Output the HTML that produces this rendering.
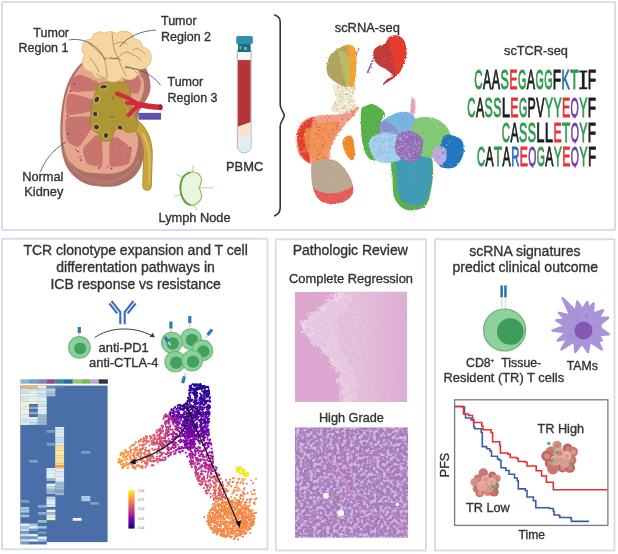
<!DOCTYPE html>
<html><head><meta charset="utf-8"><style>
html,body{margin:0;padding:0;background:#ffffff;}
svg{display:block;}
</style></head><body>
<svg width="618" height="554" viewBox="0 0 618 554">
<rect x="2" y="2" width="613" height="228" fill="#ffffff" stroke="#dcdbea" stroke-width="2" rx="0.5"/>
<rect x="2" y="238.7" width="265.5" height="310.59999999999997" fill="#ffffff" stroke="#dcdbea" stroke-width="2" rx="0.5"/>
<rect x="275.8" y="239.2" width="150.2" height="311.2" fill="#ffffff" stroke="#dcdbea" stroke-width="2" rx="0.5"/>
<rect x="435" y="239.2" width="179.5" height="311.2" fill="#ffffff" stroke="#dcdbea" stroke-width="2" rx="0.5"/>
<path d="M87.4,59.9 C80.6,61.8 77.9,66.6 74.4,71.2 C70.9,75.8 68.4,81.5 66.3,87.4 C64.2,93.3 63.0,99.5 62.0,106.8 C61.0,114.1 60.2,123.2 60.3,131.2 C60.4,139.2 60.9,148.2 62.5,155.0 C64.1,161.8 66.4,167.3 70.0,172.0 C73.6,176.7 79.0,180.6 84.0,183.0 C89.0,185.4 94.2,186.1 100.0,186.5 C105.8,186.9 112.7,187.2 118.5,185.4 C124.3,183.7 130.7,180.2 134.8,176.0 C138.9,171.8 141.5,166.0 143.0,160.0 C144.5,154.0 144.8,145.7 144.0,140.0 C143.2,134.3 138.8,130.7 138.0,126.0 C137.2,121.3 137.7,116.3 139.0,112.0 C140.3,107.7 144.1,104.0 146.0,100.0 C147.9,96.0 150.2,92.5 150.5,88.0 C150.8,83.5 149.4,76.7 148.0,73.0 C146.6,69.3 147.5,68.2 142.0,66.0 C136.5,63.8 124.1,61.0 115.0,60.0 C105.9,59.0 94.2,58.0 87.4,59.9Z" fill="#ad6f66"/>
<path d="M64,150 C68,168 82,180 100,182.5 C118,183 132,174 139,160" fill="none" stroke="#bb7d74" stroke-width="2.5" opacity="0.7"/>
<path d="M88.0,62.0 C81.5,63.8 79.3,68.5 76.0,73.0 C72.7,77.5 70.0,83.3 68.0,89.0 C66.0,94.7 64.9,100.0 64.0,107.0 C63.1,114.0 62.4,123.8 62.5,131.0 C62.6,138.2 63.1,144.7 64.5,150.0 C65.9,155.3 67.8,159.4 71.0,163.0 C74.2,166.6 79.2,169.8 84.0,171.5 C88.8,173.2 94.3,173.3 100.0,173.5 C105.7,173.7 112.8,173.9 118.0,172.5 C123.2,171.1 127.8,168.6 131.0,165.0 C134.2,161.4 135.8,155.5 137.0,151.0 C138.2,146.5 138.5,142.2 138.0,138.0 C137.5,133.8 134.5,130.3 134.0,126.0 C133.5,121.7 133.8,116.2 135.0,112.0 C136.2,107.8 139.3,104.8 141.0,101.0 C142.7,97.2 144.7,93.2 145.0,89.0 C145.3,84.8 144.2,79.3 143.0,76.0 C141.8,72.7 142.7,71.3 138.0,69.0 C133.3,66.7 123.3,63.2 115.0,62.0 C106.7,60.8 94.5,60.2 88.0,62.0Z" fill="#e6a68e"/>
<path d="M139,68 C147,74 151,84 149,94 C147,100 143,104 140,110 L137,108 C140,100 145,92 144,84 C143,76 140,72 137,70Z" fill="#b27565"/>
<path d="M71.0,79.0 C71.9,77.3 78.3,74.6 81.0,75.0 C83.7,75.4 96.8,81.1 98.3,82.6 C99.8,84.1 98.7,89.3 96.1,90.2 C93.5,91.1 74.5,92.6 72.0,91.5 C69.5,90.4 70.1,80.7 71.0,79.0Z" fill="#c9756f"/>
<path d="M68.5,94.0 C71.0,92.5 90.4,98.4 92.9,99.5 C95.4,100.6 93.6,103.9 93.5,105.0 C93.4,106.1 94.4,109.8 91.8,110.7 C89.2,111.7 69.8,116.2 67.5,114.5 C65.2,112.8 66.0,95.5 68.5,94.0Z" fill="#c9756f"/>
<path d="M66.5,118.3 C68.8,115.9 88.0,116.6 90.7,117.2 C93.4,117.8 93.1,122.6 93.0,124.0 C92.9,125.4 91.4,128.8 90.0,131.0 C88.6,133.2 81.2,145.5 79.0,146.5 C76.8,147.5 68.8,143.8 67.5,141.0 C66.2,138.2 64.2,120.7 66.5,118.3Z" fill="#c9756f"/>
<path d="M83.1,149.0 C84.0,146.2 94.2,136.6 96.1,135.6 C97.9,134.6 101.0,137.4 101.6,139.0 C102.2,140.6 102.5,149.3 102.5,152.0 C102.5,154.7 103.1,164.8 101.6,166.0 C100.1,167.2 89.3,165.5 87.5,163.8 C85.7,162.1 82.2,151.8 83.1,149.0Z" fill="#c9756f"/>
<path d="M110.2,140.0 C111.0,137.2 115.7,136.9 117.8,137.8 C119.9,138.7 129.7,146.0 130.8,148.6 C131.9,151.2 130.7,162.1 128.6,163.8 C126.5,165.5 112.0,168.4 110.2,166.0 C108.4,163.6 109.4,142.8 110.2,140.0Z" fill="#c9756f"/>
<path d="M124.0,76.0 C124.7,73.9 132.3,70.4 134.0,71.0 C135.7,71.6 140.6,79.8 141.0,82.0 C141.4,84.2 139.4,92.0 138.0,93.0 C136.6,94.0 128.4,93.7 127.0,92.0 C125.6,90.3 123.3,78.1 124.0,76.0Z" fill="#c9756f"/>
<g stroke="#b9625f" stroke-width="0.45" opacity="0.55">
<line x1="72" y1="100" x2="92" y2="104"/>
<line x1="71" y1="108" x2="92" y2="106"/>
<line x1="70" y1="124" x2="89" y2="121"/>
<line x1="70" y1="132" x2="87" y2="125"/>
<line x1="88" y1="160" x2="98" y2="142"/>
<line x1="94" y1="163" x2="100" y2="142"/>
<line x1="114" y1="160" x2="114" y2="141"/>
<line x1="121" y1="158" x2="118" y2="143"/>
<line x1="75" y1="84" x2="95" y2="86"/>
<line x1="78" y1="80" x2="96" y2="84"/>
</g>
<path d="M131,121 C142,128 148,138 148,155 L147,186" fill="none" stroke="#9d862e" stroke-width="9.5" stroke-linecap="round"/>
<path d="M131,121 C142,128 148,138 148,155 L147,186" fill="none" stroke="#c9a541" stroke-width="8" stroke-linecap="round"/>
<path d="M126,116 C134,118 140,122 146,132 C150,140 142,136 133,130Z" fill="#c9a541"/>
<path d="M143,134 C147,142 149.5,150 149.5,160 L149.5,182" fill="none" stroke="#dcbf68" stroke-width="2" stroke-linecap="round" opacity="0.9"/>
<path d="M98.3,84.2 C100.1,82.8 106.2,81.8 109.1,81.5 C112.0,81.2 117.5,81.7 120.0,82.0 C122.5,82.3 126.7,82.2 128.0,83.5 C129.3,84.8 129.5,89.3 130.0,92.0 C130.5,94.7 131.5,101.1 132.0,104.0 C132.5,106.9 133.2,111.5 134.0,114.0 C134.8,116.5 137.9,120.7 138.0,123.0 C138.1,125.3 136.6,130.1 135.1,131.3 C133.6,132.5 128.5,132.4 126.5,132.0 C124.5,131.6 121.7,128.0 120.0,128.0 C118.3,128.0 115.2,130.3 114.0,132.0 C112.8,133.7 113.0,139.4 111.3,140.5 C109.6,141.6 103.3,141.4 101.6,140.5 C99.9,139.6 99.5,135.5 98.3,134.0 C97.1,132.5 93.6,131.2 92.5,129.5 C91.4,127.8 90.4,124.3 90.2,121.6 C90.0,118.9 90.9,112.3 91.2,109.6 C91.5,106.9 91.9,103.3 92.5,101.0 C93.1,98.7 94.8,94.5 95.6,92.3 C96.4,90.1 96.5,85.6 98.3,84.2Z" fill="#ae9634" stroke="#98822c" stroke-width="0.8"/>
<ellipse cx="103.7" cy="86.8" rx="3.8" ry="2.3" transform="rotate(-10 103.7 86.8)" fill="#4a3528" stroke="#d8c478" stroke-width="0.9"/>
<ellipse cx="96.8" cy="99.5" rx="2.6" ry="3.5" transform="rotate(25 96.8 99.5)" fill="#4a3528" stroke="#d8c478" stroke-width="0.9"/>
<ellipse cx="95.2" cy="114" rx="2.6" ry="2.9" transform="rotate(0 95.2 114)" fill="#4a3528" stroke="#d8c478" stroke-width="0.9"/>
<ellipse cx="96.5" cy="127" rx="2.8" ry="3" transform="rotate(-30 96.5 127)" fill="#4a3528" stroke="#d8c478" stroke-width="0.9"/>
<ellipse cx="106" cy="135.5" rx="2.5" ry="3.2" transform="rotate(0 106 135.5)" fill="#4a3528" stroke="#d8c478" stroke-width="0.9"/>
<ellipse cx="120" cy="127.5" rx="3" ry="2.5" transform="rotate(20 120 127.5)" fill="#4a3528" stroke="#d8c478" stroke-width="0.9"/>
<ellipse cx="112" cy="117" rx="2.5" ry="1.2" fill="#977f2c"/>
<ellipse cx="113" cy="98" rx="1.2" ry="2" fill="#977f2c"/>
<path d="M123,96 C125,106 128,114 134,122" fill="none" stroke="#cdb55a" stroke-width="1" opacity="0.7"/>
<rect x="138.4" y="112.9" width="22.6" height="6.8" fill="#5d52aa"/>
<g fill="none" stroke="#cf2b3a" stroke-linecap="round">
<path d="M160,107.3 C152,107 144,105.5 137.3,104.2" stroke-width="5.5"/>
<path d="M138,104 C132,100 124,96 117,93.6" stroke-width="4.2"/>
<path d="M139,104.5 C134,103.5 130,103 126.5,103" stroke-width="3.5"/>
<path d="M140,105 C135,108 131,112 128.6,115" stroke-width="4"/>
</g>
<ellipse cx="160.5" cy="107.3" rx="1.7" ry="3" fill="#a81e2a"/>
<circle cx="74" cy="84" r="0.95" fill="#c03040"/>
<circle cx="72.5" cy="80" r="0.95" fill="#8a78c0"/>
<circle cx="70.5" cy="91" r="0.95" fill="#c03040"/>
<circle cx="67.5" cy="116" r="0.95" fill="#c03040"/>
<circle cx="68" cy="118.5" r="0.95" fill="#8a78c0"/>
<circle cx="68" cy="131.5" r="0.95" fill="#8a78c0"/>
<circle cx="68" cy="134" r="0.95" fill="#c03040"/>
<circle cx="76" cy="150" r="0.95" fill="#8a78c0"/>
<circle cx="78" cy="151.5" r="0.95" fill="#c03040"/>
<circle cx="80" cy="157" r="0.95" fill="#8a78c0"/>
<circle cx="81" cy="160" r="0.95" fill="#c03040"/>
<circle cx="99" cy="168" r="0.95" fill="#c03040"/>
<circle cx="101" cy="166.5" r="0.95" fill="#8a78c0"/>
<circle cx="108" cy="167" r="0.95" fill="#8a78c0"/>
<circle cx="111.5" cy="168.5" r="0.95" fill="#c03040"/>
<circle cx="130.5" cy="148" r="0.95" fill="#c03040"/>
<circle cx="131" cy="150.5" r="0.95" fill="#8a78c0"/>
<circle cx="141" cy="76" r="0.95" fill="#8a78c0"/>
<circle cx="90.5" cy="48" r="9.2" fill="#e0b87a"/>
<circle cx="92" cy="62" r="10.2" fill="#e0b87a"/>
<circle cx="100" cy="40" r="8.7" fill="#e0b87a"/>
<circle cx="110" cy="43" r="11.7" fill="#e0b87a"/>
<circle cx="124" cy="42" r="11.2" fill="#e0b87a"/>
<circle cx="134" cy="47" r="8.7" fill="#e0b87a"/>
<circle cx="140" cy="58" r="11.7" fill="#e0b87a"/>
<circle cx="129" cy="70" r="10.2" fill="#e0b87a"/>
<circle cx="113" cy="70" r="12.2" fill="#e0b87a"/>
<circle cx="100" cy="70" r="8.7" fill="#e0b87a"/>
<circle cx="118" cy="56" r="12.7" fill="#e0b87a"/>
<circle cx="90.5" cy="48" r="8.5" fill="#f6d6a0"/>
<circle cx="92" cy="62" r="9.5" fill="#f6d6a0"/>
<circle cx="100" cy="40" r="8" fill="#f6d6a0"/>
<circle cx="110" cy="43" r="11" fill="#f6d6a0"/>
<circle cx="124" cy="42" r="10.5" fill="#f6d6a0"/>
<circle cx="134" cy="47" r="8" fill="#f6d6a0"/>
<circle cx="140" cy="58" r="11" fill="#f6d6a0"/>
<circle cx="129" cy="70" r="9.5" fill="#f6d6a0"/>
<circle cx="113" cy="70" r="11.5" fill="#f6d6a0"/>
<circle cx="100" cy="70" r="8" fill="#f6d6a0"/>
<circle cx="118" cy="56" r="12" fill="#f6d6a0"/>
<ellipse cx="112" cy="57" rx="22" ry="15" fill="#f6d6a0"/>
<g fill="none" stroke="#b88a5c" stroke-width="0.9" stroke-linecap="round">
<path d="M89,44 C95,48 100,52 103.5,57.5"/>
<path d="M103.5,57.5 C106,63 107,70 107,78"/>
<path d="M103.5,57.5 C110,59 114,59 118,58"/>
<path d="M118,58 C121,54 124,52 128,52"/>
<path d="M112,33 C113,42 113,50 118,58"/>
<path d="M118,58 C120,64 123,70 126,76"/>
<path d="M128,52 C133,55 137,56 141,60"/>
<path d="M125,66 C129,66 134,69 137,73"/>
<path d="M90,58 C93,62 97,66 99,72"/>
<path d="M114,44 C118,42 123,41 127,44"/>
<path d="M133,50 C137,47 142,50 145,54"/>
<path d="M96,74 C100,76 103,78 106,79"/>
</g>
<g fill="none" stroke="#c8403a" stroke-width="0.8"><path d="M110,57.5 L114,59 L118,58 L121,61"/><path d="M104,58 L106,60"/></g>
<g fill="none" stroke="#5c5c5c" stroke-width="0.9">
<path d="M68.5,40 C80,38 94,41 103.6,56.8"/>
<path d="M156,30 C141,31 128,36 119.6,47"/>
<path d="M125,67.5 C140,68 152,74 160.6,85.3"/>
<path d="M40.5,172 C44,162 52,150 66,142"/>
</g>
<path d="M237.3,50 L237.3,146 A6.9,6.9 0 0 0 251.1,146 L251.1,50 Z" fill="#f4fafc" stroke="#a5a5a5" stroke-width="0.9"/>
<path d="M238,60 L250.5,60 L250.5,122.2 L238,126.7 Z" fill="#b2353a"/>
<path d="M238,126.7 L250.5,122.2 L250.5,135.3 L238,138.9 Z" fill="#fae1c8"/>
<path d="M238,138.9 L250.5,135.3 L250.5,146 A6.25,6.25 0 0 1 238,146 Z" fill="#dcf0f4"/>
<rect x="238" y="60" width="12.5" height="2" fill="#c24448" opacity="0.6"/>
<rect x="238" y="43" width="12.6" height="9" fill="#1f6b7b"/>
<rect x="236.2" y="36" width="16.6" height="8" rx="1.5" fill="#2b93a8"/>
<rect x="239.5" y="46" width="2" height="3" fill="#5fb4c4"/><rect x="244" y="47" width="3" height="3" fill="#5fb4c4"/>
<g stroke="#cfe3b6" stroke-width="1.6" stroke-linecap="round">
<line x1="193" y1="165.8" x2="193" y2="172"/>
<line x1="177" y1="174.6" x2="183" y2="177.5"/>
<line x1="174.8" y1="196.4" x2="181.3" y2="194.2"/>
<line x1="193.7" y1="204.4" x2="196.6" y2="209.5"/>
<line x1="200.2" y1="187.7" x2="212.6" y2="187.7"/>
</g>
<path d="M180.3,187.7 C180.1,183.2 181.1,179.8 183.0,177.0 C184.9,174.2 188.1,172.8 190.8,172.2 C193.6,171.6 196.0,172.3 198.0,173.5 C200.0,174.7 201.0,177.0 201.5,179.0 C202.0,181.0 201.0,182.9 200.5,184.5 C200.0,186.1 199.0,186.5 199.0,187.7 C199.0,188.9 200.0,189.2 200.5,191.0 C201.0,192.8 202.1,195.2 201.5,197.5 C200.9,199.8 199.0,202.1 197.0,203.5 C195.0,204.9 193.2,205.7 190.8,205.3 C188.4,204.9 185.9,204.7 184.0,201.5 C182.1,198.3 180.5,192.2 180.3,187.7Z" fill="#e9f5dc" stroke="#86bb66" stroke-width="1.1"/>
<path d="M190,172.5 C184,174 180.5,180 180.3,188 C180.5,196 184,202 190,205" fill="none" stroke="#5f9e44" stroke-width="1.8" stroke-linecap="round"/>
<path d="M274.7,15 C278,16 280.2,18.5 280.2,22 L280.2,105 C280.2,109 284.3,113 284.3,115.5 C284.3,118 280.2,122 280.2,126 L280.2,207.5 C280.2,211.5 278,214.5 274.7,215.8" fill="none" stroke="#333" stroke-width="1.6" stroke-linecap="round"/>
<defs><filter id="rough" x="-10%" y="-10%" width="120%" height="120%"><feTurbulence type="fractalNoise" baseFrequency="0.9" numOctaves="2" seed="3"/><feDisplacementMap in="SourceGraphic" scale="2.5"/><feGaussianBlur stdDeviation="0.45"/></filter></defs>
<g filter="url(#rough)">
<path d="M333.0,85.0 C334.5,82.7 341.2,84.5 345.0,84.5 C348.8,84.5 354.5,82.7 356.0,85.0 C357.5,87.3 353.6,94.2 354.0,98.5 C354.4,102.8 360.0,108.1 358.5,110.5 C357.0,112.9 349.6,113.0 345.0,113.0 C340.4,113.0 332.5,112.9 331.0,110.5 C329.5,108.1 335.7,102.8 336.0,98.5 C336.3,94.2 331.5,87.3 333.0,85.0Z" fill="#ece4cc" />
<path d="M327.0,64.3 C327.6,60.9 328.7,56.9 331.1,54.0 C333.5,51.1 338.2,48.6 341.4,47.1 C344.5,45.6 347.8,44.4 350.0,45.0 C352.2,45.6 353.5,46.8 354.4,50.6 C355.2,54.4 355.3,62.0 355.1,67.7 C354.9,73.4 355.1,81.7 353.4,84.8 C351.7,87.9 347.9,87.1 344.8,86.5 C341.7,85.9 337.4,83.4 334.5,81.4 C331.6,79.4 328.9,77.4 327.7,74.6 C326.4,71.8 326.4,67.7 327.0,64.3Z" fill="#aca45e" />
<path d="M338,50 C347,50 352,58 352,70 C352,78 350,84 347,86 C343,75 340,60 338,50Z" fill="#d0c868" opacity="0.55"/>
<path d="M346,45 C352,43 356,47 356.5,55 C357,66 356,77 354,85 C352,88 350,88 349,85 C351,73 351,58 346,45Z" fill="#f0a232"/>
<path d="M373.5,51.1 C374.0,49.1 375.8,47.6 377.6,46.4 C379.4,45.2 384.2,44.1 385.8,42.9 C387.4,41.7 387.0,39.3 388.2,38.2 C389.4,37.1 392.2,35.6 394.0,35.3 C395.8,35.0 398.4,35.5 400.0,36.5 C401.6,37.5 403.6,39.2 404.6,41.7 C405.6,44.2 406.5,50.3 406.4,53.5 C406.3,56.7 405.0,60.1 404.0,62.9 C403.0,65.7 401.2,70.2 399.9,72.3 C398.6,74.4 397.0,75.6 395.2,77.0 C393.4,78.4 390.1,80.5 388.2,81.7 C386.3,82.9 382.5,85.6 382.3,85.2 C382.1,84.8 385.4,80.7 387.0,79.3 C388.6,77.9 392.9,77.2 392.9,75.8 C392.9,74.4 389.1,71.5 387.0,69.9 C384.9,68.3 380.7,66.8 378.8,65.2 C376.9,63.6 374.9,61.5 374.1,59.4 C373.3,57.3 373.0,53.1 373.5,51.1Z" fill="#c23a3a" />
<path d="M388,38 C392,35 400,35 404.6,41.7 C407,48 407,58 404,63 C402,69 399,73 396,76 C394,68 393,60 391,52 C390,46 389,42 388,38Z" fill="#e63a2c"/>
<path d="M367.6,72.3 L372.9,60.5" stroke="#9a6ac8" stroke-width="1.8" stroke-linecap="round"/>
<path d="M356,55 L359,48" stroke="#e06060" stroke-width="1.2"/>
<path d="M296.9,132.8 C297.8,127.4 300.3,123.7 303.7,120.8 C307.1,117.9 311.1,116.8 317.4,115.7 C323.7,114.6 334.5,115.4 341.4,114.0 C348.2,112.6 356.2,107.1 358.5,107.1 C360.8,107.1 358.0,110.3 355.1,114.0 C352.2,117.7 345.4,124.0 341.4,129.4 C337.4,134.8 333.4,141.1 331.1,146.5 C328.8,151.9 331.1,159.1 327.7,162.0 C324.3,164.9 315.5,165.1 310.6,163.7 C305.8,162.3 300.9,158.6 298.6,153.4 C296.3,148.2 296.0,138.2 296.9,132.8Z" fill="#f0a08c" />
<path d="M297,133 C300,124 306,119 316,116.5 C310,126 308,140 310,163 C302,160 297,150 297,133Z" fill="#e4402e"/>
<path d="M304,134 C310,124 326,120 340,122 C336,136 328,150 324,162 C312,162 304,152 304,134Z" fill="#f09050" opacity="0.85"/>
<path d="M314.0,162.0 C317.9,159.7 328.8,158.2 334.5,160.2 C340.2,162.2 345.2,168.9 348.3,174.0 C351.4,179.1 354.0,186.4 353.4,191.0 C352.8,195.6 349.6,199.4 344.8,201.4 C340.0,203.4 329.4,204.7 324.3,203.0 C319.2,201.3 316.2,195.8 314.0,191.0 C311.8,186.2 311.2,178.8 311.2,174.0 C311.2,169.2 310.1,164.3 314.0,162.0Z" fill="#baa892" />
<path d="M313,188 C322,195 340,196 353,186 C354,196 348,202 334,204 C322,204 316,199 313,188Z" fill="#e85a58"/>
<path d="M343.0,139.7 C344.1,137.1 349.7,133.9 351.7,136.2 C353.7,138.5 355.1,149.4 355.1,153.4 C355.1,157.4 353.4,160.5 351.7,160.2 C350.0,159.9 346.2,155.1 344.8,151.7 C343.4,148.3 341.9,142.3 343.0,139.7Z" fill="#f08a2a" />
<path d="M361.0,111.0 C361.7,105.3 364.2,107.2 366.0,106.0 C367.8,104.8 369.7,103.7 372.0,104.0 C374.3,104.3 377.8,106.3 380.0,108.0 C382.2,109.7 384.8,111.7 385.0,114.0 C385.2,116.3 381.8,118.0 381.0,122.0 C380.2,126.0 380.3,133.0 380.0,138.0 C379.7,143.0 380.0,148.3 379.0,152.0 C378.0,155.7 376.0,159.3 374.0,160.0 C372.0,160.7 369.0,159.3 367.0,156.0 C365.0,152.7 363.0,147.5 362.0,140.0 C361.0,132.5 360.3,116.7 361.0,111.0Z" fill="#58b04a" />
<path d="M394.0,156.0 C399.9,152.4 421.5,153.8 428.0,156.0 C434.5,158.2 432.5,163.3 433.0,169.0 C433.5,174.7 432.3,183.8 431.0,190.0 C429.7,196.2 429.0,203.2 425.0,206.5 C421.0,209.8 412.0,211.2 407.0,210.0 C402.0,208.8 397.4,204.4 395.0,199.0 C392.6,193.6 392.7,184.5 392.5,177.3 C392.3,170.1 388.1,159.6 394.0,156.0Z" fill="#5cb048" />
<path d="M398.0,157.0 C403.2,153.7 422.3,155.0 428.0,157.0 C433.7,159.0 431.7,163.5 432.0,169.0 C432.3,174.5 431.3,184.3 430.0,190.0 C428.7,195.7 427.5,200.5 424.0,203.0 C420.5,205.5 413.2,206.3 409.0,205.0 C404.8,203.7 401.0,199.7 399.0,195.0 C397.0,190.3 397.2,183.3 397.0,177.0 C396.8,170.7 392.8,160.3 398.0,157.0Z" fill="#3f9cb4" />
<path d="M381.0,124.0 C381.3,119.5 388.8,117.0 392.0,115.0 C395.2,113.0 397.3,112.5 400.0,112.0 C402.7,111.5 405.7,111.6 408.0,112.3 C410.3,113.0 412.5,112.7 414.0,116.0 C415.5,119.3 418.3,127.7 417.0,132.0 C415.7,136.3 410.5,140.3 406.0,142.0 C401.5,143.7 394.2,145.0 390.0,142.0 C385.8,139.0 380.7,128.5 381.0,124.0Z" fill="#78b4e0" />
<path d="M380,122 C388,119 398,126 400,140 C392,143 383,140 379,132Z" fill="#8a8ccc" opacity="0.85"/>
<path d="M369.0,142.0 C369.7,138.0 374.2,135.5 378.0,134.0 C381.8,132.5 387.7,132.0 392.0,133.0 C396.3,134.0 401.7,136.8 404.0,140.0 C406.3,143.2 407.0,148.5 406.0,152.0 C405.0,155.5 401.7,159.2 398.0,161.0 C394.3,162.8 388.0,163.5 384.0,163.0 C380.0,162.5 376.5,161.5 374.0,158.0 C371.5,154.5 368.3,146.0 369.0,142.0Z" fill="#a4cfec" />
<path d="M414.0,121.0 C417.2,116.2 425.7,116.7 431.0,117.5 C436.3,118.3 442.7,122.2 446.0,126.0 C449.3,129.8 451.5,135.7 451.0,140.5 C450.5,145.3 447.5,152.2 443.0,155.0 C438.5,157.8 429.2,158.5 424.0,157.0 C418.8,155.5 413.7,152.0 412.0,146.0 C410.3,140.0 410.8,125.8 414.0,121.0Z" fill="#84c874" />
<path d="M446.0,135.0 C449.5,133.9 458.1,136.4 461.0,139.5 C463.9,142.6 464.5,148.9 463.5,153.5 C462.5,158.1 458.8,164.8 455.0,167.0 C451.2,169.2 444.1,168.5 441.0,167.0 C437.9,165.5 436.7,161.3 436.5,157.8 C436.3,154.3 438.4,149.8 440.0,146.0 C441.6,142.2 442.5,136.1 446.0,135.0Z" fill="#2078c0" />
<path d="M435.0,147.0 C437.0,145.3 443.2,145.8 445.0,148.0 C446.8,150.2 446.8,157.2 446.0,160.0 C445.2,162.8 442.2,165.3 440.0,165.0 C437.8,164.7 433.8,161.0 433.0,158.0 C432.2,155.0 433.0,148.7 435.0,147.0Z" fill="#c2a8e0" />
<path d="M399.0,134.0 C401.2,131.2 405.2,131.2 408.0,131.0 C410.8,130.8 413.5,131.5 416.0,133.0 C418.5,134.5 422.0,137.2 423.0,140.0 C424.0,142.8 422.8,146.7 422.0,150.0 C421.2,153.3 420.3,158.0 418.0,160.0 C415.7,162.0 411.0,162.3 408.0,162.0 C405.0,161.7 402.2,160.3 400.0,158.0 C397.8,155.7 395.2,152.0 395.0,148.0 C394.8,144.0 396.8,136.8 399.0,134.0Z" fill="#9a6cb8" />
<path d="M410,114 C411,106 410,100 413,97 C416,100 416,106 415,114Z" fill="#e0a8b0"/>
</g>
<circle cx="407.7" cy="148.4" r="0.65" fill="#88b8e0"/>
<circle cx="407.7" cy="157.5" r="0.65" fill="#b090d0"/>
<circle cx="400.2" cy="146.9" r="0.65" fill="#b090d0"/>
<circle cx="397.6" cy="140.4" r="0.65" fill="#7a50a0"/>
<circle cx="410.1" cy="158.6" r="0.65" fill="#7a50a0"/>
<circle cx="411.7" cy="143.3" r="0.65" fill="#88b8e0"/>
<circle cx="413.3" cy="150.1" r="0.65" fill="#b090d0"/>
<circle cx="412.4" cy="156.8" r="0.65" fill="#7a50a0"/>
<circle cx="408.0" cy="144.7" r="0.65" fill="#b090d0"/>
<circle cx="409.5" cy="150.8" r="0.65" fill="#88b8e0"/>
<circle cx="413.3" cy="143.6" r="0.65" fill="#7a50a0"/>
<circle cx="414.8" cy="140.8" r="0.65" fill="#b090d0"/>
<circle cx="409.4" cy="131.9" r="0.65" fill="#7a50a0"/>
<circle cx="406.2" cy="157.2" r="0.65" fill="#88b8e0"/>
<circle cx="414.2" cy="137.6" r="0.65" fill="#7a50a0"/>
<circle cx="408.2" cy="161.4" r="0.65" fill="#88b8e0"/>
<circle cx="406.8" cy="148.6" r="0.65" fill="#b090d0"/>
<circle cx="416.8" cy="139.4" r="0.65" fill="#7a50a0"/>
<circle cx="406.5" cy="159.6" r="0.65" fill="#b090d0"/>
<circle cx="401.9" cy="134.1" r="0.65" fill="#7a50a0"/>
<circle cx="408.0" cy="146.1" r="0.65" fill="#b090d0"/>
<circle cx="407.5" cy="136.9" r="0.65" fill="#b090d0"/>
<circle cx="406.7" cy="142.9" r="0.65" fill="#88b8e0"/>
<circle cx="406.8" cy="137.6" r="0.65" fill="#a0c8e8"/>
<circle cx="411.2" cy="132.3" r="0.65" fill="#b090d0"/>
<circle cx="401.0" cy="139.0" r="0.65" fill="#a0c8e8"/>
<circle cx="418.2" cy="143.0" r="0.65" fill="#7a50a0"/>
<circle cx="397.5" cy="149.1" r="0.65" fill="#b090d0"/>
<circle cx="412.4" cy="134.9" r="0.65" fill="#88b8e0"/>
<circle cx="405.8" cy="150.4" r="0.65" fill="#a0c8e8"/>
<circle cx="402.0" cy="136.9" r="0.65" fill="#b090d0"/>
<circle cx="414.2" cy="143.0" r="0.65" fill="#88b8e0"/>
<circle cx="411.9" cy="144.1" r="0.65" fill="#7a50a0"/>
<circle cx="398.1" cy="146.9" r="0.65" fill="#a0c8e8"/>
<circle cx="401.7" cy="152.8" r="0.65" fill="#a0c8e8"/>
<circle cx="406.8" cy="159.0" r="0.65" fill="#88b8e0"/>
<circle cx="403.2" cy="136.4" r="0.65" fill="#7a50a0"/>
<circle cx="398.5" cy="145.9" r="0.65" fill="#7a50a0"/>
<circle cx="402.5" cy="144.8" r="0.65" fill="#7a50a0"/>
<circle cx="409.9" cy="161.2" r="0.65" fill="#7a50a0"/>
<circle cx="405.1" cy="158.6" r="0.65" fill="#a0c8e8"/>
<circle cx="413.4" cy="152.4" r="0.65" fill="#b090d0"/>
<circle cx="411.5" cy="159.6" r="0.65" fill="#88b8e0"/>
<circle cx="420.5" cy="152.7" r="0.65" fill="#7a50a0"/>
<circle cx="408.5" cy="153.6" r="0.65" fill="#a0c8e8"/>
<circle cx="407.7" cy="142.4" r="0.65" fill="#7a50a0"/>
<circle cx="420.2" cy="153.8" r="0.65" fill="#b090d0"/>
<circle cx="417.2" cy="159.4" r="0.65" fill="#a0c8e8"/>
<circle cx="397.4" cy="145.7" r="0.65" fill="#7a50a0"/>
<circle cx="419.4" cy="143.9" r="0.65" fill="#7a50a0"/>
<circle cx="419.2" cy="148.8" r="0.65" fill="#88b8e0"/>
<circle cx="398.2" cy="139.0" r="0.65" fill="#88b8e0"/>
<circle cx="415.4" cy="143.0" r="0.65" fill="#88b8e0"/>
<circle cx="407.3" cy="157.0" r="0.65" fill="#7a50a0"/>
<circle cx="409.5" cy="147.0" r="0.65" fill="#a0c8e8"/>
<circle cx="411.8" cy="145.9" r="0.65" fill="#b090d0"/>
<circle cx="416.8" cy="151.5" r="0.65" fill="#88b8e0"/>
<circle cx="403.4" cy="152.0" r="0.65" fill="#b090d0"/>
<circle cx="409.5" cy="154.4" r="0.65" fill="#a0c8e8"/>
<circle cx="413.5" cy="144.7" r="0.65" fill="#b090d0"/>
<circle cx="404.2" cy="151.6" r="0.65" fill="#b090d0"/>
<circle cx="412.8" cy="155.9" r="0.65" fill="#b090d0"/>
<circle cx="419.6" cy="142.9" r="0.65" fill="#a0c8e8"/>
<circle cx="400.9" cy="135.2" r="0.65" fill="#a0c8e8"/>
<circle cx="418.4" cy="157.3" r="0.65" fill="#7a50a0"/>
<circle cx="421.6" cy="139.6" r="0.65" fill="#b090d0"/>
<circle cx="398.2" cy="145.6" r="0.65" fill="#b090d0"/>
<circle cx="418.3" cy="142.9" r="0.65" fill="#88b8e0"/>
<circle cx="413.8" cy="153.2" r="0.65" fill="#88b8e0"/>
<circle cx="404.0" cy="156.7" r="0.65" fill="#a0c8e8"/>
<circle cx="414.8" cy="148.7" r="0.65" fill="#a0c8e8"/>
<circle cx="413.2" cy="148.5" r="0.65" fill="#b090d0"/>
<circle cx="406.3" cy="136.9" r="0.65" fill="#a0c8e8"/>
<circle cx="401.6" cy="135.4" r="0.65" fill="#7a50a0"/>
<circle cx="398.1" cy="147.6" r="0.65" fill="#a0c8e8"/>
<circle cx="400.6" cy="145.7" r="0.65" fill="#b090d0"/>
<circle cx="415.0" cy="154.4" r="0.65" fill="#7a50a0"/>
<circle cx="400.0" cy="139.4" r="0.65" fill="#a0c8e8"/>
<circle cx="410.1" cy="160.4" r="0.65" fill="#b090d0"/>
<circle cx="406.0" cy="155.5" r="0.65" fill="#b090d0"/>
<circle cx="415.2" cy="135.0" r="0.65" fill="#88b8e0"/>
<circle cx="395.2" cy="148.1" r="0.65" fill="#a0c8e8"/>
<circle cx="408.0" cy="151.2" r="0.65" fill="#b090d0"/>
<circle cx="417.4" cy="159.7" r="0.65" fill="#7a50a0"/>
<circle cx="410.0" cy="155.5" r="0.65" fill="#a0c8e8"/>
<circle cx="402.3" cy="153.3" r="0.65" fill="#7a50a0"/>
<circle cx="404.8" cy="133.6" r="0.65" fill="#88b8e0"/>
<circle cx="404.6" cy="144.1" r="0.65" fill="#a0c8e8"/>
<circle cx="408.6" cy="131.9" r="0.65" fill="#7a50a0"/>
<circle cx="407.0" cy="132.1" r="0.65" fill="#a0c8e8"/>
<circle cx="414.2" cy="159.4" r="0.65" fill="#88b8e0"/>
<circle cx="399.2" cy="147.0" r="0.65" fill="#88b8e0"/>
<circle cx="421.5" cy="146.3" r="0.65" fill="#7a50a0"/>
<circle cx="416.2" cy="144.6" r="0.65" fill="#a0c8e8"/>
<circle cx="418.3" cy="148.4" r="0.65" fill="#b090d0"/>
<circle cx="409.6" cy="157.2" r="0.65" fill="#a0c8e8"/>
<circle cx="403.7" cy="142.8" r="0.65" fill="#b090d0"/>
<circle cx="403.5" cy="135.4" r="0.65" fill="#a0c8e8"/>
<circle cx="411.0" cy="137.2" r="0.65" fill="#7a50a0"/>
<circle cx="409.1" cy="149.8" r="0.65" fill="#7a50a0"/>
<circle cx="410.1" cy="132.4" r="0.65" fill="#88b8e0"/>
<circle cx="407.9" cy="159.5" r="0.65" fill="#88b8e0"/>
<circle cx="402.5" cy="145.7" r="0.65" fill="#b090d0"/>
<circle cx="404.5" cy="158.9" r="0.65" fill="#88b8e0"/>
<circle cx="409.7" cy="134.4" r="0.65" fill="#88b8e0"/>
<circle cx="412.3" cy="159.7" r="0.65" fill="#b090d0"/>
<circle cx="415.3" cy="138.6" r="0.65" fill="#88b8e0"/>
<circle cx="397.9" cy="153.7" r="0.65" fill="#7a50a0"/>
<circle cx="418.9" cy="150.3" r="0.65" fill="#b090d0"/>
<circle cx="414.6" cy="158.2" r="0.65" fill="#7a50a0"/>
<circle cx="394.5" cy="124.4" r="0.6" fill="#a0c8f0"/>
<circle cx="400.4" cy="137.9" r="0.6" fill="#a0c8f0"/>
<circle cx="400.1" cy="137.5" r="0.6" fill="#a0c8f0"/>
<circle cx="389.4" cy="134.2" r="0.6" fill="#8a88cc"/>
<circle cx="413.5" cy="121.5" r="0.6" fill="#8a88cc"/>
<circle cx="413.1" cy="117.8" r="0.6" fill="#a0c8f0"/>
<circle cx="413.0" cy="116.0" r="0.6" fill="#a0c8f0"/>
<circle cx="395.0" cy="125.0" r="0.6" fill="#8a88cc"/>
<circle cx="400.6" cy="133.1" r="0.6" fill="#a0c8f0"/>
<circle cx="395.5" cy="132.6" r="0.6" fill="#a0c8f0"/>
<circle cx="384.5" cy="129.1" r="0.6" fill="#8a88cc"/>
<circle cx="385.2" cy="127.2" r="0.6" fill="#8a88cc"/>
<circle cx="399.1" cy="132.6" r="0.6" fill="#a0c8f0"/>
<circle cx="409.9" cy="126.5" r="0.6" fill="#a0c8f0"/>
<circle cx="399.5" cy="129.1" r="0.6" fill="#a0c8f0"/>
<circle cx="391.2" cy="132.2" r="0.6" fill="#a0c8f0"/>
<circle cx="385.8" cy="132.4" r="0.6" fill="#a0c8f0"/>
<circle cx="408.5" cy="121.8" r="0.6" fill="#8a88cc"/>
<circle cx="396.4" cy="122.6" r="0.6" fill="#a0c8f0"/>
<circle cx="402.6" cy="112.4" r="0.6" fill="#a0c8f0"/>
<circle cx="411.4" cy="117.4" r="0.6" fill="#8a88cc"/>
<circle cx="393.9" cy="123.1" r="0.6" fill="#a0c8f0"/>
<circle cx="402.8" cy="114.8" r="0.6" fill="#a0c8f0"/>
<circle cx="401.5" cy="117.7" r="0.6" fill="#8a88cc"/>
<circle cx="410.0" cy="119.7" r="0.6" fill="#a0c8f0"/>
<circle cx="407.8" cy="135.3" r="0.6" fill="#8a88cc"/>
<circle cx="385.8" cy="121.9" r="0.6" fill="#8a88cc"/>
<circle cx="408.6" cy="135.0" r="0.6" fill="#8a88cc"/>
<circle cx="409.7" cy="121.1" r="0.6" fill="#a0c8f0"/>
<circle cx="404.0" cy="130.7" r="0.6" fill="#a0c8f0"/>
<circle cx="390.8" cy="140.8" r="0.6" fill="#8a88cc"/>
<circle cx="393.2" cy="131.8" r="0.6" fill="#a0c8f0"/>
<circle cx="400.2" cy="123.7" r="0.6" fill="#8a88cc"/>
<circle cx="404.1" cy="133.0" r="0.6" fill="#8a88cc"/>
<circle cx="403.2" cy="134.2" r="0.6" fill="#8a88cc"/>
<circle cx="397.0" cy="127.1" r="0.6" fill="#a0c8f0"/>
<circle cx="404.3" cy="112.3" r="0.6" fill="#8a88cc"/>
<circle cx="390.0" cy="139.2" r="0.6" fill="#8a88cc"/>
<circle cx="415.8" cy="129.0" r="0.6" fill="#a0c8f0"/>
<circle cx="404.0" cy="136.3" r="0.6" fill="#a0c8f0"/>
<circle cx="389.3" cy="153.1" r="0.6" fill="#80b8e0"/>
<circle cx="383.3" cy="161.2" r="0.6" fill="#c8e4f4"/>
<circle cx="386.5" cy="138.1" r="0.6" fill="#c8e4f4"/>
<circle cx="389.1" cy="150.9" r="0.6" fill="#c8e4f4"/>
<circle cx="404.0" cy="145.6" r="0.6" fill="#9a8ad0"/>
<circle cx="383.7" cy="142.4" r="0.6" fill="#9a8ad0"/>
<circle cx="379.6" cy="152.7" r="0.6" fill="#9a8ad0"/>
<circle cx="403.4" cy="152.9" r="0.6" fill="#9a8ad0"/>
<circle cx="378.1" cy="134.3" r="0.6" fill="#80b8e0"/>
<circle cx="384.1" cy="153.5" r="0.6" fill="#80b8e0"/>
<circle cx="402.2" cy="155.5" r="0.6" fill="#80b8e0"/>
<circle cx="390.5" cy="154.7" r="0.6" fill="#c8e4f4"/>
<circle cx="384.9" cy="147.3" r="0.6" fill="#80b8e0"/>
<circle cx="378.1" cy="154.2" r="0.6" fill="#80b8e0"/>
<circle cx="392.1" cy="146.7" r="0.6" fill="#80b8e0"/>
<circle cx="400.9" cy="143.7" r="0.6" fill="#80b8e0"/>
<circle cx="373.6" cy="146.3" r="0.6" fill="#9a8ad0"/>
<circle cx="384.4" cy="151.0" r="0.6" fill="#9a8ad0"/>
<circle cx="390.5" cy="145.6" r="0.6" fill="#9a8ad0"/>
<circle cx="377.8" cy="136.4" r="0.6" fill="#c8e4f4"/>
<circle cx="398.0" cy="151.7" r="0.6" fill="#c8e4f4"/>
<circle cx="379.2" cy="151.3" r="0.6" fill="#9a8ad0"/>
<circle cx="389.9" cy="150.8" r="0.6" fill="#9a8ad0"/>
<circle cx="379.3" cy="140.2" r="0.6" fill="#80b8e0"/>
<circle cx="387.6" cy="152.6" r="0.6" fill="#80b8e0"/>
<circle cx="371.2" cy="141.1" r="0.6" fill="#c8e4f4"/>
<circle cx="377.2" cy="141.3" r="0.6" fill="#80b8e0"/>
<circle cx="386.9" cy="143.6" r="0.6" fill="#c8e4f4"/>
<circle cx="381.7" cy="155.3" r="0.6" fill="#80b8e0"/>
<circle cx="398.7" cy="146.4" r="0.6" fill="#9a8ad0"/>
<circle cx="400.0" cy="156.1" r="0.6" fill="#c8e4f4"/>
<circle cx="384.7" cy="140.7" r="0.6" fill="#80b8e0"/>
<circle cx="382.7" cy="152.6" r="0.6" fill="#9a8ad0"/>
<circle cx="381.0" cy="149.5" r="0.6" fill="#9a8ad0"/>
<circle cx="399.6" cy="138.5" r="0.6" fill="#9a8ad0"/>
<circle cx="382.7" cy="135.9" r="0.6" fill="#c8e4f4"/>
<circle cx="389.9" cy="147.5" r="0.6" fill="#9a8ad0"/>
<circle cx="386.1" cy="157.7" r="0.6" fill="#80b8e0"/>
<circle cx="393.5" cy="135.5" r="0.6" fill="#c8e4f4"/>
<circle cx="387.3" cy="155.9" r="0.6" fill="#c8e4f4"/>
<circle cx="379.5" cy="137.3" r="0.6" fill="#c8e4f4"/>
<circle cx="393.3" cy="142.8" r="0.6" fill="#80b8e0"/>
<circle cx="380.9" cy="146.2" r="0.6" fill="#9a8ad0"/>
<circle cx="402.8" cy="146.1" r="0.6" fill="#c8e4f4"/>
<circle cx="386.0" cy="139.6" r="0.6" fill="#9a8ad0"/>
<circle cx="402.1" cy="140.4" r="0.6" fill="#c8e4f4"/>
<circle cx="394.0" cy="150.5" r="0.6" fill="#80b8e0"/>
<circle cx="396.3" cy="144.0" r="0.6" fill="#c8e4f4"/>
<circle cx="389.0" cy="158.1" r="0.6" fill="#9a8ad0"/>
<circle cx="385.8" cy="158.6" r="0.6" fill="#80b8e0"/>
<circle cx="377.2" cy="134.7" r="0.6" fill="#80b8e0"/>
<circle cx="390.0" cy="162.0" r="0.6" fill="#9a8ad0"/>
<circle cx="400.1" cy="145.7" r="0.6" fill="#9a8ad0"/>
<circle cx="389.2" cy="156.6" r="0.6" fill="#80b8e0"/>
<circle cx="381.4" cy="141.2" r="0.6" fill="#80b8e0"/>
<circle cx="392.5" cy="137.3" r="0.6" fill="#9a8ad0"/>
<circle cx="399.2" cy="145.7" r="0.6" fill="#9a8ad0"/>
<circle cx="377.2" cy="156.0" r="0.6" fill="#9a8ad0"/>
<circle cx="381.5" cy="146.8" r="0.6" fill="#c8e4f4"/>
<circle cx="393.9" cy="147.8" r="0.6" fill="#9a8ad0"/>
<circle cx="426.7" cy="121.0" r="0.6" fill="#70b860"/>
<circle cx="449.4" cy="142.8" r="0.6" fill="#70b860"/>
<circle cx="439.7" cy="149.2" r="0.6" fill="#70b860"/>
<circle cx="421.6" cy="123.9" r="0.6" fill="#70b860"/>
<circle cx="438.7" cy="130.2" r="0.6" fill="#70b860"/>
<circle cx="428.6" cy="129.0" r="0.6" fill="#a0d890"/>
<circle cx="430.4" cy="146.4" r="0.6" fill="#70b860"/>
<circle cx="437.3" cy="148.1" r="0.6" fill="#a0d890"/>
<circle cx="443.2" cy="129.8" r="0.6" fill="#a0d890"/>
<circle cx="419.2" cy="126.1" r="0.6" fill="#a0d890"/>
<circle cx="435.4" cy="136.1" r="0.6" fill="#a0d890"/>
<circle cx="429.2" cy="152.8" r="0.6" fill="#70b860"/>
<circle cx="418.7" cy="147.4" r="0.6" fill="#70b860"/>
<circle cx="436.4" cy="154.7" r="0.6" fill="#70b860"/>
<circle cx="445.3" cy="136.6" r="0.6" fill="#70b860"/>
<circle cx="447.7" cy="131.0" r="0.6" fill="#a0d890"/>
<circle cx="430.8" cy="126.2" r="0.6" fill="#a0d890"/>
<circle cx="420.5" cy="122.8" r="0.6" fill="#70b860"/>
<circle cx="442.2" cy="148.6" r="0.6" fill="#a0d890"/>
<circle cx="437.6" cy="126.9" r="0.6" fill="#a0d890"/>
<circle cx="429.6" cy="127.2" r="0.6" fill="#70b860"/>
<circle cx="435.6" cy="123.7" r="0.6" fill="#a0d890"/>
<circle cx="417.1" cy="146.8" r="0.6" fill="#70b860"/>
<circle cx="432.1" cy="119.6" r="0.6" fill="#a0d890"/>
<circle cx="445.0" cy="150.0" r="0.6" fill="#a0d890"/>
<circle cx="425.7" cy="141.8" r="0.6" fill="#a0d890"/>
<circle cx="446.7" cy="144.9" r="0.6" fill="#a0d890"/>
<circle cx="449.3" cy="140.7" r="0.6" fill="#70b860"/>
<circle cx="419.5" cy="144.4" r="0.6" fill="#70b860"/>
<circle cx="420.1" cy="139.0" r="0.6" fill="#70b860"/>
<circle cx="418.1" cy="150.4" r="0.6" fill="#70b860"/>
<circle cx="424.3" cy="133.5" r="0.6" fill="#70b860"/>
<circle cx="417.5" cy="143.9" r="0.6" fill="#70b860"/>
<circle cx="441.1" cy="148.5" r="0.6" fill="#a0d890"/>
<circle cx="426.7" cy="145.5" r="0.6" fill="#a0d890"/>
<circle cx="423.4" cy="122.0" r="0.6" fill="#a0d890"/>
<circle cx="440.0" cy="153.1" r="0.6" fill="#a0d890"/>
<circle cx="423.3" cy="132.4" r="0.6" fill="#70b860"/>
<circle cx="433.7" cy="120.9" r="0.6" fill="#a0d890"/>
<circle cx="419.8" cy="146.4" r="0.6" fill="#70b860"/>
<circle cx="444.9" cy="143.8" r="0.6" fill="#1a68b0"/>
<circle cx="456.0" cy="145.6" r="0.6" fill="#1a68b0"/>
<circle cx="439.0" cy="156.7" r="0.6" fill="#4090d0"/>
<circle cx="441.4" cy="147.9" r="0.6" fill="#1a68b0"/>
<circle cx="452.5" cy="137.9" r="0.6" fill="#4090d0"/>
<circle cx="448.2" cy="159.7" r="0.6" fill="#1a68b0"/>
<circle cx="461.4" cy="148.7" r="0.6" fill="#4090d0"/>
<circle cx="454.0" cy="159.5" r="0.6" fill="#1a68b0"/>
<circle cx="449.5" cy="164.5" r="0.6" fill="#4090d0"/>
<circle cx="456.1" cy="154.6" r="0.6" fill="#1a68b0"/>
<circle cx="454.3" cy="154.5" r="0.6" fill="#4090d0"/>
<circle cx="443.5" cy="141.0" r="0.6" fill="#1a68b0"/>
<circle cx="454.1" cy="138.4" r="0.6" fill="#1a68b0"/>
<circle cx="442.0" cy="145.6" r="0.6" fill="#1a68b0"/>
<circle cx="458.8" cy="154.6" r="0.6" fill="#4090d0"/>
<circle cx="443.4" cy="152.2" r="0.6" fill="#1a68b0"/>
<circle cx="451.3" cy="146.3" r="0.6" fill="#4090d0"/>
<circle cx="452.0" cy="141.3" r="0.6" fill="#4090d0"/>
<circle cx="454.3" cy="159.9" r="0.6" fill="#4090d0"/>
<circle cx="443.1" cy="153.4" r="0.6" fill="#1a68b0"/>
<circle cx="445.4" cy="164.7" r="0.6" fill="#1a68b0"/>
<circle cx="443.7" cy="163.3" r="0.6" fill="#1a68b0"/>
<circle cx="460.9" cy="152.4" r="0.6" fill="#4090d0"/>
<circle cx="451.6" cy="143.5" r="0.6" fill="#1a68b0"/>
<circle cx="452.7" cy="138.9" r="0.6" fill="#4090d0"/>
<circle cx="367.9" cy="154.2" r="0.6" fill="#78c068"/>
<circle cx="379.2" cy="124.3" r="0.6" fill="#78c068"/>
<circle cx="365.5" cy="134.7" r="0.6" fill="#78c068"/>
<circle cx="371.9" cy="126.6" r="0.6" fill="#78c068"/>
<circle cx="368.4" cy="141.6" r="0.6" fill="#48a040"/>
<circle cx="375.8" cy="139.9" r="0.6" fill="#78c068"/>
<circle cx="364.8" cy="127.1" r="0.6" fill="#78c068"/>
<circle cx="364.4" cy="125.6" r="0.6" fill="#48a040"/>
<circle cx="365.2" cy="133.1" r="0.6" fill="#48a040"/>
<circle cx="378.3" cy="148.1" r="0.6" fill="#48a040"/>
<circle cx="372.3" cy="127.0" r="0.6" fill="#48a040"/>
<circle cx="379.0" cy="131.2" r="0.6" fill="#48a040"/>
<circle cx="370.8" cy="128.3" r="0.6" fill="#78c068"/>
<circle cx="373.6" cy="128.2" r="0.6" fill="#78c068"/>
<circle cx="368.7" cy="107.1" r="0.6" fill="#48a040"/>
<circle cx="378.6" cy="137.5" r="0.6" fill="#48a040"/>
<circle cx="366.9" cy="151.3" r="0.6" fill="#78c068"/>
<circle cx="373.1" cy="126.2" r="0.6" fill="#78c068"/>
<circle cx="372.4" cy="109.9" r="0.6" fill="#78c068"/>
<circle cx="374.1" cy="140.8" r="0.6" fill="#78c068"/>
<circle cx="369.9" cy="134.6" r="0.6" fill="#78c068"/>
<circle cx="366.3" cy="145.8" r="0.6" fill="#78c068"/>
<circle cx="380.0" cy="110.9" r="0.6" fill="#48a040"/>
<circle cx="368.2" cy="122.2" r="0.6" fill="#78c068"/>
<circle cx="371.6" cy="129.2" r="0.6" fill="#48a040"/>
<circle cx="381.1" cy="50.6" r="0.5" fill="#e84a3a"/>
<circle cx="403.1" cy="50.7" r="0.5" fill="#e84a3a"/>
<circle cx="396.3" cy="38.2" r="0.5" fill="#e84a3a"/>
<circle cx="401.1" cy="53.0" r="0.5" fill="#e84a3a"/>
<circle cx="396.5" cy="63.2" r="0.5" fill="#f07070"/>
<circle cx="397.4" cy="50.9" r="0.5" fill="#e84a3a"/>
<circle cx="404.4" cy="57.5" r="0.5" fill="#f07070"/>
<circle cx="390.0" cy="50.0" r="0.5" fill="#e84a3a"/>
<circle cx="385.8" cy="68.3" r="0.5" fill="#f07070"/>
<circle cx="392.9" cy="46.7" r="0.5" fill="#e84a3a"/>
<circle cx="403.0" cy="44.3" r="0.5" fill="#f07070"/>
<circle cx="382.6" cy="67.2" r="0.5" fill="#f07070"/>
<circle cx="388.7" cy="39.1" r="0.5" fill="#f07070"/>
<circle cx="391.0" cy="37.6" r="0.5" fill="#e84a3a"/>
<circle cx="391.2" cy="56.4" r="0.5" fill="#f07070"/>
<circle cx="397.7" cy="36.7" r="0.5" fill="#f07070"/>
<circle cx="386.2" cy="81.7" r="0.5" fill="#e84a3a"/>
<circle cx="384.1" cy="59.4" r="0.5" fill="#f07070"/>
<circle cx="390.5" cy="60.5" r="0.5" fill="#f07070"/>
<circle cx="393.0" cy="73.8" r="0.5" fill="#f07070"/>
<circle cx="393.5" cy="47.0" r="0.5" fill="#e84a3a"/>
<circle cx="391.5" cy="48.1" r="0.5" fill="#f07070"/>
<circle cx="382.0" cy="62.5" r="0.5" fill="#e84a3a"/>
<circle cx="382.1" cy="45.4" r="0.5" fill="#f07070"/>
<circle cx="392.3" cy="78.9" r="0.5" fill="#f07070"/>
<circle cx="384.2" cy="65.7" r="0.5" fill="#e84a3a"/>
<circle cx="400.0" cy="60.4" r="0.5" fill="#e84a3a"/>
<circle cx="394.6" cy="64.2" r="0.5" fill="#f07070"/>
<circle cx="394.0" cy="38.0" r="0.5" fill="#e84a3a"/>
<circle cx="374.9" cy="51.0" r="0.5" fill="#e84a3a"/>
<circle cx="348.5" cy="65.7" r="0.5" fill="#d8d070"/>
<circle cx="337.6" cy="55.3" r="0.5" fill="#c0b868"/>
<circle cx="346.4" cy="79.5" r="0.5" fill="#c0b868"/>
<circle cx="328.7" cy="62.0" r="0.5" fill="#c0b868"/>
<circle cx="346.6" cy="74.2" r="0.5" fill="#d8d070"/>
<circle cx="330.6" cy="76.3" r="0.5" fill="#d8d070"/>
<circle cx="331.1" cy="63.9" r="0.5" fill="#d8d070"/>
<circle cx="341.8" cy="48.8" r="0.5" fill="#c0b868"/>
<circle cx="340.3" cy="83.8" r="0.5" fill="#d8d070"/>
<circle cx="346.1" cy="74.8" r="0.5" fill="#d8d070"/>
<circle cx="351.0" cy="62.4" r="0.5" fill="#d8d070"/>
<circle cx="353.2" cy="60.1" r="0.5" fill="#c0b868"/>
<circle cx="347.7" cy="68.5" r="0.5" fill="#d8d070"/>
<circle cx="340.0" cy="61.3" r="0.5" fill="#d8d070"/>
<circle cx="337.7" cy="77.4" r="0.5" fill="#d8d070"/>
<circle cx="338.8" cy="55.2" r="0.5" fill="#d8d070"/>
<circle cx="340.5" cy="61.6" r="0.5" fill="#c0b868"/>
<circle cx="348.3" cy="64.6" r="0.5" fill="#c0b868"/>
<circle cx="351.2" cy="53.5" r="0.5" fill="#c0b868"/>
<circle cx="344.4" cy="66.5" r="0.5" fill="#c0b868"/>
<circle cx="341.4" cy="68.5" r="0.5" fill="#d8d070"/>
<circle cx="334.5" cy="60.0" r="0.5" fill="#d8d070"/>
<circle cx="347.5" cy="77.2" r="0.5" fill="#d8d070"/>
<circle cx="348.5" cy="75.0" r="0.5" fill="#d8d070"/>
<circle cx="351.8" cy="58.5" r="0.5" fill="#d8d070"/>
<circle cx="339.3" cy="101.8" r="0.75" fill="#d0c090"/>
<circle cx="347.4" cy="85.4" r="0.75" fill="#ffffff"/>
<circle cx="342.3" cy="98.1" r="0.75" fill="#ffffff"/>
<circle cx="345.2" cy="100.1" r="0.75" fill="#ffffff"/>
<circle cx="351.0" cy="103.5" r="0.75" fill="#ffffff"/>
<circle cx="355.2" cy="108.3" r="0.75" fill="#ffffff"/>
<circle cx="350.6" cy="96.1" r="0.75" fill="#d0c090"/>
<circle cx="345.2" cy="94.6" r="0.75" fill="#c8b888"/>
<circle cx="339.0" cy="94.3" r="0.75" fill="#ffffff"/>
<circle cx="334.9" cy="108.7" r="0.75" fill="#d0c090"/>
<circle cx="346.6" cy="107.5" r="0.75" fill="#ffffff"/>
<circle cx="349.2" cy="86.4" r="0.75" fill="#ffffff"/>
<circle cx="346.3" cy="94.6" r="0.75" fill="#c8b888"/>
<circle cx="357.3" cy="109.2" r="0.75" fill="#ffffff"/>
<circle cx="352.5" cy="91.9" r="0.75" fill="#d0c090"/>
<circle cx="344.5" cy="111.0" r="0.75" fill="#ffffff"/>
<circle cx="344.7" cy="92.5" r="0.75" fill="#ffffff"/>
<circle cx="352.1" cy="94.5" r="0.75" fill="#ffffff"/>
<circle cx="345.3" cy="105.7" r="0.75" fill="#d0c090"/>
<circle cx="353.1" cy="98.1" r="0.75" fill="#ffffff"/>
<circle cx="350.3" cy="100.3" r="0.75" fill="#c8b888"/>
<circle cx="356.0" cy="110.5" r="0.75" fill="#ffffff"/>
<circle cx="347.1" cy="97.9" r="0.75" fill="#ffffff"/>
<circle cx="355.4" cy="86.6" r="0.75" fill="#c8b888"/>
<circle cx="340.5" cy="109.9" r="0.75" fill="#ffffff"/>
<circle cx="339.2" cy="107.7" r="0.75" fill="#ffffff"/>
<circle cx="348.7" cy="95.5" r="0.75" fill="#ffffff"/>
<circle cx="346.8" cy="111.4" r="0.75" fill="#c8b888"/>
<circle cx="348.3" cy="102.2" r="0.75" fill="#d0c090"/>
<circle cx="347.9" cy="86.3" r="0.75" fill="#c8b888"/>
<circle cx="353.8" cy="109.6" r="0.75" fill="#d0c090"/>
<circle cx="353.1" cy="104.0" r="0.75" fill="#ffffff"/>
<circle cx="339.5" cy="94.8" r="0.75" fill="#c8b888"/>
<circle cx="335.1" cy="90.0" r="0.75" fill="#ffffff"/>
<circle cx="338.1" cy="90.8" r="0.75" fill="#ffffff"/>
<circle cx="341.8" cy="91.3" r="0.75" fill="#d0c090"/>
<circle cx="354.3" cy="106.3" r="0.75" fill="#c8b888"/>
<circle cx="348.2" cy="100.5" r="0.75" fill="#ffffff"/>
<circle cx="338.3" cy="87.5" r="0.75" fill="#c8b888"/>
<circle cx="339.6" cy="104.9" r="0.75" fill="#d0c090"/>
<circle cx="349.9" cy="112.0" r="0.75" fill="#ffffff"/>
<circle cx="335.4" cy="102.2" r="0.75" fill="#d0c090"/>
<circle cx="353.1" cy="92.9" r="0.75" fill="#d0c090"/>
<circle cx="338.9" cy="105.8" r="0.75" fill="#ffffff"/>
<circle cx="344.7" cy="102.9" r="0.75" fill="#ffffff"/>
<circle cx="339.9" cy="89.6" r="0.75" fill="#ffffff"/>
<circle cx="351.3" cy="109.5" r="0.75" fill="#c8b888"/>
<circle cx="353.5" cy="109.7" r="0.75" fill="#ffffff"/>
<circle cx="352.2" cy="98.2" r="0.75" fill="#ffffff"/>
<circle cx="348.1" cy="96.3" r="0.75" fill="#d0c090"/>
<circle cx="345.0" cy="107.2" r="0.75" fill="#d0c090"/>
<circle cx="338.0" cy="102.6" r="0.75" fill="#ffffff"/>
<circle cx="350.7" cy="93.8" r="0.75" fill="#ffffff"/>
<circle cx="354.5" cy="90.3" r="0.75" fill="#ffffff"/>
<circle cx="353.8" cy="100.7" r="0.75" fill="#d0c090"/>
<circle cx="348.6" cy="88.1" r="0.75" fill="#ffffff"/>
<circle cx="353.0" cy="88.1" r="0.75" fill="#d0c090"/>
<circle cx="348.1" cy="92.8" r="0.75" fill="#ffffff"/>
<circle cx="350.1" cy="107.0" r="0.75" fill="#ffffff"/>
<circle cx="338.4" cy="92.2" r="0.75" fill="#ffffff"/>
<circle cx="348.4" cy="95.8" r="0.75" fill="#ffffff"/>
<circle cx="334.3" cy="85.7" r="0.75" fill="#ffffff"/>
<circle cx="340.8" cy="99.8" r="0.75" fill="#c8b888"/>
<circle cx="342.1" cy="110.3" r="0.75" fill="#ffffff"/>
<circle cx="354.5" cy="89.4" r="0.75" fill="#c8b888"/>
<circle cx="339.5" cy="107.3" r="0.75" fill="#ffffff"/>
<circle cx="337.2" cy="105.1" r="0.75" fill="#d0c090"/>
<circle cx="341.7" cy="104.3" r="0.75" fill="#ffffff"/>
<circle cx="338.8" cy="109.2" r="0.75" fill="#d0c090"/>
<circle cx="335.8" cy="87.6" r="0.75" fill="#ffffff"/>
<circle cx="335.2" cy="109.7" r="0.75" fill="#ffffff"/>
<circle cx="346.6" cy="88.6" r="0.75" fill="#d0c090"/>
<circle cx="338.5" cy="91.0" r="0.75" fill="#d0c090"/>
<circle cx="336.5" cy="100.2" r="0.75" fill="#ffffff"/>
<circle cx="336.6" cy="109.2" r="0.75" fill="#d0c090"/>
<circle cx="346.4" cy="100.4" r="0.75" fill="#ffffff"/>
<circle cx="346.1" cy="103.2" r="0.75" fill="#ffffff"/>
<circle cx="337.9" cy="89.9" r="0.75" fill="#ffffff"/>
<circle cx="343.2" cy="108.3" r="0.75" fill="#c8b888"/>
<circle cx="335.8" cy="85.3" r="0.75" fill="#ffffff"/>
<circle cx="345.8" cy="103.7" r="0.75" fill="#ffffff"/>
<circle cx="340.9" cy="106.0" r="0.75" fill="#ffffff"/>
<circle cx="355.4" cy="86.3" r="0.75" fill="#ffffff"/>
<circle cx="353.3" cy="107.1" r="0.75" fill="#d0c090"/>
<circle cx="342.0" cy="107.4" r="0.75" fill="#c8b888"/>
<circle cx="354.1" cy="96.1" r="0.75" fill="#ffffff"/>
<circle cx="337.2" cy="95.6" r="0.75" fill="#ffffff"/>
<circle cx="344.9" cy="92.4" r="0.75" fill="#ffffff"/>
<circle cx="348.2" cy="97.3" r="0.75" fill="#ffffff"/>
<circle cx="338.7" cy="110.3" r="0.75" fill="#ffffff"/>
<circle cx="347.3" cy="92.0" r="0.75" fill="#ffffff"/>
<circle cx="351.4" cy="90.5" r="0.75" fill="#ffffff"/>
<circle cx="346.0" cy="103.9" r="0.75" fill="#ffffff"/>
<circle cx="340.6" cy="88.9" r="0.75" fill="#ffffff"/>
<circle cx="340.6" cy="96.8" r="0.75" fill="#c8b888"/>
<circle cx="342.0" cy="86.0" r="0.75" fill="#c8b888"/>
<circle cx="339.8" cy="99.8" r="0.75" fill="#ffffff"/>
<circle cx="346.9" cy="93.7" r="0.75" fill="#d0c090"/>
<circle cx="342.2" cy="104.6" r="0.75" fill="#ffffff"/>
<circle cx="353.3" cy="86.5" r="0.75" fill="#d0c090"/>
<circle cx="336.0" cy="94.7" r="0.75" fill="#c8b888"/>
<circle cx="335.1" cy="102.6" r="0.75" fill="#d0c090"/>
<circle cx="348.0" cy="94.3" r="0.75" fill="#d0c090"/>
<circle cx="354.5" cy="102.4" r="0.75" fill="#ffffff"/>
<circle cx="334.3" cy="105.6" r="0.75" fill="#d0c090"/>
<circle cx="343.0" cy="97.8" r="0.75" fill="#d0c090"/>
<circle cx="344.8" cy="95.2" r="0.75" fill="#ffffff"/>
<circle cx="346.8" cy="99.2" r="0.75" fill="#c8b888"/>
<circle cx="345.5" cy="97.4" r="0.75" fill="#ffffff"/>
<circle cx="347.3" cy="101.4" r="0.75" fill="#ffffff"/>
<circle cx="402.3" cy="179.5" r="0.6" fill="#3090a8"/>
<circle cx="422.8" cy="172.0" r="0.6" fill="#3090a8"/>
<circle cx="427.4" cy="163.1" r="0.6" fill="#3090a8"/>
<circle cx="400.9" cy="166.0" r="0.6" fill="#60b0c8"/>
<circle cx="426.0" cy="195.3" r="0.6" fill="#3090a8"/>
<circle cx="427.5" cy="191.2" r="0.6" fill="#3090a8"/>
<circle cx="415.1" cy="173.7" r="0.6" fill="#60b0c8"/>
<circle cx="415.8" cy="198.5" r="0.6" fill="#60b0c8"/>
<circle cx="414.1" cy="203.2" r="0.6" fill="#60b0c8"/>
<circle cx="399.6" cy="183.6" r="0.6" fill="#3090a8"/>
<circle cx="427.7" cy="160.5" r="0.6" fill="#3090a8"/>
<circle cx="426.9" cy="194.0" r="0.6" fill="#60b0c8"/>
<circle cx="424.9" cy="164.3" r="0.6" fill="#3090a8"/>
<circle cx="403.2" cy="173.0" r="0.6" fill="#3090a8"/>
<circle cx="430.4" cy="167.5" r="0.6" fill="#3090a8"/>
<circle cx="401.1" cy="165.7" r="0.6" fill="#3090a8"/>
<circle cx="413.3" cy="180.5" r="0.6" fill="#60b0c8"/>
<circle cx="419.0" cy="199.1" r="0.6" fill="#60b0c8"/>
<circle cx="410.2" cy="196.2" r="0.6" fill="#3090a8"/>
<circle cx="420.0" cy="167.0" r="0.6" fill="#60b0c8"/>
<circle cx="403.3" cy="163.1" r="0.6" fill="#3090a8"/>
<circle cx="398.4" cy="170.4" r="0.6" fill="#3090a8"/>
<circle cx="429.9" cy="186.3" r="0.6" fill="#3090a8"/>
<circle cx="407.8" cy="157.4" r="0.6" fill="#60b0c8"/>
<circle cx="421.2" cy="192.3" r="0.6" fill="#3090a8"/>
<circle cx="427.5" cy="194.0" r="0.6" fill="#60b0c8"/>
<circle cx="402.1" cy="187.3" r="0.6" fill="#3090a8"/>
<circle cx="410.1" cy="186.4" r="0.6" fill="#3090a8"/>
<circle cx="413.0" cy="181.3" r="0.6" fill="#60b0c8"/>
<circle cx="409.1" cy="190.8" r="0.6" fill="#60b0c8"/>
<circle cx="414.2" cy="162.6" r="0.6" fill="#60b0c8"/>
<circle cx="427.5" cy="170.8" r="0.6" fill="#60b0c8"/>
<circle cx="420.7" cy="178.8" r="0.6" fill="#3090a8"/>
<circle cx="410.6" cy="192.7" r="0.6" fill="#60b0c8"/>
<circle cx="412.7" cy="160.1" r="0.6" fill="#3090a8"/>
<circle cx="408.7" cy="185.0" r="0.6" fill="#3090a8"/>
<circle cx="407.3" cy="190.4" r="0.6" fill="#60b0c8"/>
<circle cx="397.5" cy="175.0" r="0.6" fill="#3090a8"/>
<circle cx="410.6" cy="170.4" r="0.6" fill="#60b0c8"/>
<circle cx="425.7" cy="197.8" r="0.6" fill="#60b0c8"/>
<circle cx="334.2" cy="164.5" r="0.6" fill="#c8b8a8"/>
<circle cx="314.9" cy="175.8" r="0.6" fill="#a89880"/>
<circle cx="345.6" cy="197.6" r="0.6" fill="#c8b8a8"/>
<circle cx="331.0" cy="175.7" r="0.6" fill="#a89880"/>
<circle cx="332.5" cy="180.7" r="0.6" fill="#c8b8a8"/>
<circle cx="346.2" cy="188.0" r="0.6" fill="#c8b8a8"/>
<circle cx="330.7" cy="177.4" r="0.6" fill="#c8b8a8"/>
<circle cx="333.1" cy="185.2" r="0.6" fill="#a89880"/>
<circle cx="326.8" cy="166.3" r="0.6" fill="#a89880"/>
<circle cx="340.6" cy="193.9" r="0.6" fill="#a89880"/>
<circle cx="339.2" cy="201.7" r="0.6" fill="#a89880"/>
<circle cx="331.0" cy="160.9" r="0.6" fill="#a89880"/>
<circle cx="312.2" cy="175.2" r="0.6" fill="#c8b8a8"/>
<circle cx="314.1" cy="170.4" r="0.6" fill="#c8b8a8"/>
<circle cx="332.7" cy="173.4" r="0.6" fill="#a89880"/>
<circle cx="344.0" cy="170.8" r="0.6" fill="#a89880"/>
<circle cx="336.1" cy="167.5" r="0.6" fill="#c8b8a8"/>
<circle cx="330.6" cy="196.6" r="0.6" fill="#c8b8a8"/>
<circle cx="345.4" cy="181.8" r="0.6" fill="#c8b8a8"/>
<circle cx="328.4" cy="186.4" r="0.6" fill="#c8b8a8"/>
<circle cx="317.7" cy="195.2" r="0.6" fill="#a89880"/>
<circle cx="317.8" cy="182.9" r="0.6" fill="#c8b8a8"/>
<circle cx="328.3" cy="181.3" r="0.6" fill="#c8b8a8"/>
<circle cx="327.6" cy="173.0" r="0.6" fill="#c8b8a8"/>
<circle cx="322.2" cy="165.0" r="0.6" fill="#a89880"/>
<circle cx="317.2" cy="134.8" r="0.75" fill="#e86a50"/>
<circle cx="327.8" cy="158.3" r="0.75" fill="#f08050"/>
<circle cx="335.4" cy="122.2" r="0.75" fill="#e86a50"/>
<circle cx="312.8" cy="127.9" r="0.75" fill="#f08050"/>
<circle cx="336.9" cy="126.0" r="0.75" fill="#e84a38"/>
<circle cx="300.0" cy="154.4" r="0.75" fill="#e84a38"/>
<circle cx="307.0" cy="128.7" r="0.75" fill="#f4b090"/>
<circle cx="321.5" cy="119.7" r="0.75" fill="#e84a38"/>
<circle cx="319.1" cy="160.9" r="0.75" fill="#e86a50"/>
<circle cx="319.4" cy="141.0" r="0.75" fill="#f4b090"/>
<circle cx="348.6" cy="119.0" r="0.75" fill="#e86a50"/>
<circle cx="304.2" cy="150.0" r="0.75" fill="#f4b090"/>
<circle cx="312.4" cy="122.4" r="0.75" fill="#f08050"/>
<circle cx="336.8" cy="128.2" r="0.75" fill="#e84a38"/>
<circle cx="314.5" cy="145.6" r="0.75" fill="#e84a38"/>
<circle cx="321.3" cy="119.9" r="0.75" fill="#f4b090"/>
<circle cx="317.1" cy="125.1" r="0.75" fill="#f09a80"/>
<circle cx="300.4" cy="150.3" r="0.75" fill="#e84a38"/>
<circle cx="305.4" cy="126.3" r="0.75" fill="#e84a38"/>
<circle cx="309.9" cy="138.1" r="0.75" fill="#f08050"/>
<circle cx="322.7" cy="145.6" r="0.75" fill="#e84a38"/>
<circle cx="339.1" cy="115.0" r="0.75" fill="#f08050"/>
<circle cx="324.3" cy="157.9" r="0.75" fill="#e84a38"/>
<circle cx="318.8" cy="154.2" r="0.75" fill="#e84a38"/>
<circle cx="340.2" cy="129.6" r="0.75" fill="#e86a50"/>
<circle cx="303.9" cy="156.2" r="0.75" fill="#e84a38"/>
<circle cx="322.5" cy="137.5" r="0.75" fill="#e84a38"/>
<circle cx="306.5" cy="122.6" r="0.75" fill="#f08050"/>
<circle cx="298.8" cy="131.5" r="0.75" fill="#f08050"/>
<circle cx="309.2" cy="146.9" r="0.75" fill="#f08050"/>
<circle cx="327.3" cy="146.1" r="0.75" fill="#f08050"/>
<circle cx="328.4" cy="134.4" r="0.75" fill="#e86a50"/>
<circle cx="342.6" cy="116.5" r="0.75" fill="#e86a50"/>
<circle cx="320.1" cy="152.5" r="0.75" fill="#f08050"/>
<circle cx="324.8" cy="140.4" r="0.75" fill="#f08050"/>
<circle cx="319.0" cy="140.1" r="0.75" fill="#f08050"/>
<circle cx="340.3" cy="129.5" r="0.75" fill="#e84a38"/>
<circle cx="339.9" cy="120.3" r="0.75" fill="#f4b090"/>
<circle cx="318.5" cy="130.4" r="0.75" fill="#e84a38"/>
<circle cx="334.9" cy="138.8" r="0.75" fill="#f08050"/>
<circle cx="326.9" cy="120.2" r="0.75" fill="#e86a50"/>
<circle cx="303.2" cy="124.5" r="0.75" fill="#f09a80"/>
<circle cx="299.1" cy="146.6" r="0.75" fill="#e86a50"/>
<circle cx="306.7" cy="134.8" r="0.75" fill="#f08050"/>
<circle cx="302.9" cy="151.5" r="0.75" fill="#f09a80"/>
<circle cx="342.3" cy="126.6" r="0.75" fill="#f09a80"/>
<circle cx="339.4" cy="127.7" r="0.75" fill="#f4b090"/>
<circle cx="319.0" cy="116.9" r="0.75" fill="#f4b090"/>
<circle cx="338.0" cy="123.3" r="0.75" fill="#e86a50"/>
<circle cx="305.0" cy="134.5" r="0.75" fill="#f4b090"/>
<circle cx="298.7" cy="152.0" r="0.75" fill="#e86a50"/>
<circle cx="306.3" cy="129.2" r="0.75" fill="#e86a50"/>
<circle cx="330.4" cy="148.6" r="0.75" fill="#e86a50"/>
<circle cx="315.8" cy="131.3" r="0.75" fill="#f4b090"/>
<circle cx="326.5" cy="145.9" r="0.75" fill="#f4b090"/>
<circle cx="328.0" cy="139.1" r="0.75" fill="#f4b090"/>
<circle cx="351.4" cy="111.4" r="0.75" fill="#e86a50"/>
<circle cx="352.4" cy="112.9" r="0.75" fill="#e86a50"/>
<circle cx="319.5" cy="127.1" r="0.75" fill="#f09a80"/>
<circle cx="300.7" cy="144.8" r="0.75" fill="#e84a38"/>
<circle cx="305.6" cy="130.5" r="0.75" fill="#f09a80"/>
<circle cx="329.4" cy="117.5" r="0.75" fill="#e86a50"/>
<circle cx="308.8" cy="146.4" r="0.75" fill="#e84a38"/>
<circle cx="331.5" cy="114.7" r="0.75" fill="#f4b090"/>
<circle cx="312.7" cy="119.5" r="0.75" fill="#f4b090"/>
<circle cx="298.1" cy="134.8" r="0.75" fill="#e86a50"/>
<circle cx="307.3" cy="150.6" r="0.75" fill="#f09a80"/>
<circle cx="356.0" cy="108.9" r="0.75" fill="#e84a38"/>
<circle cx="315.3" cy="124.1" r="0.75" fill="#e84a38"/>
<circle cx="322.4" cy="115.5" r="0.75" fill="#f09a80"/>
<circle cx="301.1" cy="152.0" r="0.75" fill="#f08050"/>
<circle cx="317.6" cy="126.7" r="0.75" fill="#e84a38"/>
<circle cx="299.8" cy="128.0" r="0.75" fill="#f4b090"/>
<circle cx="329.0" cy="127.0" r="0.75" fill="#f09a80"/>
<circle cx="309.3" cy="119.1" r="0.75" fill="#f08050"/>
<circle cx="326.4" cy="151.5" r="0.75" fill="#f4b090"/>
<circle cx="308.3" cy="145.5" r="0.75" fill="#e86a50"/>
<circle cx="312.9" cy="136.7" r="0.75" fill="#f4b090"/>
<circle cx="328.3" cy="148.9" r="0.75" fill="#f09a80"/>
<circle cx="343.9" cy="120.9" r="0.75" fill="#f09a80"/>
<circle cx="299.7" cy="138.6" r="0.75" fill="#f09a80"/>
<circle cx="319.7" cy="127.3" r="0.75" fill="#e84a38"/>
<circle cx="305.3" cy="151.8" r="0.75" fill="#f09a80"/>
<circle cx="317.7" cy="151.8" r="0.75" fill="#f08050"/>
<circle cx="355.0" cy="111.0" r="0.75" fill="#e84a38"/>
<circle cx="306.7" cy="135.0" r="0.75" fill="#f09a80"/>
<circle cx="324.9" cy="128.2" r="0.75" fill="#e84a38"/>
<circle cx="353.8" cy="115.4" r="0.75" fill="#e84a38"/>
<circle cx="316.7" cy="140.1" r="0.75" fill="#f4b090"/>
<circle cx="329.4" cy="137.7" r="0.75" fill="#e86a50"/>
<circle cx="324.2" cy="152.6" r="0.75" fill="#f4b090"/>
<circle cx="355.2" cy="111.7" r="0.75" fill="#f09a80"/>
<circle cx="338.6" cy="117.6" r="0.75" fill="#f4b090"/>
<circle cx="326.7" cy="157.7" r="0.75" fill="#e86a50"/>
<circle cx="325.2" cy="141.2" r="0.75" fill="#f08050"/>
<circle cx="325.5" cy="117.9" r="0.75" fill="#f08050"/>
<circle cx="357.1" cy="108.5" r="0.75" fill="#e86a50"/>
<circle cx="342.3" cy="119.1" r="0.75" fill="#e84a38"/>
<circle cx="298.4" cy="131.1" r="0.75" fill="#f08050"/>
<circle cx="317.6" cy="155.1" r="0.75" fill="#e86a50"/>
<circle cx="319.7" cy="133.9" r="0.75" fill="#e86a50"/>
<circle cx="342.7" cy="116.5" r="0.75" fill="#f09a80"/>
<circle cx="322.6" cy="137.7" r="0.75" fill="#f08050"/>
<circle cx="312.7" cy="160.8" r="0.75" fill="#f08050"/>
<circle cx="311.3" cy="160.1" r="0.75" fill="#f09a80"/>
<circle cx="325.8" cy="138.9" r="0.75" fill="#f4b090"/>
<circle cx="316.2" cy="138.5" r="0.75" fill="#f08050"/>
<circle cx="339.2" cy="126.7" r="0.75" fill="#e86a50"/>
<circle cx="303.8" cy="149.3" r="0.75" fill="#e86a50"/>
<circle cx="337.7" cy="129.8" r="0.75" fill="#f08050"/>
<circle cx="332.3" cy="142.9" r="0.75" fill="#f08050"/>
<circle cx="332.8" cy="129.7" r="0.75" fill="#e84a38"/>
<circle cx="312.6" cy="158.2" r="0.75" fill="#e86a50"/>
<circle cx="303.2" cy="127.1" r="0.75" fill="#e84a38"/>
<circle cx="326.6" cy="123.5" r="0.75" fill="#e86a50"/>
<circle cx="327.9" cy="159.5" r="0.75" fill="#f09a80"/>
<circle cx="339.4" cy="132.3" r="0.75" fill="#f4b090"/>
<circle cx="346.3" cy="117.1" r="0.75" fill="#f08050"/>
<circle cx="315.6" cy="120.9" r="0.75" fill="#e84a38"/>
<circle cx="325.9" cy="143.6" r="0.75" fill="#f08050"/>
<circle cx="300.9" cy="144.9" r="0.75" fill="#e84a38"/>
<circle cx="312.9" cy="123.4" r="0.75" fill="#f08050"/>
<circle cx="316.0" cy="117.6" r="0.75" fill="#f4b090"/>
<circle cx="304.6" cy="148.2" r="0.75" fill="#e84a38"/>
<circle cx="323.8" cy="130.2" r="0.75" fill="#f08050"/>
<circle cx="336.3" cy="134.9" r="0.75" fill="#f08050"/>
<circle cx="306.3" cy="131.5" r="0.75" fill="#f08050"/>
<circle cx="313.7" cy="117.7" r="0.75" fill="#f4b090"/>
<circle cx="317.3" cy="159.6" r="0.75" fill="#e84a38"/>
<circle cx="314.8" cy="161.0" r="0.75" fill="#e86a50"/>
<circle cx="315.6" cy="133.4" r="0.75" fill="#e84a38"/>
<circle cx="317.4" cy="122.9" r="0.75" fill="#e86a50"/>
<circle cx="302.9" cy="147.0" r="0.75" fill="#e84a38"/>
<circle cx="326.0" cy="149.2" r="0.75" fill="#f09a80"/>
<circle cx="314.7" cy="159.9" r="0.75" fill="#f4b090"/>
<circle cx="311.8" cy="125.6" r="0.75" fill="#e84a38"/>
<circle cx="317.8" cy="161.4" r="0.75" fill="#f4b090"/>
<circle cx="336.3" cy="130.6" r="0.75" fill="#f08050"/>
<circle cx="353.4" cy="111.6" r="0.75" fill="#f08050"/>
<circle cx="323.6" cy="145.9" r="0.75" fill="#e86a50"/>
<g font-family="Liberation Sans, sans-serif" font-size="27" filter="url(#gaa)">
<clipPath id="lr89"><rect x="460" y="67.3" width="140" height="23.2"/></clipPath><g clip-path="url(#lr89)">
<text x="474.37" y="89.3" textLength="8.32" lengthAdjust="spacingAndGlyphs" fill="#2f9a50" stroke="#2f9a50" stroke-width="1.05">C</text>
<text x="483.09" y="89.3" textLength="8.32" lengthAdjust="spacingAndGlyphs" fill="#1e1e1e" stroke="#1e1e1e" stroke-width="1.05">A</text>
<text x="491.81" y="89.3" textLength="8.32" lengthAdjust="spacingAndGlyphs" fill="#1e1e1e" stroke="#1e1e1e" stroke-width="1.05">A</text>
<text x="500.53" y="89.3" textLength="8.32" lengthAdjust="spacingAndGlyphs" fill="#2f9a50" stroke="#2f9a50" stroke-width="1.05">S</text>
<text x="509.25" y="89.3" textLength="8.32" lengthAdjust="spacingAndGlyphs" fill="#e8323a" stroke="#e8323a" stroke-width="1.05">E</text>
<text x="517.97" y="89.3" textLength="8.32" lengthAdjust="spacingAndGlyphs" fill="#2f9a50" stroke="#2f9a50" stroke-width="1.05">G</text>
<text x="526.69" y="89.3" textLength="8.32" lengthAdjust="spacingAndGlyphs" fill="#1e1e1e" stroke="#1e1e1e" stroke-width="1.05">A</text>
<text x="535.41" y="89.3" textLength="8.32" lengthAdjust="spacingAndGlyphs" fill="#2f9a50" stroke="#2f9a50" stroke-width="1.05">G</text>
<text x="544.13" y="89.3" textLength="8.32" lengthAdjust="spacingAndGlyphs" fill="#2f9a50" stroke="#2f9a50" stroke-width="1.05">G</text>
<text x="552.85" y="89.3" textLength="8.32" lengthAdjust="spacingAndGlyphs" fill="#1e1e1e" stroke="#1e1e1e" stroke-width="1.05">F</text>
<text x="561.57" y="89.3" textLength="8.32" lengthAdjust="spacingAndGlyphs" fill="#2a6db5" stroke="#2a6db5" stroke-width="1.05">K</text>
<text x="570.29" y="89.3" textLength="8.32" lengthAdjust="spacingAndGlyphs" fill="#2f9a50" stroke="#2f9a50" stroke-width="1.05">T</text>
<path d="M579.3,70.5h7.9v2h-2.6v14.8h2.6v2h-7.9v-2h2.6v-14.8h-2.6z" fill="#1e1e1e"/>
<text x="587.73" y="89.3" textLength="8.32" lengthAdjust="spacingAndGlyphs" fill="#1e1e1e" stroke="#1e1e1e" stroke-width="1.05">F</text>
</g>
<clipPath id="lr117"><rect x="460" y="95" width="140" height="23.2"/></clipPath><g clip-path="url(#lr117)">
<text x="467.30" y="117" textLength="8.21" lengthAdjust="spacingAndGlyphs" fill="#2f9a50" stroke="#2f9a50" stroke-width="1.05">C</text>
<text x="475.91" y="117" textLength="8.21" lengthAdjust="spacingAndGlyphs" fill="#1e1e1e" stroke="#1e1e1e" stroke-width="1.05">A</text>
<text x="484.52" y="117" textLength="8.21" lengthAdjust="spacingAndGlyphs" fill="#2f9a50" stroke="#2f9a50" stroke-width="1.05">S</text>
<text x="493.13" y="117" textLength="8.21" lengthAdjust="spacingAndGlyphs" fill="#2f9a50" stroke="#2f9a50" stroke-width="1.05">S</text>
<text x="501.74" y="117" textLength="8.21" lengthAdjust="spacingAndGlyphs" fill="#1e1e1e" stroke="#1e1e1e" stroke-width="1.05">L</text>
<text x="510.35" y="117" textLength="8.21" lengthAdjust="spacingAndGlyphs" fill="#e8323a" stroke="#e8323a" stroke-width="1.05">E</text>
<text x="518.96" y="117" textLength="8.21" lengthAdjust="spacingAndGlyphs" fill="#2f9a50" stroke="#2f9a50" stroke-width="1.05">G</text>
<text x="527.57" y="117" textLength="8.21" lengthAdjust="spacingAndGlyphs" fill="#1e1e1e" stroke="#1e1e1e" stroke-width="1.05">P</text>
<text x="536.18" y="117" textLength="8.21" lengthAdjust="spacingAndGlyphs" fill="#1e1e1e" stroke="#1e1e1e" stroke-width="1.05">V</text>
<text x="544.79" y="117" textLength="8.21" lengthAdjust="spacingAndGlyphs" fill="#2f9a50" stroke="#2f9a50" stroke-width="1.05">Y</text>
<text x="553.40" y="117" textLength="8.21" lengthAdjust="spacingAndGlyphs" fill="#2f9a50" stroke="#2f9a50" stroke-width="1.05">Y</text>
<text x="562.01" y="117" textLength="8.21" lengthAdjust="spacingAndGlyphs" fill="#e8323a" stroke="#e8323a" stroke-width="1.05">E</text>
<text x="570.62" y="117" textLength="8.21" lengthAdjust="spacingAndGlyphs" fill="#7a3aa8" stroke="#7a3aa8" stroke-width="1.05">Q</text>
<text x="579.23" y="117" textLength="8.21" lengthAdjust="spacingAndGlyphs" fill="#2f9a50" stroke="#2f9a50" stroke-width="1.05">Y</text>
<text x="587.84" y="117" textLength="8.21" lengthAdjust="spacingAndGlyphs" fill="#1e1e1e" stroke="#1e1e1e" stroke-width="1.05">F</text>
</g>
<clipPath id="lr142"><rect x="460" y="120" width="140" height="23.2"/></clipPath><g clip-path="url(#lr142)">
<text x="501.85" y="142" textLength="8.20" lengthAdjust="spacingAndGlyphs" fill="#2f9a50" stroke="#2f9a50" stroke-width="1.05">C</text>
<text x="510.45" y="142" textLength="8.20" lengthAdjust="spacingAndGlyphs" fill="#1e1e1e" stroke="#1e1e1e" stroke-width="1.05">A</text>
<text x="519.05" y="142" textLength="8.20" lengthAdjust="spacingAndGlyphs" fill="#2f9a50" stroke="#2f9a50" stroke-width="1.05">S</text>
<text x="527.65" y="142" textLength="8.20" lengthAdjust="spacingAndGlyphs" fill="#2f9a50" stroke="#2f9a50" stroke-width="1.05">S</text>
<text x="536.25" y="142" textLength="8.20" lengthAdjust="spacingAndGlyphs" fill="#1e1e1e" stroke="#1e1e1e" stroke-width="1.05">L</text>
<text x="544.85" y="142" textLength="8.20" lengthAdjust="spacingAndGlyphs" fill="#1e1e1e" stroke="#1e1e1e" stroke-width="1.05">L</text>
<text x="553.45" y="142" textLength="8.20" lengthAdjust="spacingAndGlyphs" fill="#e8323a" stroke="#e8323a" stroke-width="1.05">E</text>
<text x="562.05" y="142" textLength="8.20" lengthAdjust="spacingAndGlyphs" fill="#2f9a50" stroke="#2f9a50" stroke-width="1.05">T</text>
<text x="570.65" y="142" textLength="8.20" lengthAdjust="spacingAndGlyphs" fill="#7a3aa8" stroke="#7a3aa8" stroke-width="1.05">Q</text>
<text x="579.25" y="142" textLength="8.20" lengthAdjust="spacingAndGlyphs" fill="#2f9a50" stroke="#2f9a50" stroke-width="1.05">Y</text>
<text x="587.85" y="142" textLength="8.20" lengthAdjust="spacingAndGlyphs" fill="#1e1e1e" stroke="#1e1e1e" stroke-width="1.05">F</text>
</g>
<clipPath id="lr166"><rect x="460" y="144.2" width="140" height="23.2"/></clipPath><g clip-path="url(#lr166)">
<text x="477.03" y="166.2" textLength="8.13" lengthAdjust="spacingAndGlyphs" fill="#2f9a50" stroke="#2f9a50" stroke-width="1.05">C</text>
<text x="485.56" y="166.2" textLength="8.13" lengthAdjust="spacingAndGlyphs" fill="#1e1e1e" stroke="#1e1e1e" stroke-width="1.05">A</text>
<text x="494.09" y="166.2" textLength="8.13" lengthAdjust="spacingAndGlyphs" fill="#2f9a50" stroke="#2f9a50" stroke-width="1.05">T</text>
<text x="502.62" y="166.2" textLength="8.13" lengthAdjust="spacingAndGlyphs" fill="#1e1e1e" stroke="#1e1e1e" stroke-width="1.05">A</text>
<text x="511.15" y="166.2" textLength="8.13" lengthAdjust="spacingAndGlyphs" fill="#2a6db5" stroke="#2a6db5" stroke-width="1.05">R</text>
<text x="519.68" y="166.2" textLength="8.13" lengthAdjust="spacingAndGlyphs" fill="#e8323a" stroke="#e8323a" stroke-width="1.05">E</text>
<text x="528.21" y="166.2" textLength="8.13" lengthAdjust="spacingAndGlyphs" fill="#7a3aa8" stroke="#7a3aa8" stroke-width="1.05">Q</text>
<text x="536.74" y="166.2" textLength="8.13" lengthAdjust="spacingAndGlyphs" fill="#2f9a50" stroke="#2f9a50" stroke-width="1.05">G</text>
<text x="545.27" y="166.2" textLength="8.13" lengthAdjust="spacingAndGlyphs" fill="#1e1e1e" stroke="#1e1e1e" stroke-width="1.05">A</text>
<text x="553.80" y="166.2" textLength="8.13" lengthAdjust="spacingAndGlyphs" fill="#2f9a50" stroke="#2f9a50" stroke-width="1.05">Y</text>
<text x="562.33" y="166.2" textLength="8.13" lengthAdjust="spacingAndGlyphs" fill="#e8323a" stroke="#e8323a" stroke-width="1.05">E</text>
<text x="570.86" y="166.2" textLength="8.13" lengthAdjust="spacingAndGlyphs" fill="#7a3aa8" stroke="#7a3aa8" stroke-width="1.05">Q</text>
<text x="579.39" y="166.2" textLength="8.13" lengthAdjust="spacingAndGlyphs" fill="#2f9a50" stroke="#2f9a50" stroke-width="1.05">Y</text>
<text x="587.92" y="166.2" textLength="8.13" lengthAdjust="spacingAndGlyphs" fill="#1e1e1e" stroke="#1e1e1e" stroke-width="1.05">F</text>
</g>
</g>
<g stroke="#3a6fba" stroke-width="2.1" stroke-linecap="butt" fill="none">
<path d="M120.3,324.3 L120.3,312 L111.5,301"/><path d="M124.7,324.3 L124.7,312 L133.5,301"/>
<path d="M117.3,313.3 L109.3,303.5"/><path d="M127.7,313.3 L135.7,303.5"/>
</g>
<path d="M94.8,337.5 C108,328 132,325 152.5,336" fill="none" stroke="#3a3a3a" stroke-width="1"/>
<path d="M155,337.5 L149.5,336.8 L152.8,332.8Z" fill="#3a3a3a"/>
<g transform="translate(79.3,337) rotate(0)"><rect x="-0.8" y="-4" width="1.6" height="4" fill="#d8d8d8"/><rect x="-1.6" y="-10" width="3.2" height="6" fill="#2e7bb4"/></g>
<circle cx="79.4" cy="347.4" r="10.8" fill="#8ed09a" stroke="#6cb880" stroke-width="1.1"/>
<circle cx="80.2" cy="348.4" r="6" fill="#43a05e"/>
<g transform="translate(170.9,332.5) rotate(0)"><rect x="-0.8" y="-4" width="1.6" height="4" fill="#d8d8d8"/><rect x="-1.6" y="-11" width="3.2" height="7" fill="#2e7bb4"/></g>
<g transform="translate(189.8,327) rotate(0)"><rect x="-0.8" y="-4" width="1.6" height="4" fill="#d8d8d8"/><rect x="-1.6" y="-11" width="3.2" height="7" fill="#2e7bb4"/></g>
<g transform="translate(205,338) rotate(40)"><rect x="-0.8" y="-4" width="1.6" height="4" fill="#d8d8d8"/><rect x="-1.6" y="-11" width="3.2" height="7" fill="#2e7bb4"/></g>
<g transform="translate(185.5,372.5) rotate(195)"><rect x="-0.8" y="-4" width="1.6" height="4" fill="#d8d8d8"/><rect x="-1.6" y="-11" width="3.2" height="7" fill="#2e7bb4"/></g>
<circle cx="191" cy="339" r="10.3" fill="#8ed09a" stroke="#6cb880" stroke-width="1.1"/>
<circle cx="192" cy="340" r="6.2" fill="#43a05e"/>
<circle cx="171.8" cy="342.5" r="10.3" fill="#8ed09a" stroke="#6cb880" stroke-width="1.1"/>
<circle cx="172.8" cy="343.5" r="6.2" fill="#43a05e"/>
<circle cx="202.3" cy="350.4" r="10.3" fill="#8ed09a" stroke="#6cb880" stroke-width="1.1"/>
<circle cx="203.3" cy="351.4" r="6.2" fill="#43a05e"/>
<circle cx="175.2" cy="361.7" r="10.3" fill="#8ed09a" stroke="#6cb880" stroke-width="1.1"/>
<circle cx="176.2" cy="362.7" r="6.2" fill="#43a05e"/>
<circle cx="192.1" cy="360.6" r="10.3" fill="#8ed09a" stroke="#6cb880" stroke-width="1.1"/>
<circle cx="193.1" cy="361.6" r="6.2" fill="#43a05e"/>
<g transform="translate(170.5,345) rotate(-35)"><rect x="-0.8" y="-4" width="1.6" height="4" fill="#d8d8d8"/><rect x="-1.6" y="-10" width="3.2" height="6" fill="#2e7bb4"/></g>
<rect x="20.30" y="379.3" width="8.93" height="4.4" fill="#92b5cd"/>
<rect x="29.03" y="379.3" width="8.93" height="4.4" fill="#71a0c2"/>
<rect x="37.76" y="379.3" width="8.93" height="4.4" fill="#7c88b2"/>
<rect x="46.49" y="379.3" width="8.93" height="4.4" fill="#8a4c8e"/>
<rect x="55.22" y="379.3" width="8.93" height="4.4" fill="#3c8a8c"/>
<rect x="63.95" y="379.3" width="8.93" height="4.4" fill="#2b6aa8"/>
<rect x="72.68" y="379.3" width="8.93" height="4.4" fill="#8ecc6c"/>
<rect x="81.41" y="379.3" width="8.93" height="4.4" fill="#72b95a"/>
<rect x="90.14" y="379.3" width="8.93" height="4.4" fill="#c2a2ce"/>
<rect x="98.87" y="379.3" width="8.93" height="4.4" fill="#273838"/>
<rect x="20.3" y="385.6" width="87.3" height="156.5" fill="#4a6ea7"/>
<rect x="20.3" y="385.8" width="8.88" height="2.75" fill="#f4b45a"/>
<rect x="29.0" y="385.8" width="8.88" height="2.75" fill="#f4b45a"/>
<rect x="37.8" y="385.8" width="8.88" height="2.75" fill="#f8f0b8"/>
<rect x="20.3" y="388.4" width="8.88" height="2.75" fill="#cfe2ee"/>
<rect x="29.0" y="388.4" width="8.88" height="2.75" fill="#c6dcea"/>
<rect x="37.8" y="388.4" width="8.88" height="2.75" fill="#c6dcea"/>
<rect x="20.3" y="391.0" width="8.88" height="2.75" fill="#c6dcea"/>
<rect x="29.0" y="391.0" width="8.88" height="2.75" fill="#edf2e0"/>
<rect x="37.8" y="391.0" width="8.88" height="2.75" fill="#dbeaf2"/>
<rect x="20.3" y="393.6" width="8.88" height="2.75" fill="#f6f3c8"/>
<rect x="29.0" y="393.6" width="8.88" height="2.75" fill="#e3eef2"/>
<rect x="37.8" y="393.6" width="8.88" height="2.75" fill="#c6dcea"/>
<rect x="20.3" y="396.2" width="8.88" height="2.75" fill="#dbeaf2"/>
<rect x="29.0" y="396.2" width="8.88" height="2.75" fill="#e3eef2"/>
<rect x="37.8" y="396.2" width="8.88" height="2.75" fill="#dbeaf2"/>
<rect x="20.3" y="398.8" width="8.88" height="2.75" fill="#cfe2ee"/>
<rect x="29.0" y="398.8" width="8.88" height="2.75" fill="#f6f3c8"/>
<rect x="37.8" y="398.8" width="8.88" height="2.75" fill="#e3eef2"/>
<rect x="20.3" y="401.4" width="8.88" height="2.75" fill="#f6f3c8"/>
<rect x="29.0" y="401.4" width="8.88" height="2.75" fill="#edf2e0"/>
<rect x="37.8" y="401.4" width="8.88" height="2.75" fill="#dbeaf2"/>
<rect x="20.3" y="404.0" width="8.88" height="2.75" fill="#edf2e0"/>
<rect x="29.0" y="404.0" width="8.88" height="2.75" fill="#4a6ea7"/>
<rect x="37.8" y="404.0" width="8.88" height="2.75" fill="#c6dcea"/>
<rect x="20.3" y="406.6" width="8.88" height="2.75" fill="#e3eef2"/>
<rect x="29.0" y="406.6" width="8.88" height="2.75" fill="#8aa8c8"/>
<rect x="37.8" y="406.6" width="8.88" height="2.75" fill="#e3eef2"/>
<rect x="20.3" y="409.2" width="8.88" height="2.75" fill="#f6f3c8"/>
<rect x="29.0" y="409.2" width="8.88" height="2.75" fill="#4a6ea7"/>
<rect x="37.8" y="409.2" width="8.88" height="2.75" fill="#e3eef2"/>
<rect x="20.3" y="411.8" width="8.88" height="2.75" fill="#edf2e0"/>
<rect x="29.0" y="411.8" width="8.88" height="2.75" fill="#8aa8c8"/>
<rect x="37.8" y="411.8" width="8.88" height="2.75" fill="#e3eef2"/>
<rect x="20.3" y="414.4" width="8.88" height="2.75" fill="#e3eef2"/>
<rect x="29.0" y="414.4" width="8.88" height="2.75" fill="#4a6ea7"/>
<rect x="37.8" y="414.4" width="8.88" height="2.75" fill="#9ab8cc"/>
<rect x="20.3" y="417.0" width="8.88" height="2.75" fill="#e3eef2"/>
<rect x="29.0" y="417.0" width="8.88" height="2.75" fill="#e3eef2"/>
<rect x="37.8" y="417.0" width="8.88" height="2.75" fill="#9ab8cc"/>
<rect x="20.3" y="419.6" width="8.88" height="2.75" fill="#cfe2ee"/>
<rect x="29.0" y="419.6" width="8.88" height="2.75" fill="#cfe2ee"/>
<rect x="37.8" y="419.6" width="8.88" height="2.75" fill="#9ab8cc"/>
<rect x="20.3" y="422.2" width="8.88" height="2.75" fill="#edf2e0"/>
<rect x="29.0" y="422.2" width="8.88" height="2.75" fill="#c6dcea"/>
<rect x="37.8" y="422.2" width="8.88" height="2.75" fill="#9ab8cc"/>
<rect x="46.5" y="385.8" width="8.88" height="2.75" fill="#6a8cbc"/>
<rect x="46.5" y="388.4" width="8.88" height="2.75" fill="#b8d0e0"/>
<rect x="46.5" y="391.0" width="8.88" height="2.75" fill="#a6c2d8"/>
<rect x="46.5" y="393.6" width="8.88" height="2.75" fill="#a0bcd4"/>
<rect x="55.2" y="385.8" width="8.88" height="2.75" fill="#5a80b4"/>
<rect x="55.2" y="427.0" width="8.88" height="2.75" fill="#d8e8f0"/>
<rect x="55.2" y="429.6" width="8.88" height="2.75" fill="#d8e8f0"/>
<rect x="55.2" y="432.2" width="8.88" height="2.75" fill="#e0eef2"/>
<rect x="55.2" y="434.8" width="8.88" height="2.75" fill="#d8e8f0"/>
<rect x="55.2" y="437.4" width="8.88" height="2.75" fill="#c8dcea"/>
<rect x="55.2" y="440.0" width="8.88" height="2.75" fill="#c8dcea"/>
<rect x="55.2" y="442.6" width="8.88" height="2.75" fill="#d8e8f0"/>
<rect x="55.2" y="445.2" width="8.88" height="2.75" fill="#f8e090"/>
<rect x="55.2" y="447.8" width="8.88" height="2.75" fill="#f8e090"/>
<rect x="55.2" y="450.4" width="8.88" height="2.75" fill="#fbe8a0"/>
<rect x="55.2" y="453.0" width="8.88" height="2.75" fill="#fbe8a0"/>
<rect x="55.2" y="455.6" width="8.88" height="2.75" fill="#f8e090"/>
<rect x="55.2" y="458.2" width="8.88" height="2.75" fill="#fbe8a0"/>
<rect x="55.2" y="460.8" width="8.88" height="2.75" fill="#f8e090"/>
<rect x="55.2" y="463.4" width="8.88" height="2.75" fill="#f8e090"/>
<rect x="55.2" y="466.0" width="8.88" height="2.75" fill="#fdf0b8"/>
<rect x="55.2" y="468.6" width="8.88" height="2.75" fill="#e0eef2"/>
<rect x="55.2" y="471.2" width="8.88" height="2.75" fill="#d8e8f0"/>
<rect x="55.2" y="473.8" width="8.88" height="2.75" fill="#e0eef2"/>
<rect x="55.2" y="476.4" width="8.88" height="2.75" fill="#e0eef2"/>
<rect x="55.2" y="479.0" width="8.88" height="2.75" fill="#e0eef2"/>
<rect x="55.2" y="481.6" width="8.88" height="2.75" fill="#c8dcea"/>
<rect x="55.2" y="465.0" width="8.88" height="2.75" fill="#f29a40"/>
<rect x="46.5" y="468.0" width="8.88" height="2.75" fill="#d8eaf2"/>
<rect x="46.5" y="470.6" width="8.88" height="2.75" fill="#e6f2f2"/>
<rect x="46.5" y="473.2" width="8.88" height="2.75" fill="#e6f2f2"/>
<rect x="46.5" y="475.8" width="8.88" height="2.75" fill="#e6f2f2"/>
<rect x="46.5" y="478.4" width="8.88" height="2.75" fill="#9cb8d0"/>
<rect x="46.5" y="481.0" width="8.88" height="2.75" fill="#4a6ea7"/>
<rect x="46.5" y="483.6" width="8.88" height="2.75" fill="#e6f2f2"/>
<rect x="46.5" y="486.2" width="8.88" height="2.75" fill="#c0d6e6"/>
<rect x="46.5" y="488.8" width="8.88" height="2.75" fill="#9cb8d0"/>
<rect x="46.5" y="491.4" width="8.88" height="2.75" fill="#9cb8d0"/>
<rect x="46.5" y="494.0" width="8.88" height="2.75" fill="#4a6ea7"/>
<rect x="46.5" y="496.6" width="8.88" height="2.75" fill="#c0d6e6"/>
<rect x="46.5" y="499.2" width="8.88" height="2.75" fill="#d8eaf2"/>
<rect x="46.5" y="501.8" width="8.88" height="2.75" fill="#e6f2f2"/>
<rect x="46.5" y="504.4" width="8.88" height="2.75" fill="#d8eaf2"/>
<rect x="46.5" y="507.0" width="8.88" height="2.75" fill="#4a6ea7"/>
<rect x="46.5" y="509.6" width="8.88" height="2.75" fill="#e6f2f2"/>
<rect x="46.5" y="512.2" width="8.88" height="2.75" fill="#9cb8d0"/>
<rect x="46.5" y="514.8" width="8.88" height="2.75" fill="#d8eaf2"/>
<rect x="46.5" y="517.4" width="8.88" height="2.75" fill="#f4f0c8"/>
<rect x="55.2" y="482.0" width="8.88" height="2.75" fill="#9ab8d0"/>
<rect x="55.2" y="484.6" width="8.88" height="2.75" fill="#9ab8d0"/>
<rect x="55.2" y="487.2" width="8.88" height="2.75" fill="#9ab8d0"/>
<rect x="55.2" y="489.8" width="8.88" height="2.75" fill="#7c9cc4"/>
<rect x="55.2" y="492.4" width="8.88" height="2.75" fill="#9ab8d0"/>
<rect x="20.3" y="523.5" width="8.88" height="2.75" fill="#dfeef4"/>
<rect x="29.0" y="523.5" width="8.88" height="2.75" fill="#a8c4dc"/>
<rect x="37.8" y="523.5" width="8.88" height="2.75" fill="#4a6ea7"/>
<rect x="20.3" y="526.1" width="8.88" height="2.75" fill="#a8c4dc"/>
<rect x="29.0" y="526.1" width="8.88" height="2.75" fill="#dfeef4"/>
<rect x="37.8" y="526.1" width="8.88" height="2.75" fill="#a8c4dc"/>
<rect x="20.3" y="528.7" width="8.88" height="2.75" fill="#c8dcea"/>
<rect x="29.0" y="528.7" width="8.88" height="2.75" fill="#7898c0"/>
<rect x="37.8" y="528.7" width="8.88" height="2.75" fill="#4a6ea7"/>
<rect x="20.3" y="531.3" width="8.88" height="2.75" fill="#7898c0"/>
<rect x="29.0" y="531.3" width="8.88" height="2.75" fill="#4a6ea7"/>
<rect x="37.8" y="531.3" width="8.88" height="2.75" fill="#7898c0"/>
<rect x="20.3" y="533.9" width="8.88" height="2.75" fill="#c8dcea"/>
<rect x="29.0" y="533.9" width="8.88" height="2.75" fill="#dfeef4"/>
<rect x="37.8" y="533.9" width="8.88" height="2.75" fill="#4a6ea7"/>
<rect x="20.3" y="536.5" width="8.88" height="2.75" fill="#7898c0"/>
<rect x="29.0" y="536.5" width="8.88" height="2.75" fill="#7898c0"/>
<rect x="37.8" y="536.5" width="8.88" height="2.75" fill="#dfeef4"/>
<rect x="20.3" y="539.1" width="8.88" height="2.75" fill="#c8dcea"/>
<rect x="29.0" y="539.1" width="8.88" height="2.75" fill="#dfeef4"/>
<rect x="37.8" y="539.1" width="8.88" height="2.75" fill="#a8c4dc"/>
<rect x="20.3" y="541.7" width="8.88" height="2.75" fill="#7898c0"/>
<rect x="29.0" y="541.7" width="8.88" height="2.75" fill="#4a6ea7"/>
<rect x="37.8" y="541.7" width="8.88" height="2.75" fill="#4a6ea7"/>
<rect x="46.5" y="430.0" width="8.88" height="2.75" fill="#7e9ec6"/>
<rect x="46.5" y="443.0" width="8.88" height="2.75" fill="#7e9ec6"/>
<rect x="29.0" y="460.0" width="8.88" height="2.75" fill="#7e9ec6"/>
<rect x="20.3" y="500.0" width="8.88" height="2.75" fill="#7e9ec6"/>
<rect x="20.3" y="507.0" width="8.88" height="2.75" fill="#a8c4dc"/>
<rect x="20.3" y="510.0" width="8.88" height="2.75" fill="#a8c4dc"/>
<rect x="37.8" y="505.0" width="8.88" height="2.75" fill="#8aaace"/>
<rect x="37.8" y="512.0" width="8.88" height="2.75" fill="#8aaace"/>
<rect x="81.4" y="451.0" width="8.88" height="2.75" fill="#7e9ec6"/>
<rect x="81.4" y="496.0" width="8.88" height="2.75" fill="#b0cce0"/>
<rect x="81.4" y="498.5" width="8.88" height="2.75" fill="#b0cce0"/>
<rect x="90.1" y="502.0" width="8.88" height="2.75" fill="#7e9ec6"/>
<rect x="72.7" y="518.0" width="8.88" height="2.75" fill="#f4f4f4"/>
<rect x="20.3" y="514.5" width="8.88" height="2.75" fill="#a0bcd4"/>
<rect x="37.8" y="520.0" width="8.88" height="2.75" fill="#a0bcd4"/>
<g stroke-width="2.1" stroke-linecap="round" fill="none">
<path stroke="#0d0887" d="M207.8 390.7h0M200.6 384.5h0M192.2 392.8h0M190.5 386.8h0M202.0 388.2h0M208.9 391.2h0M196.5 389.5h0M196.0 391.1h0M193.8 390.8h0M195.3 385.6h0M205.2 387.9h0M191.5 388.0h0M194.4 386.1h0M199.5 384.6h0M194.6 385.1h0M200.2 387.0h0M201.7 389.8h0M203.2 386.1h0M191.9 389.1h0M197.4 388.4h0"/>
<path stroke="#20068f" d="M204.5 393.3h0M203.9 398.9h0M190.2 399.9h0M196.3 389.4h0M199.6 400.0h0M189.8 386.1h0M206.6 391.0h0M191.2 385.5h0M196.1 393.6h0M201.6 388.5h0M200.6 386.1h0M194.3 393.7h0M187.8 401.1h0M189.1 390.3h0M195.5 392.3h0M196.3 394.8h0M206.4 386.9h0M209.8 397.1h0M200.9 401.5h0M208.3 391.0h0M195.7 389.6h0M197.5 384.4h0M207.9 386.9h0M203.0 387.7h0M196.4 385.5h0M194.9 401.7h0M193.3 388.9h0M190.9 385.8h0M194.7 384.9h0M208.3 395.3h0M189.8 392.9h0M193.1 388.7h0M195.3 404.2h0M195.0 393.4h0M200.2 399.3h0M204.5 386.0h0M193.7 393.4h0M200.1 385.8h0M205.1 395.3h0M204.7 402.9h0M203.7 388.3h0M189.8 403.0h0M196.2 400.7h0M190.4 388.9h0M195.4 388.8h0M207.1 400.9h0M206.6 393.3h0M197.4 395.5h0M195.8 384.2h0M206.9 396.2h0M201.1 396.4h0M207.3 395.6h0M194.7 404.4h0M206.3 397.6h0M203.1 395.5h0M194.5 389.3h0M199.1 388.9h0M209.4 400.4h0M192.5 384.2h0M205.2 390.3h0M193.6 384.4h0M207.5 392.0h0M204.8 393.0h0M196.5 397.8h0M204.4 390.3h0M200.1 387.8h0M193.9 389.9h0M188.1 398.0h0M196.6 387.8h0M200.3 384.1h0M200.8 385.1h0M190.2 395.7h0M205.0 392.6h0M201.6 402.4h0M203.9 393.4h0M207.0 395.2h0M191.8 400.5h0M197.7 387.2h0M198.4 389.3h0M202.2 386.4h0M204.9 387.4h0M201.3 397.8h0M196.4 396.1h0M197.1 392.9h0M198.3 385.0h0M198.6 386.2h0M196.7 389.5h0M203.6 405.1h0M194.9 395.4h0M189.8 387.2h0M203.4 400.7h0M189.5 400.4h0M208.4 388.0h0M208.3 405.1h0"/>
<path stroke="#340497" d="M196.3 400.2h0M198.8 402.2h0M194.7 391.4h0M190.8 390.7h0M196.4 400.8h0M189.3 393.3h0M181.4 415.5h0M185.6 403.4h0M176.3 409.3h0M180.4 406.9h0M183.6 410.0h0M183.3 417.5h0M187.4 402.8h0M207.9 413.5h0M188.2 408.2h0M199.2 388.1h0M198.0 403.0h0M195.2 402.5h0M207.0 401.1h0M190.3 389.5h0M203.7 392.0h0M180.0 408.2h0M208.2 394.1h0M193.5 407.5h0M195.4 398.5h0M202.7 407.3h0M193.3 392.4h0M184.9 406.9h0M206.4 396.4h0M181.3 408.8h0M202.4 400.0h0M186.6 412.6h0M190.7 409.8h0M189.2 394.8h0M201.3 387.7h0M205.5 401.5h0M200.1 393.5h0M204.0 396.9h0M202.3 391.2h0M209.2 394.1h0M187.6 400.8h0M181.8 417.2h0M202.2 403.8h0M202.1 409.9h0M177.7 405.6h0M205.0 401.1h0M187.8 404.3h0M207.9 400.6h0M204.7 399.0h0M199.9 388.9h0M205.2 400.5h0M208.6 405.7h0M196.1 401.1h0M194.3 400.2h0M200.1 407.8h0M201.5 409.8h0M189.8 413.8h0M189.0 399.5h0M208.9 406.3h0M206.6 412.1h0M187.1 408.9h0M205.6 412.4h0M184.5 408.8h0M194.7 407.7h0M206.0 391.5h0M209.1 392.3h0M183.9 404.9h0M202.9 415.7h0M182.3 406.0h0M189.1 411.5h0M190.8 405.0h0M183.5 408.0h0M210.2 401.5h0M196.6 390.0h0M179.1 404.8h0M200.0 409.1h0M206.4 414.2h0M194.5 395.4h0M200.2 397.6h0M209.6 406.2h0M203.7 393.1h0M186.5 419.0h0M203.4 407.5h0M189.3 417.8h0M204.3 407.7h0M206.4 406.8h0M203.2 400.4h0M209.8 398.3h0M201.4 416.1h0M195.0 397.5h0M193.7 394.1h0M206.4 407.5h0M192.0 408.5h0M208.8 390.0h0M197.8 407.9h0M195.7 411.6h0M203.1 404.3h0M187.6 408.1h0M204.6 393.0h0M203.6 412.8h0M207.4 409.7h0M191.4 401.1h0M206.3 403.3h0M210.0 407.6h0M192.8 389.7h0M194.8 411.3h0M207.0 407.6h0M200.3 402.5h0M205.4 391.6h0M209.6 406.1h0M204.5 393.0h0M196.2 402.9h0M202.2 387.3h0M187.5 401.7h0M206.9 394.4h0M198.3 403.0h0M209.5 414.4h0M180.5 405.1h0M202.4 415.5h0M201.2 394.9h0M192.3 407.2h0M197.2 396.7h0M189.6 406.7h0M205.2 393.4h0M204.1 392.0h0M208.9 408.5h0M206.1 390.8h0M185.7 416.5h0M196.5 403.0h0M193.5 402.2h0M188.4 397.5h0M193.3 405.9h0M189.9 392.5h0M196.1 417.1h0M188.7 400.7h0M189.9 415.9h0M190.3 399.0h0M200.8 412.2h0M194.3 392.9h0M196.6 393.4h0M208.0 413.6h0M199.2 413.7h0M181.7 409.5h0M186.3 407.2h0M208.0 396.7h0M203.4 419.5h0M200.5 404.6h0M203.4 413.4h0M193.8 389.0h0M205.2 414.6h0M201.9 409.9h0M199.6 387.2h0M202.6 407.7h0M192.0 399.5h0M202.1 401.8h0M187.3 406.5h0M201.0 399.7h0M201.9 398.1h0"/>
<path stroke="#4803a0" d="M177.8 421.8h0M193.6 422.8h0M187.2 422.7h0M207.0 417.3h0M188.6 413.4h0M203.1 397.9h0M187.9 420.2h0M207.7 405.8h0M195.6 406.2h0M187.1 413.4h0M181.2 419.6h0M190.8 412.8h0M202.4 419.6h0M189.7 401.2h0M190.8 406.9h0M187.6 409.6h0M183.0 409.7h0M196.1 427.8h0M201.8 415.9h0M203.3 409.4h0M200.5 415.2h0M209.3 412.8h0M178.0 414.6h0M191.0 420.4h0M202.9 398.9h0M208.0 406.9h0M197.0 404.0h0M174.0 419.1h0M199.2 420.1h0M205.8 402.3h0M197.6 414.8h0M186.5 425.8h0M192.8 423.1h0M186.2 408.2h0M207.8 422.6h0M196.2 418.6h0M207.2 426.6h0M205.2 431.8h0M200.1 404.2h0M201.7 414.1h0M189.8 423.8h0M199.4 398.8h0M174.3 421.0h0M192.9 411.5h0M190.0 421.1h0M200.8 406.6h0M195.6 404.1h0M193.6 418.4h0M187.1 416.0h0M190.4 414.2h0M186.5 404.4h0M204.6 403.4h0M198.9 410.2h0M194.3 425.3h0M177.6 422.7h0M209.0 413.7h0M208.5 430.8h0M195.2 417.2h0M200.1 424.8h0M205.6 413.9h0M190.1 407.7h0M176.0 419.7h0M200.4 413.9h0M206.3 414.5h0M191.7 415.9h0M196.7 416.8h0M183.9 412.5h0M191.4 412.7h0M179.0 412.1h0M185.1 411.7h0M184.9 414.2h0M172.9 413.6h0M179.5 417.1h0M188.6 410.0h0M207.8 413.0h0M179.2 408.2h0M205.1 422.3h0M201.4 418.1h0M183.6 422.2h0M192.2 408.4h0M176.9 408.8h0M188.9 416.4h0M202.4 415.7h0M196.5 426.5h0M191.4 419.0h0M188.2 419.8h0M182.2 415.2h0M186.3 417.2h0M209.1 421.5h0M204.7 404.8h0M177.7 412.1h0M197.3 407.1h0M197.0 408.9h0M187.3 403.5h0M198.0 403.6h0M184.5 417.1h0M209.1 411.7h0M193.6 406.6h0M191.0 415.6h0M180.7 417.7h0M196.9 424.9h0M180.5 405.9h0M208.1 411.9h0M203.3 415.3h0M196.3 415.8h0M203.2 416.0h0M203.8 416.5h0M177.5 418.4h0M209.6 405.6h0M183.3 416.1h0M201.8 420.4h0M200.8 419.5h0M187.0 410.2h0M200.9 407.3h0M188.8 424.7h0M190.1 397.3h0M175.1 407.3h0M170.0 414.0h0M195.5 430.6h0M203.0 412.1h0M179.5 414.0h0M197.8 417.7h0M191.7 418.5h0M195.7 409.3h0M174.4 422.2h0M193.2 406.0h0M184.8 420.1h0M209.1 418.8h0M186.2 419.9h0M188.8 424.0h0M183.9 416.4h0M205.4 420.1h0M183.2 414.2h0M205.7 424.8h0M196.8 425.2h0M199.4 411.5h0M179.7 421.6h0M183.3 408.3h0M192.8 425.8h0M200.8 427.0h0M197.4 410.6h0M193.6 415.9h0M171.6 409.9h0M194.7 429.5h0M199.3 406.1h0M202.3 409.4h0M202.5 409.3h0M190.9 415.6h0M194.7 413.0h0M187.4 427.4h0M204.5 426.0h0M200.8 422.0h0M200.3 397.6h0M206.9 413.9h0M177.0 417.7h0M206.3 421.8h0M189.7 426.7h0M191.8 422.9h0M204.1 420.6h0M192.8 415.5h0M194.2 407.0h0M209.4 401.8h0M197.5 411.2h0M177.9 415.8h0M174.7 414.5h0M188.1 421.4h0M173.7 408.8h0M193.7 421.6h0M197.4 425.1h0M192.4 421.5h0M181.3 416.8h0M206.2 415.5h0M196.5 412.5h0M190.4 399.6h0M200.7 407.1h0M183.4 421.0h0M183.1 406.3h0M202.2 430.7h0M191.3 420.8h0M209.1 408.5h0M187.9 416.7h0M195.9 414.4h0M191.4 417.3h0M207.8 422.8h0M186.2 421.6h0M198.2 413.7h0M182.7 409.0h0M204.3 423.3h0M197.2 413.4h0M192.4 414.2h0M208.2 405.8h0M189.1 410.9h0M181.4 409.1h0M209.6 412.8h0M190.8 422.3h0M188.3 397.8h0M173.3 412.8h0M208.0 420.0h0M194.0 428.5h0M191.5 414.3h0M198.0 411.9h0M183.2 422.7h0M190.5 430.5h0M186.0 404.8h0M207.3 418.5h0M206.8 409.3h0M185.1 421.1h0M209.0 411.2h0M193.0 410.6h0M193.0 409.7h0M188.7 400.2h0M189.1 428.3h0M188.0 406.9h0M178.7 419.0h0M197.0 400.2h0M188.1 426.0h0M192.5 424.4h0M205.5 414.6h0M190.9 420.6h0M205.0 422.5h0M200.7 415.2h0M184.3 423.5h0"/>
<path stroke="#5a03a3" d="M192.4 433.8h0M194.2 427.2h0M179.1 414.0h0M197.7 435.7h0M186.7 425.7h0M207.6 411.6h0M179.0 413.6h0M174.1 415.5h0M196.4 413.3h0M172.5 415.9h0M195.1 435.9h0M178.2 410.3h0M197.3 416.9h0M208.4 418.9h0M197.8 432.5h0M190.4 419.5h0M201.8 430.6h0M170.2 412.4h0M197.2 426.9h0M193.8 435.9h0M204.6 430.9h0M203.1 429.1h0M185.5 418.4h0M184.4 425.4h0M199.5 421.0h0M171.6 409.8h0M171.3 412.8h0M177.4 416.5h0M199.9 426.3h0M201.9 427.9h0M201.3 424.7h0M192.7 417.3h0M200.9 415.1h0M173.7 419.2h0M205.7 417.0h0M181.9 424.9h0M190.1 415.1h0M208.5 416.1h0M175.8 422.5h0M192.0 420.7h0M197.0 415.8h0M206.7 429.1h0M190.9 432.6h0M197.2 422.7h0M173.0 410.9h0M172.8 417.8h0M176.6 418.5h0M205.3 417.7h0M204.3 418.7h0M169.5 413.9h0M201.7 426.3h0M205.5 432.5h0M200.1 421.6h0M206.4 429.9h0M189.4 431.9h0M196.4 429.2h0M202.5 432.5h0M202.6 423.6h0M174.5 415.2h0M205.9 423.1h0M177.3 414.6h0M188.5 425.8h0M169.1 419.2h0M208.9 421.7h0M192.2 432.0h0M198.2 434.4h0M196.7 412.3h0M191.7 433.7h0M199.5 434.9h0M173.0 416.5h0M176.8 416.0h0M201.5 418.9h0M194.2 414.4h0M174.1 413.4h0M198.8 416.8h0M175.7 420.0h0M177.9 407.3h0M198.7 437.5h0M186.5 414.1h0M175.8 411.7h0M196.3 425.7h0M176.3 411.6h0M200.8 429.8h0M197.5 433.5h0M191.2 421.6h0M203.6 430.6h0M207.9 420.9h0M170.5 412.1h0M199.4 421.2h0M192.7 409.9h0M167.0 416.3h0M174.8 416.5h0M191.6 432.2h0M207.9 423.8h0M205.6 433.7h0M195.9 426.3h0M182.1 425.1h0M203.3 419.7h0M205.3 422.3h0M202.9 415.4h0M177.1 415.1h0M195.4 428.1h0M193.9 417.2h0M184.4 418.3h0M206.0 422.6h0M203.6 433.9h0M190.4 416.3h0M195.5 415.0h0M194.9 420.3h0M208.4 429.4h0M206.3 427.7h0M199.8 413.8h0M207.7 434.7h0M180.9 414.7h0M192.3 414.9h0M203.4 428.3h0M193.7 433.0h0M174.8 407.2h0M177.9 421.8h0M189.3 425.6h0M173.8 411.0h0M202.7 423.2h0M179.1 416.3h0M174.0 418.3h0M194.0 416.0h0M203.9 421.9h0M179.8 423.2h0M194.2 427.8h0M189.5 421.7h0M189.1 419.6h0M201.0 423.4h0M197.6 409.6h0M171.5 409.2h0M199.7 413.1h0M196.9 436.8h0M204.5 432.1h0M200.8 423.6h0M199.4 431.2h0M195.9 424.1h0M173.7 421.9h0M205.0 425.8h0M180.6 417.3h0M191.8 430.7h0M186.4 425.4h0M165.9 416.8h0M170.4 415.9h0M195.3 420.4h0M180.2 409.6h0M200.6 414.4h0M176.6 417.5h0M203.8 421.7h0M206.1 431.4h0M201.3 420.0h0M205.0 423.2h0M198.7 413.9h0M206.3 429.8h0M197.4 426.9h0M188.6 427.5h0M208.4 435.1h0M197.3 419.4h0M204.3 426.4h0M170.3 414.0h0M188.6 437.5h0M189.4 437.8h0M188.8 430.7h0M185.0 426.1h0M184.6 445.5h0M193.7 440.0h0M189.0 442.8h0M185.7 437.2h0M184.2 421.4h0M195.1 425.2h0M187.6 431.2h0M195.4 427.7h0M185.7 429.1h0M191.5 428.4h0M207.6 431.6h0M193.1 425.8h0M184.5 423.8h0M197.0 425.2h0M189.4 426.6h0M190.5 426.7h0M193.5 427.6h0M190.2 423.9h0M191.4 427.9h0M191.5 424.9h0M184.7 421.6h0M183.7 422.9h0M190.3 429.4h0"/>
<path stroke="#6c03a5" d="M208.3 430.1h0M187.5 429.5h0M188.7 430.6h0M172.8 421.4h0M170.8 417.0h0M193.2 433.2h0M196.8 427.0h0M176.5 421.8h0M192.9 430.5h0M201.5 434.3h0M203.4 432.0h0M187.9 430.4h0M198.0 427.8h0M172.1 418.8h0M176.1 421.2h0M203.2 435.6h0M187.1 429.4h0M197.2 435.2h0M200.5 434.0h0M199.9 431.0h0M196.5 431.2h0M194.0 425.6h0M192.6 434.9h0M204.0 433.9h0M188.5 429.7h0M177.3 417.0h0M201.5 436.5h0M174.4 419.4h0M203.7 436.2h0M207.2 435.5h0M190.1 427.7h0M201.2 434.9h0M177.9 418.2h0M168.7 418.2h0M182.1 424.2h0M196.3 434.7h0M192.1 431.4h0M204.2 436.8h0M207.9 425.8h0M195.6 431.0h0M189.4 428.5h0M191.3 425.9h0M187.9 426.2h0M205.0 427.2h0M206.1 431.1h0M183.2 429.6h0M189.0 433.9h0M187.9 448.4h0M187.8 440.3h0M192.8 445.1h0M188.6 429.6h0M189.2 447.5h0M187.3 446.4h0M190.6 447.0h0M187.4 431.9h0M189.2 435.1h0M190.2 445.5h0M182.7 450.8h0M193.6 443.5h0M191.7 441.9h0M193.0 444.7h0M183.8 426.1h0M191.3 435.2h0M185.1 428.2h0M188.4 447.2h0M183.8 436.0h0M186.8 434.2h0M192.9 441.7h0M190.9 439.9h0M193.3 442.6h0M185.5 444.9h0M186.7 431.9h0M192.3 442.1h0M189.8 448.2h0M192.8 442.2h0M183.9 435.1h0M184.7 431.7h0M187.0 428.9h0M183.4 448.0h0M189.5 432.9h0M188.1 431.7h0M192.0 445.8h0M191.7 436.6h0M185.1 428.4h0M186.1 429.6h0M183.8 431.0h0M204.4 432.7h0M191.0 436.4h0M200.8 434.1h0M195.6 426.1h0M190.1 423.9h0M190.2 441.1h0M204.6 427.5h0M191.5 425.6h0M188.2 435.2h0M194.8 427.2h0M207.7 434.7h0M209.1 434.3h0M187.8 432.9h0M190.2 436.8h0M201.2 429.0h0M204.2 427.8h0M194.0 433.8h0M186.1 436.9h0M205.0 427.6h0M207.4 429.7h0M194.6 431.6h0M201.8 427.1h0M201.5 432.9h0M192.1 429.8h0M188.2 426.3h0M187.3 423.5h0M208.7 435.3h0M195.4 427.7h0M202.2 431.9h0M187.8 430.6h0M206.1 434.3h0M200.8 427.8h0M187.6 431.0h0M193.7 432.3h0M194.8 434.5h0M191.5 431.6h0M210.0 439.5h0M185.3 426.7h0M188.3 435.2h0M203.1 436.2h0M184.3 436.0h0M190.2 433.5h0M185.7 428.5h0M197.2 427.2h0M189.3 427.7h0M201.0 436.2h0M185.2 437.9h0M190.0 436.5h0M204.5 433.8h0M203.9 435.2h0M194.2 425.8h0M184.8 423.2h0"/>
<path stroke="#7e03a8" d="M180.8 448.5h0M187.6 444.1h0M190.2 435.7h0M186.9 431.4h0M184.8 436.6h0M184.5 447.6h0M193.1 444.0h0M187.7 428.5h0M190.7 443.8h0M193.4 439.0h0M188.2 449.1h0M189.4 440.4h0M192.7 443.5h0M180.8 428.4h0M181.8 447.9h0M179.1 451.8h0M181.6 431.8h0M183.2 422.4h0M185.0 444.7h0M179.2 449.0h0M188.7 433.7h0M186.4 443.6h0M187.3 443.2h0M180.7 439.7h0M181.7 446.9h0M182.2 434.1h0M191.7 442.2h0M182.4 435.2h0M183.1 440.2h0M185.6 432.9h0M181.4 430.1h0M183.2 424.2h0M187.6 438.1h0M189.9 437.1h0M180.6 439.7h0M186.1 443.9h0M187.3 433.9h0M194.5 441.4h0M189.8 433.9h0M204.3 440.4h0M185.3 444.3h0M190.6 442.0h0M201.2 441.9h0M202.9 444.9h0M186.8 442.5h0M192.5 435.5h0M205.9 432.6h0M185.6 441.9h0M198.1 440.1h0M196.9 435.3h0M186.1 440.3h0M202.8 439.7h0M197.3 434.7h0M193.2 445.2h0M187.6 438.5h0M188.8 443.8h0M205.0 445.0h0M192.5 436.8h0M186.7 432.7h0M208.3 443.8h0M195.6 448.4h0M184.2 434.1h0M198.0 432.2h0M195.3 439.1h0M185.9 435.9h0M205.7 430.7h0M190.0 431.1h0M193.9 445.9h0M208.6 432.4h0M191.5 439.9h0M198.8 442.0h0M194.0 433.2h0M203.1 437.6h0M188.1 438.0h0M209.9 439.7h0M206.6 443.0h0M209.1 442.9h0M191.2 436.4h0M199.8 440.9h0M194.4 437.5h0M196.1 438.6h0M209.5 443.3h0M186.5 433.4h0M197.5 440.1h0M208.2 432.5h0M199.0 431.5h0M194.1 430.8h0M187.9 436.5h0M205.2 437.5h0M192.9 442.8h0M209.5 440.8h0M195.3 444.1h0M198.4 437.3h0M187.3 434.3h0M208.4 446.4h0M204.4 443.5h0M204.2 438.5h0M184.2 442.8h0M193.7 440.3h0M193.4 439.7h0"/>
<path stroke="#8c0da1" d="M175.5 447.1h0M178.6 423.7h0M176.0 442.8h0M180.5 436.7h0M177.6 427.5h0M178.8 431.1h0M182.2 427.2h0M180.6 439.6h0M180.3 442.5h0M179.7 432.6h0M176.5 420.1h0M178.4 422.0h0M181.9 441.6h0M178.6 436.6h0M178.6 427.6h0M177.3 424.9h0M180.0 435.9h0M180.4 440.0h0M179.2 447.0h0M180.2 452.1h0M182.3 450.7h0M182.8 422.0h0M182.4 433.2h0M182.3 435.8h0M182.8 430.4h0M179.5 427.9h0M196.6 451.5h0M200.3 450.5h0M194.5 438.5h0M194.3 442.6h0M203.7 440.8h0M204.8 437.0h0M198.6 447.0h0M186.1 446.9h0M209.7 443.3h0M210.2 443.1h0M208.0 443.0h0M198.4 437.9h0M206.5 442.8h0M190.1 448.6h0M185.8 452.8h0M212.0 452.7h0M193.7 445.9h0M211.3 444.7h0M190.2 437.1h0M203.3 450.6h0M207.6 453.2h0M196.9 448.7h0M189.5 435.8h0M186.1 447.9h0M190.8 443.6h0M199.2 447.8h0M186.8 440.9h0M186.7 446.2h0M187.0 446.2h0M205.6 443.6h0M191.5 451.8h0M211.6 448.5h0M186.8 437.1h0M185.8 439.7h0M195.0 450.6h0M190.7 451.0h0M191.1 444.4h0M199.8 443.7h0M184.0 440.6h0M184.1 441.3h0M213.1 456.4h0M211.2 443.9h0M194.8 450.4h0M191.0 446.6h0M207.5 437.6h0M194.4 444.1h0M212.2 451.5h0M193.2 443.4h0M185.7 443.3h0M208.5 446.9h0M207.7 439.8h0M206.8 448.6h0M193.9 441.9h0M207.5 444.8h0M195.8 451.2h0M190.9 448.5h0M194.7 438.9h0M189.7 443.9h0M193.0 439.2h0M204.8 437.5h0M208.6 446.6h0"/>
<path stroke="#9a179b" d="M176.0 420.7h0M175.4 436.8h0M173.8 444.5h0M175.0 433.7h0M177.7 429.2h0M175.6 453.0h0M178.4 448.5h0M175.9 450.8h0M173.9 444.9h0M172.3 442.7h0M174.7 437.4h0M177.5 418.8h0M173.8 445.1h0M175.5 446.9h0M173.0 437.1h0M179.6 423.6h0M174.7 418.3h0M172.4 420.2h0M180.8 420.1h0M172.3 434.5h0M177.7 421.1h0M177.5 430.4h0M176.9 433.9h0M180.3 452.5h0M175.5 426.3h0M177.2 449.7h0M177.8 436.9h0M173.1 423.3h0M177.8 444.8h0M174.8 443.5h0M178.1 425.3h0M173.0 421.3h0M176.3 419.2h0M180.7 440.3h0M179.5 441.4h0M180.7 433.6h0M176.6 434.8h0M173.0 439.4h0M176.2 438.0h0M176.1 423.5h0M173.2 436.9h0M174.4 432.5h0M176.3 428.5h0M177.3 436.2h0M174.0 438.9h0M175.7 429.4h0M173.2 418.4h0M178.6 440.9h0M187.3 446.6h0M202.2 451.2h0M189.8 449.4h0M194.9 447.2h0M206.5 456.5h0M207.1 447.8h0M206.0 448.9h0M189.4 455.3h0M193.4 447.7h0M200.5 459.2h0M197.5 464.1h0M208.4 455.3h0M198.0 450.9h0M211.2 458.0h0M207.8 443.2h0M204.3 450.5h0M208.2 443.9h0M199.5 455.5h0M200.3 447.7h0M204.7 447.9h0M201.9 452.3h0M203.8 450.2h0M193.4 445.9h0M197.9 449.9h0M210.8 458.4h0M193.5 454.5h0M213.0 461.2h0M199.0 460.2h0M192.6 456.8h0M198.3 447.5h0M204.6 457.4h0M205.2 445.5h0M212.0 463.1h0M202.9 454.6h0M188.5 449.8h0M194.7 455.4h0M203.0 455.2h0M189.5 453.9h0M200.5 459.2h0M192.5 454.7h0M196.2 459.7h0M204.2 462.7h0M201.0 454.4h0M206.4 455.1h0M192.2 444.8h0M198.6 453.1h0M210.4 455.5h0M195.0 455.2h0M192.0 447.9h0M192.4 452.9h0M211.9 456.8h0M187.1 456.6h0M200.2 451.3h0M205.7 450.1h0M195.1 451.9h0M196.7 458.4h0M190.3 453.6h0M191.3 464.2h0M190.6 449.6h0M195.6 453.9h0"/>
<path stroke="#a82195" d="M172.1 419.4h0M168.0 430.6h0M175.2 422.0h0M174.6 441.6h0M175.6 445.0h0M168.8 423.7h0M167.6 448.3h0M176.8 426.4h0M171.4 452.4h0M174.3 454.1h0M172.7 443.3h0M174.6 438.9h0M175.2 439.1h0M172.8 436.2h0M175.3 421.4h0M173.2 434.2h0M175.0 438.2h0M172.8 435.4h0M172.9 442.6h0M176.1 450.0h0M173.2 445.2h0M174.5 454.3h0M172.7 447.4h0M170.6 429.4h0M170.8 454.8h0M168.9 455.5h0M171.8 439.3h0M176.6 435.3h0M172.3 447.1h0M173.0 419.8h0M171.1 448.4h0M168.4 430.7h0M173.7 444.6h0M171.9 442.3h0M175.4 429.0h0M173.7 451.4h0M173.3 431.8h0M170.9 449.3h0M175.3 426.6h0M174.7 437.6h0M175.9 429.6h0M170.4 425.5h0M168.7 422.3h0M174.0 448.1h0M172.6 447.5h0M212.7 462.0h0M192.1 455.8h0M206.4 464.0h0M190.8 463.1h0M205.5 463.7h0M209.2 466.9h0M190.9 454.9h0M212.7 459.2h0M212.1 470.8h0M205.0 460.5h0M191.8 466.5h0M206.0 462.6h0M212.2 453.4h0M215.6 469.6h0M203.6 456.8h0M198.6 468.2h0M199.2 455.7h0M203.5 459.8h0M211.6 469.5h0M206.2 464.6h0M193.8 463.9h0M208.6 467.9h0M209.8 461.1h0M208.4 461.1h0M205.1 466.6h0M211.1 465.2h0M205.0 465.6h0M208.1 458.3h0M212.7 463.1h0M191.7 463.9h0M195.6 457.5h0M215.8 470.3h0M208.0 465.1h0M200.3 460.7h0M206.9 459.8h0M199.4 463.6h0M206.1 465.5h0M210.5 468.0h0M191.6 457.8h0M198.1 461.2h0M206.3 465.3h0M204.0 463.5h0M189.6 461.5h0M193.2 458.0h0M201.7 465.1h0M192.0 461.4h0M200.2 451.0h0M209.5 470.3h0M208.5 466.0h0M210.0 467.3h0M191.8 461.6h0M201.4 454.3h0M197.4 464.3h0M213.1 465.9h0M209.2 452.5h0M199.9 456.2h0M209.7 466.1h0M203.8 463.2h0M211.6 456.4h0M202.5 456.6h0M190.0 457.0h0M201.4 471.8h0M212.8 459.4h0M201.5 454.2h0M202.0 459.5h0M211.9 462.0h0M212.4 457.8h0M200.5 461.1h0M209.5 467.5h0M197.9 458.6h0M193.3 460.7h0M200.2 466.5h0M201.6 466.1h0M198.2 460.2h0M210.0 452.4h0"/>
<path stroke="#b42e8c" d="M171.3 434.0h0M167.6 415.8h0M165.5 435.8h0M172.5 419.3h0M173.5 424.6h0M168.7 450.6h0M162.5 447.5h0M164.5 445.4h0M171.1 419.0h0M165.2 438.5h0M167.4 449.5h0M170.6 441.4h0M168.8 447.6h0M168.3 452.8h0M165.8 414.3h0M167.6 448.9h0M165.4 441.5h0M168.5 429.2h0M168.7 438.7h0M165.0 422.8h0M167.7 452.4h0M165.3 457.3h0M172.6 429.7h0M168.1 441.6h0M169.5 421.7h0M169.4 443.4h0M168.4 421.5h0M169.5 441.1h0M168.3 456.4h0M165.9 441.9h0M168.4 427.1h0M173.3 432.9h0M165.9 433.6h0M168.8 431.9h0M168.1 416.6h0M170.0 426.7h0M170.1 419.4h0M166.6 420.5h0M168.0 444.2h0M166.7 415.5h0M168.3 428.1h0M170.2 434.4h0M170.2 453.4h0M165.0 437.1h0M172.2 429.8h0M168.9 434.8h0M168.0 435.8h0M166.5 440.7h0M168.8 447.8h0M169.0 449.8h0M166.7 432.8h0M165.9 426.5h0M166.6 423.1h0M165.4 424.3h0M168.5 420.0h0M167.4 433.4h0M167.8 436.2h0M164.3 441.1h0M166.5 454.3h0M196.5 473.1h0M215.8 467.0h0M205.9 467.0h0M190.8 459.2h0M209.0 469.7h0M215.6 473.2h0M209.6 464.2h0M205.3 471.5h0M212.1 466.8h0M216.7 473.0h0M200.6 474.1h0M213.5 466.5h0M213.8 476.5h0M192.9 460.9h0M202.4 474.4h0M216.8 468.0h0M201.6 466.4h0M211.6 464.2h0M198.0 463.2h0M204.2 466.2h0M197.4 469.9h0M195.3 465.6h0M212.3 463.0h0M208.3 471.7h0M213.5 471.3h0M212.4 467.7h0M195.3 466.9h0M204.5 463.1h0M207.2 468.8h0M214.6 476.2h0M196.1 467.1h0M217.4 474.8h0M203.4 471.3h0M190.5 464.5h0M190.9 460.4h0M219.0 475.3h0M195.5 468.6h0M192.9 462.6h0M219.4 475.0h0M210.8 474.3h0M202.6 466.6h0M201.4 473.9h0M210.1 464.9h0M195.4 462.7h0M197.2 461.1h0M198.3 477.4h0M190.6 461.8h0M200.7 467.8h0M194.9 466.7h0M195.8 471.6h0M212.0 471.1h0M213.2 462.1h0"/>
<path stroke="#c03a82" d="M164.8 415.4h0M167.3 435.1h0M163.3 443.8h0M164.8 445.3h0M164.3 460.0h0M167.7 416.4h0M162.2 459.9h0M167.3 446.6h0M165.6 459.1h0M164.0 441.1h0M160.6 444.7h0M160.5 459.8h0M160.4 452.4h0M166.7 443.7h0M166.5 427.2h0M166.8 428.2h0M165.3 436.8h0M163.5 419.0h0M167.2 421.4h0M163.5 446.1h0M159.8 434.4h0M162.7 446.3h0M164.4 460.0h0M162.1 446.3h0M162.7 445.3h0M165.9 454.1h0M165.8 430.4h0M166.4 432.6h0M158.4 429.7h0M166.1 442.1h0M161.9 444.9h0M161.0 443.3h0M159.9 459.3h0M159.7 438.4h0M167.0 430.7h0M160.2 456.1h0M162.5 426.9h0M163.6 448.0h0M162.5 428.1h0M159.7 436.3h0M165.3 421.6h0M160.6 460.5h0M168.1 431.0h0M160.7 430.1h0M166.7 426.8h0M161.9 438.2h0M170.4 418.1h0M162.7 448.4h0M162.3 454.1h0M166.8 454.0h0M215.6 486.3h0M217.5 476.3h0M207.3 478.0h0M204.1 478.4h0M205.4 485.1h0M196.1 472.3h0M223.0 485.3h0M199.6 483.9h0M202.5 483.7h0M220.0 482.4h0M199.2 468.8h0M211.0 473.6h0M213.6 486.9h0M216.5 476.2h0M205.7 484.1h0M197.9 474.4h0M197.3 478.1h0M191.8 467.1h0M199.4 476.5h0M209.3 470.1h0M203.9 479.9h0M210.1 480.4h0M195.6 470.1h0M213.1 476.4h0M218.5 479.8h0M209.2 480.7h0M208.3 467.4h0M210.3 468.6h0M207.6 475.9h0M198.2 473.1h0M211.5 473.9h0M195.2 472.6h0M204.1 479.3h0M222.4 482.2h0M195.9 468.3h0M205.0 468.5h0M196.2 474.3h0M200.9 484.9h0M203.7 478.0h0M207.7 475.5h0M220.6 479.0h0M201.6 470.0h0M204.0 476.5h0M213.2 477.4h0M207.9 473.5h0M205.7 471.6h0M218.4 474.3h0M212.7 481.2h0M221.5 484.5h0M211.1 478.0h0M210.2 487.6h0M215.1 483.9h0M197.2 474.9h0M202.7 478.2h0M201.7 478.8h0M210.9 472.4h0M197.8 477.4h0M200.2 476.5h0"/>
<path stroke="#cc4778" d="M162.9 430.5h0M161.7 448.6h0M160.0 445.7h0M161.5 432.8h0M159.8 443.4h0M161.6 425.6h0M156.0 443.8h0M163.2 457.5h0M158.1 448.9h0M160.3 452.7h0M164.1 441.3h0M164.0 417.4h0M160.2 431.9h0M164.0 452.7h0M157.6 442.3h0M155.7 442.6h0M158.6 459.4h0M158.1 444.3h0M164.3 434.4h0M154.6 460.8h0M159.9 440.1h0M158.3 443.5h0M153.4 442.6h0M162.9 426.1h0M162.1 443.0h0M164.2 441.2h0M159.3 449.0h0M164.6 415.7h0M159.7 430.3h0M163.0 437.5h0M156.9 460.2h0M156.9 456.5h0M161.0 430.7h0M159.2 450.8h0M160.4 430.0h0M161.9 454.5h0M156.8 432.2h0M156.7 441.0h0M162.6 459.9h0M163.0 431.5h0M157.5 442.1h0M164.0 438.6h0M157.4 439.1h0M154.5 443.4h0M158.2 435.0h0M159.5 456.5h0M157.7 462.3h0M157.2 450.1h0M159.7 439.6h0M160.2 428.5h0M161.6 452.5h0M160.4 433.7h0M161.0 455.2h0M162.9 445.2h0M153.9 443.2h0M162.1 442.0h0M161.5 440.3h0M159.5 451.8h0M165.5 423.6h0M160.1 442.0h0M162.8 427.1h0M208.3 485.5h0M210.5 493.8h0M214.4 478.6h0M213.9 482.8h0M206.4 493.4h0M215.7 482.8h0M214.6 483.2h0M202.4 482.8h0M221.0 491.7h0M202.1 481.9h0M220.4 489.6h0M217.6 481.0h0M211.3 485.5h0M215.3 484.3h0M206.3 481.2h0M209.0 480.2h0M215.8 479.9h0M209.6 476.5h0M202.1 479.4h0M220.1 484.8h0M207.3 487.6h0M198.4 480.9h0M215.3 487.6h0M208.6 490.7h0M216.4 481.0h0M205.1 481.8h0M199.5 480.5h0M217.6 481.2h0M199.2 476.1h0M215.1 488.5h0M220.5 485.6h0M220.0 485.0h0M197.4 479.1h0M200.5 481.4h0M222.8 488.8h0M220.5 485.1h0M207.6 493.3h0M221.2 485.1h0M218.6 492.6h0M206.8 485.2h0M210.9 477.2h0M216.1 477.7h0M224.0 492.2h0M195.8 475.8h0M218.4 495.1h0M204.0 488.0h0M199.0 478.1h0M198.3 479.8h0M214.9 491.4h0M208.5 481.5h0M219.4 489.4h0M202.4 481.7h0"/>
<path stroke="#d4526f" d="M158.7 446.7h0M158.9 431.2h0M156.5 443.5h0M158.4 438.1h0M154.8 438.1h0M152.5 460.8h0M151.9 443.0h0M156.4 458.5h0M158.5 458.6h0M153.7 439.0h0M159.7 430.6h0M153.2 442.0h0M153.0 456.3h0M151.1 437.4h0M155.6 449.2h0M161.0 437.0h0M157.4 439.3h0M150.6 436.3h0M153.8 450.1h0M153.7 461.4h0M155.4 460.6h0M155.5 443.7h0M149.2 441.2h0M149.8 457.6h0M153.6 461.5h0M150.6 438.7h0M156.6 430.8h0M159.8 460.5h0M156.7 433.0h0M160.5 442.0h0M152.8 456.2h0M151.6 437.5h0M159.4 448.3h0M153.4 465.3h0M157.3 453.4h0M152.8 442.1h0M153.2 435.5h0M155.1 438.9h0M152.6 465.6h0M151.8 444.2h0M153.7 458.3h0M157.3 435.9h0M215.1 493.3h0M210.3 487.4h0M206.8 489.9h0M219.8 495.4h0M222.4 495.4h0M215.1 491.5h0M219.2 490.7h0M221.3 493.2h0M207.2 486.6h0M210.2 484.0h0M223.7 488.3h0M213.7 493.6h0M223.5 491.5h0M213.6 489.7h0M205.6 491.4h0M220.7 494.0h0M224.4 490.4h0M219.6 495.2h0M220.0 490.1h0M215.8 490.4h0M220.2 489.8h0M215.9 490.4h0M215.6 495.2h0M219.9 491.4h0M224.5 497.5h0M215.2 493.8h0M219.9 489.1h0M210.6 497.1h0M220.7 493.1h0M218.4 488.2h0M218.8 488.0h0M215.5 498.2h0M215.9 497.0h0M219.1 487.6h0"/>
<path stroke="#dc5e66" d="M154.3 435.9h0M144.3 440.6h0M143.9 438.7h0M149.5 460.9h0M153.0 444.7h0M145.5 440.5h0M153.7 444.7h0M152.2 448.7h0M147.8 459.2h0M153.5 439.4h0M146.5 455.0h0M146.5 465.3h0M147.3 459.9h0M148.2 451.4h0M151.8 455.6h0M147.2 436.9h0M143.2 445.7h0M153.2 440.3h0M145.7 447.6h0M150.1 453.7h0M146.8 454.7h0M150.1 456.6h0M150.0 457.6h0M145.0 463.2h0M154.7 436.8h0M145.8 462.4h0M154.1 439.9h0M151.6 461.5h0M146.7 440.3h0M149.1 456.7h0M143.6 441.8h0M149.9 459.6h0M151.9 457.7h0M149.3 451.5h0M150.2 436.4h0M146.0 457.1h0M146.6 442.8h0M149.0 453.7h0M154.1 434.6h0M146.1 450.1h0M150.5 459.9h0M152.5 465.1h0M213.9 498.0h0M224.3 496.8h0M206.3 491.8h0M212.7 495.7h0M225.3 498.5h0M205.6 491.0h0M223.4 494.4h0M218.7 498.6h0M217.1 499.1h0M221.6 496.8h0M220.9 493.9h0M209.2 489.6h0M222.1 498.0h0M223.9 496.8h0M222.4 496.9h0M220.4 499.7h0M218.6 493.3h0M216.0 497.2h0M231.5 502.1h0"/>
<path stroke="#e4695e" d="M149.1 455.2h0M145.5 444.1h0M150.1 436.0h0M146.6 438.0h0M142.0 445.4h0M148.0 441.6h0M140.4 452.2h0M138.7 465.4h0M143.6 444.6h0M146.9 437.3h0M143.6 445.2h0M141.5 460.0h0M145.7 463.5h0M141.9 449.5h0M149.4 445.5h0M151.5 441.1h0M146.0 436.1h0M147.7 456.1h0M140.6 459.6h0M144.6 454.5h0M147.4 460.7h0M145.5 467.4h0M145.7 449.9h0M144.8 461.8h0M140.7 450.6h0M149.5 450.3h0M151.5 443.3h0M143.5 439.4h0M151.6 465.5h0M143.0 448.6h0M141.3 466.9h0M148.2 450.8h0M145.2 452.1h0M144.1 456.8h0M141.7 449.5h0M147.4 463.9h0M141.8 462.2h0M142.8 448.1h0M145.9 438.1h0M146.8 442.1h0M141.7 453.3h0M141.2 458.0h0M142.3 466.0h0M147.6 462.8h0M147.2 457.9h0M140.7 467.3h0M221.6 498.8h0M213.9 499.9h0M214.5 499.8h0M216.0 485.4h0M240.5 498.6h0M243.4 483.4h0M237.4 490.6h0M225.6 498.4h0M226.6 491.7h0M254.5 490.1h0M216.2 498.0h0M233.1 478.2h0M229.0 501.4h0M222.2 483.3h0M226.0 480.1h0M228.9 483.9h0M219.4 497.9h0M239.4 501.1h0M235.2 487.5h0M254.0 503.0h0M244.1 489.1h0M224.7 491.4h0M219.0 482.1h0M231.4 486.3h0M253.2 483.3h0M243.4 493.4h0"/>
<path stroke="#ea7754" d="M134.6 467.0h0M136.4 454.7h0M137.5 455.2h0M141.6 467.1h0M135.9 449.4h0M143.9 453.1h0M132.9 455.2h0M140.5 440.9h0M137.2 447.6h0M133.1 445.4h0M140.3 456.2h0M134.0 456.4h0M143.8 437.7h0M142.8 458.1h0M142.7 467.9h0M133.4 466.5h0M141.3 439.1h0M134.4 468.6h0M145.0 450.1h0M142.5 467.4h0M134.6 452.2h0M139.4 445.5h0M142.4 460.6h0M139.9 444.6h0M141.2 454.1h0M139.3 452.9h0M140.4 448.7h0M140.3 440.2h0M143.4 460.6h0M136.1 458.1h0M138.4 442.1h0M144.6 453.2h0M137.0 461.9h0M135.7 450.2h0M135.7 442.4h0M142.6 441.6h0M139.1 450.0h0M140.8 456.2h0M142.6 460.7h0M142.6 445.6h0M140.4 457.6h0M232.7 500.7h0M232.9 514.4h0M253.8 521.9h0M238.0 506.2h0M246.0 520.2h0M251.0 511.7h0M237.5 524.5h0M231.4 529.5h0M246.1 527.0h0M216.5 512.5h0M218.4 521.5h0M221.7 499.3h0M242.0 519.7h0M209.9 512.0h0M237.4 510.3h0M245.8 527.7h0M221.3 516.0h0M224.6 519.2h0M218.5 513.7h0M241.9 533.6h0M209.9 523.3h0M229.0 511.9h0M240.4 510.3h0M250.1 519.4h0M221.2 511.2h0M247.4 517.7h0M250.9 522.5h0M227.3 532.1h0M222.4 535.8h0M227.8 522.1h0M232.4 533.3h0M232.3 504.3h0M248.9 519.3h0M234.8 538.1h0M251.2 525.6h0M215.7 511.6h0M235.2 516.8h0M219.8 530.5h0M223.4 509.6h0M222.8 505.5h0M223.7 517.8h0M237.3 503.4h0M247.6 515.6h0M239.8 522.0h0M239.6 518.0h0M239.0 531.1h0M245.1 509.0h0M234.0 531.9h0M213.1 513.6h0M239.9 510.3h0M244.5 507.6h0M223.9 534.0h0M212.3 520.6h0M228.4 534.1h0M245.7 517.9h0M235.0 504.7h0M229.8 509.9h0M237.0 523.9h0M229.4 503.8h0M239.1 514.4h0M223.1 523.9h0M227.9 499.1h0M233.6 528.8h0M235.3 515.9h0M237.6 521.3h0M232.9 525.6h0M239.8 525.0h0M227.0 526.8h0M244.8 507.7h0M229.5 525.7h0M241.9 523.3h0M228.8 500.9h0M233.4 532.0h0M225.6 507.7h0M244.2 531.5h0M207.1 521.4h0M245.9 532.4h0M241.5 516.0h0M223.7 536.2h0M246.8 526.0h0M220.6 513.1h0M225.2 523.0h0M242.2 517.6h0M241.9 512.6h0M230.8 537.4h0M238.4 504.8h0M225.8 537.0h0M251.2 514.6h0M236.7 523.5h0M225.8 510.4h0M224.6 502.1h0M239.3 534.8h0M235.7 535.5h0M213.2 528.3h0M230.4 514.7h0M234.0 507.7h0M242.1 516.0h0M223.9 524.8h0M231.5 500.7h0M220.5 521.7h0M231.2 523.1h0M213.2 529.3h0M230.2 505.8h0M244.6 518.0h0M229.3 501.3h0M237.9 502.5h0M241.1 512.4h0M224.2 512.0h0M224.4 506.1h0M238.4 523.2h0M219.9 504.9h0M216.8 523.9h0M204.3 517.0h0M237.3 528.4h0M228.1 516.0h0M245.8 509.7h0M235.6 535.6h0M231.6 508.9h0M235.2 502.8h0M242.0 528.7h0M244.7 524.3h0M211.0 519.3h0M245.1 515.7h0M230.7 537.1h0M243.8 522.2h0M235.8 505.1h0M217.8 512.4h0M240.6 513.2h0M232.2 529.0h0M237.4 536.1h0M210.0 511.8h0M232.8 523.1h0M236.1 508.2h0M235.1 509.5h0M239.6 511.4h0M232.9 530.5h0M228.1 517.3h0M245.6 522.4h0M213.3 527.9h0M213.0 513.0h0M210.9 528.6h0M232.6 501.4h0M236.3 523.3h0M222.7 536.1h0M234.1 519.4h0M240.9 509.1h0M243.9 525.3h0M220.6 509.8h0M236.6 507.3h0M210.7 509.7h0M240.7 502.8h0M233.8 527.2h0M232.5 502.1h0M221.6 517.3h0M251.0 520.3h0M233.7 528.1h0M218.2 529.7h0M214.4 525.5h0M236.1 515.7h0M208.8 521.2h0M217.7 511.1h0M223.0 529.9h0M242.3 519.7h0M212.3 509.6h0M242.0 507.9h0M213.5 509.7h0M244.3 526.7h0M220.1 525.9h0M231.5 512.1h0M212.8 528.3h0M218.4 506.6h0M247.5 522.0h0M243.4 525.4h0M208.8 522.8h0M215.5 515.0h0M225.0 505.9h0M237.8 522.5h0M249.7 523.9h0M252.6 513.6h0M248.4 516.0h0M248.6 510.4h0M224.4 534.9h0M225.4 514.7h0M226.5 525.7h0M251.6 516.7h0M229.4 529.3h0M235.5 531.1h0M215.5 508.5h0M232.2 508.6h0M231.8 505.3h0M237.7 514.6h0M224.9 513.7h0M245.5 524.0h0M240.9 528.4h0M224.7 532.0h0M213.9 516.2h0M247.0 518.2h0M237.0 520.5h0M222.7 531.4h0M218.8 516.4h0M234.1 513.5h0M221.5 508.4h0M239.9 503.3h0M220.9 520.2h0M239.3 525.6h0M217.0 533.3h0M225.7 511.8h0M229.0 504.1h0M236.1 519.0h0M235.6 535.3h0M228.5 535.8h0M241.8 506.1h0M238.5 530.3h0M215.7 518.5h0M214.4 523.1h0M239.0 513.4h0M243.1 528.0h0M217.3 505.5h0M227.2 511.8h0M248.3 506.4h0M213.6 519.1h0M240.8 526.9h0M231.0 501.9h0M222.1 517.3h0M233.8 522.0h0M210.7 527.8h0M225.5 523.5h0M214.9 518.3h0M208.0 518.5h0M214.1 520.5h0M229.4 532.1h0M215.6 526.2h0M225.7 503.1h0M228.7 528.4h0M226.2 515.0h0M250.2 528.3h0M240.0 504.5h0M244.2 519.7h0M215.3 521.3h0M233.9 525.4h0M243.0 536.7h0M228.7 507.4h0M244.4 513.0h0M223.6 530.1h0M249.5 509.9h0M217.2 504.8h0M229.5 518.5h0M254.1 490.3h0M236.8 495.1h0M227.6 482.6h0M217.3 478.9h0M222.4 503.0h0M222.6 488.8h0M230.1 479.6h0M218.2 501.0h0M241.5 502.5h0M240.7 495.1h0M222.8 488.0h0M247.6 493.3h0M222.7 487.1h0M234.4 490.1h0M232.8 481.9h0M249.5 502.5h0M254.5 502.8h0M219.6 487.0h0M243.2 498.7h0M237.8 482.4h0M221.9 502.3h0M228.2 500.3h0M246.9 499.8h0M252.3 494.3h0M237.7 501.0h0"/>
<path stroke="#f1864a" d="M139.3 460.4h0M130.7 451.0h0M129.8 447.8h0M139.0 466.1h0M137.3 465.2h0M126.2 458.3h0M134.0 453.7h0M129.1 463.7h0M126.0 456.5h0M130.6 457.2h0M130.3 458.3h0M129.2 464.7h0M138.6 456.4h0M132.9 444.7h0M132.5 462.9h0M130.4 456.3h0M131.5 460.2h0M133.6 453.9h0M133.5 464.3h0M135.5 468.5h0M133.6 454.8h0M131.0 453.0h0M135.6 447.7h0M138.3 454.6h0M139.1 440.8h0M134.3 456.4h0M132.5 467.1h0M131.1 446.0h0M133.2 459.2h0M132.2 465.0h0M137.0 453.6h0M132.9 461.2h0M134.4 444.5h0M126.7 463.5h0M134.0 467.6h0M136.1 460.7h0M128.3 453.1h0M134.9 449.4h0M136.4 466.3h0M133.7 449.6h0M137.0 465.4h0M126.2 465.3h0M138.3 453.7h0M130.8 460.0h0M138.3 452.5h0M137.0 450.5h0M131.9 464.4h0M127.0 451.9h0M134.6 444.5h0M131.3 450.1h0M130.7 449.6h0M254.4 512.9h0M216.3 513.5h0M249.0 529.2h0M239.0 517.9h0M232.4 502.0h0M223.0 511.4h0M233.1 512.9h0M215.9 528.0h0M244.5 516.6h0M221.0 531.8h0M214.5 507.3h0M222.9 522.4h0M243.4 513.5h0M246.8 509.1h0M231.3 513.3h0M212.2 508.5h0M234.3 510.7h0M226.4 518.0h0M224.9 514.0h0M216.3 521.6h0M235.3 536.1h0M211.3 522.5h0M251.7 513.8h0M230.1 508.7h0M251.8 515.0h0M240.6 532.6h0M229.6 518.4h0M234.1 510.6h0M249.1 520.7h0M247.4 508.4h0M209.3 518.8h0M211.7 513.1h0M209.8 519.4h0M222.4 535.3h0M245.4 533.3h0M212.5 529.5h0M252.1 521.2h0M244.5 519.2h0M240.9 509.7h0M241.7 519.0h0M224.1 531.8h0M218.9 505.5h0M226.2 512.0h0M225.1 528.1h0M234.9 509.1h0M228.1 514.6h0M238.3 519.3h0M231.2 528.2h0M234.7 519.8h0M250.3 528.9h0M215.2 532.1h0M218.7 505.0h0M213.1 518.0h0M252.9 522.1h0M225.5 501.7h0M238.7 503.7h0M241.7 519.7h0M250.5 520.2h0M225.9 536.4h0M217.1 510.5h0M231.1 502.7h0M246.5 513.2h0M236.1 516.1h0M237.0 531.0h0M244.5 525.1h0M248.2 516.9h0M243.0 514.9h0M242.7 527.2h0M222.8 517.6h0M240.5 535.7h0M217.0 531.6h0M230.5 513.1h0M246.3 502.3h0M221.0 526.3h0M221.0 514.4h0M212.4 518.5h0M253.4 524.6h0M215.2 530.0h0M244.1 509.0h0M232.2 532.8h0M231.8 518.7h0M232.3 511.6h0M230.0 505.6h0M224.3 510.6h0M235.0 523.9h0M232.3 512.5h0M221.4 515.9h0M216.6 531.5h0M234.8 526.3h0M220.8 525.9h0M227.0 535.6h0M213.3 532.8h0M220.6 528.2h0M244.8 529.3h0M211.6 517.4h0M226.2 507.6h0M244.3 530.2h0M218.1 532.6h0M242.3 521.3h0M225.6 503.9h0M214.2 532.0h0M226.1 511.7h0M239.6 528.5h0M221.3 530.6h0M213.2 506.7h0M230.4 512.5h0M230.4 536.4h0M216.7 528.7h0M218.8 509.9h0M241.8 531.6h0M228.9 522.4h0M237.0 521.4h0M215.1 514.3h0M241.1 514.4h0M238.0 539.3h0M221.3 535.5h0M246.9 517.2h0M221.0 504.3h0M231.1 512.9h0M223.6 507.6h0M228.4 510.2h0M233.5 533.3h0M232.1 502.1h0M233.1 526.5h0M246.0 513.3h0M210.1 515.4h0M236.0 514.1h0M238.1 528.4h0M232.8 522.2h0M232.6 506.3h0M235.2 508.6h0M227.5 498.7h0M242.9 507.1h0M208.3 517.4h0M216.9 523.9h0M223.2 515.8h0M231.9 511.2h0M246.3 520.8h0M223.1 529.0h0M224.7 536.4h0M238.2 529.7h0M254.3 516.2h0M227.8 530.4h0M219.1 503.8h0M232.7 520.8h0M229.9 503.2h0M251.9 524.2h0M239.7 502.8h0M218.0 518.1h0M239.0 510.7h0M225.1 525.3h0M224.5 524.1h0M212.7 504.2h0M241.2 506.0h0M236.2 517.4h0M235.9 524.7h0M213.3 516.6h0M244.8 526.9h0M252.4 510.4h0M215.5 526.5h0M238.4 529.6h0M227.4 503.6h0M225.2 509.3h0M228.1 533.5h0M211.9 527.7h0M240.9 530.9h0M231.1 537.1h0M220.3 517.3h0M208.2 524.0h0M250.3 533.0h0M249.1 511.0h0M245.6 529.0h0M252.1 525.8h0M236.3 518.5h0M253.2 519.1h0M222.4 533.5h0M243.7 516.7h0M223.6 510.0h0M220.6 530.7h0M220.3 515.1h0M237.8 522.8h0M223.4 518.5h0M218.4 512.6h0M228.4 536.1h0M236.7 536.3h0M215.5 529.7h0M239.5 525.2h0M216.7 531.1h0M233.9 539.2h0M217.6 515.8h0M218.6 505.1h0M236.0 513.4h0M222.8 500.3h0M249.5 513.2h0M218.0 531.6h0M218.4 513.4h0M245.8 525.0h0M232.0 518.4h0M231.7 537.0h0M219.6 523.7h0M220.4 529.1h0M231.7 533.6h0M254.6 518.4h0M226.7 508.7h0M241.0 535.1h0M236.3 533.8h0M238.1 535.1h0M240.0 526.9h0M220.8 506.3h0M232.1 531.1h0M247.5 523.6h0M209.9 523.8h0M232.1 532.1h0M246.0 528.8h0M252.0 514.0h0M210.3 522.5h0M249.2 516.3h0M242.4 517.0h0M220.1 518.2h0M236.9 521.1h0M242.5 508.6h0M214.8 509.4h0M226.4 521.2h0M225.3 508.2h0M241.3 508.6h0M233.4 533.0h0M218.2 525.8h0M231.3 503.7h0M245.5 525.1h0M231.2 514.3h0M237.9 512.7h0M245.8 533.6h0M219.7 524.1h0M237.4 511.7h0M252.9 516.3h0M232.0 501.6h0M239.6 508.7h0M227.4 498.1h0M237.1 506.5h0M231.4 518.5h0M243.6 521.5h0M221.8 510.1h0M249.0 517.0h0M216.8 527.7h0M225.0 526.8h0M221.7 508.2h0M248.6 527.8h0M237.7 528.1h0M233.1 520.2h0M210.0 524.8h0M211.3 521.4h0M243.0 525.4h0M233.7 506.6h0M231.3 516.3h0M235.0 536.0h0M244.4 505.1h0M251.2 519.5h0M215.8 501.6h0M229.4 513.0h0M236.6 503.1h0M216.0 517.0h0M225.4 508.2h0M248.4 509.0h0M215.6 518.7h0M238.9 518.3h0M221.1 506.1h0M245.9 521.3h0M212.8 514.6h0M249.7 525.9h0M209.4 525.6h0M220.3 535.2h0M215.4 517.5h0M218.9 515.5h0M224.1 514.2h0M228.0 522.8h0M217.4 518.6h0M256.2 512.5h0M215.1 530.1h0M227.0 522.5h0M230.6 531.5h0M226.9 502.6h0M247.4 518.2h0M224.8 529.6h0M218.2 529.1h0M242.8 517.6h0M248.4 517.9h0M225.8 529.4h0M227.4 526.2h0M242.0 521.8h0M210.3 519.0h0M242.0 512.9h0M234.6 521.8h0M234.2 502.8h0M209.5 520.6h0M215.7 510.8h0M240.5 532.8h0M233.4 514.4h0M239.3 505.0h0M218.6 512.3h0M225.7 535.8h0M233.6 520.5h0M237.9 516.4h0M233.4 516.4h0M226.0 505.0h0M247.7 530.3h0M214.4 510.5h0M233.3 531.6h0M243.0 524.7h0M220.9 534.1h0M237.5 503.0h0M224.6 521.5h0M243.8 524.2h0M237.1 529.7h0M243.7 524.2h0M214.6 503.2h0M243.1 516.5h0M248.4 516.6h0M233.0 506.4h0M233.5 519.8h0M220.8 516.3h0M239.6 534.6h0M220.8 525.1h0M252.9 515.2h0M253.3 521.1h0M230.8 531.2h0M219.1 524.3h0M227.1 529.6h0M223.2 506.4h0M220.1 528.3h0M245.7 510.2h0M237.4 529.5h0M208.9 516.7h0M230.6 502.2h0M236.2 525.6h0M231.0 521.2h0M231.8 536.6h0M250.0 510.3h0M213.0 522.3h0M232.1 532.2h0M245.5 527.5h0M236.1 513.8h0M231.4 508.8h0M214.4 506.8h0M220.5 510.1h0M222.9 502.1h0M210.4 516.6h0M214.7 506.0h0M228.6 504.4h0M252.0 510.7h0M215.6 507.2h0M211.8 521.7h0M227.1 526.1h0M232.0 505.4h0M230.4 523.4h0M246.4 506.6h0M227.6 508.2h0M239.0 509.6h0M209.2 513.9h0M242.1 520.3h0M216.7 534.6h0M230.1 513.8h0M235.8 499.9h0M238.7 533.2h0M242.6 517.0h0M233.1 533.6h0M220.7 533.3h0M225.2 513.0h0M226.8 522.8h0M239.4 534.4h0M212.3 509.6h0M226.5 527.9h0M254.1 516.6h0M248.5 511.5h0M229.7 525.0h0M253.6 523.3h0M222.9 503.3h0M236.6 483.0h0M233.5 491.7h0M227.2 490.9h0M244.8 494.1h0M220.3 488.8h0M229.7 503.5h0M241.2 481.8h0M215.1 484.4h0M228.9 499.1h0M241.6 495.0h0M251.4 480.5h0M226.0 489.1h0M251.2 498.8h0M244.9 502.2h0M225.9 494.9h0M238.5 500.0h0M234.3 490.4h0M255.8 499.2h0M217.4 504.4h0M246.9 483.8h0M250.1 500.4h0M243.2 491.7h0M239.2 478.5h0M216.3 482.0h0"/>
<path stroke="#f89540" d="M120.4 455.1h0M124.2 454.9h0M127.1 464.3h0M125.8 450.2h0M118.5 462.8h0M120.7 453.4h0M123.9 464.5h0M124.6 459.7h0M127.5 455.5h0M128.2 467.5h0M124.5 452.3h0M123.4 463.8h0M122.4 467.0h0M119.8 461.9h0M126.4 461.7h0M122.2 454.2h0M122.1 467.6h0M122.5 468.2h0M131.2 460.5h0M121.0 464.5h0M121.0 454.5h0M131.3 460.4h0M118.7 459.8h0M129.0 451.8h0M128.4 454.6h0M134.2 458.1h0M127.8 468.0h0M121.9 461.7h0M118.5 461.8h0M129.8 456.7h0M119.5 458.7h0M130.4 455.4h0M128.1 452.7h0M121.3 460.9h0M207.8 515.4h0M242.6 526.7h0M233.9 502.2h0M247.9 507.3h0M228.5 509.3h0M236.8 530.6h0M236.1 505.0h0M224.6 507.8h0M253.2 520.4h0M223.4 511.6h0M210.3 511.4h0M209.8 519.4h0M226.6 515.6h0M240.1 514.2h0M239.0 527.9h0M229.0 504.8h0M244.5 519.3h0M239.5 517.9h0M241.2 525.6h0M245.7 514.0h0M241.8 519.9h0M230.6 524.5h0M241.3 524.9h0M236.0 516.0h0M235.1 533.3h0M240.3 529.7h0M250.9 517.4h0M231.6 513.6h0M222.5 521.8h0M228.0 515.9h0M240.9 510.7h0M240.4 522.3h0M228.8 517.0h0M229.0 507.3h0M223.0 519.7h0M218.5 504.1h0M243.6 511.4h0M225.7 515.4h0M226.1 526.1h0M225.9 515.0h0M231.0 513.2h0M210.4 512.0h0M227.7 510.0h0M209.6 526.4h0M252.0 516.0h0M244.7 506.5h0M213.8 518.4h0M231.5 533.8h0M225.1 525.4h0M212.6 530.7h0M215.0 504.9h0M237.7 513.1h0M233.9 531.3h0M231.0 503.9h0M245.7 525.9h0M233.5 513.4h0M214.1 508.1h0M225.8 523.9h0M217.4 528.6h0M233.0 533.4h0M218.7 518.7h0M212.4 517.1h0M236.3 520.2h0M227.9 512.9h0M219.7 516.9h0M226.9 508.1h0M244.8 528.2h0M226.2 524.7h0M249.2 513.9h0M252.6 524.2h0M215.5 522.8h0M226.7 501.9h0M245.1 529.5h0M224.0 511.5h0M222.5 505.7h0M219.0 514.1h0M227.2 513.9h0M226.9 510.7h0M215.7 508.8h0M213.8 529.1h0M215.1 526.7h0M229.9 528.9h0M211.3 525.1h0M245.6 511.7h0M230.2 507.2h0M218.2 519.4h0M209.5 518.7h0M243.1 508.4h0M214.3 510.0h0M236.3 521.6h0M244.6 504.8h0M233.9 512.6h0M248.7 511.2h0M238.2 503.2h0M241.6 530.5h0M221.1 519.9h0M237.6 508.0h0M221.4 523.4h0M218.5 531.3h0M224.3 502.9h0M210.3 512.1h0M240.3 509.1h0M237.6 528.8h0M228.9 525.1h0M235.8 515.8h0M226.9 525.6h0M229.6 522.4h0M226.4 515.8h0M227.2 508.1h0M221.9 535.8h0M235.7 523.3h0M227.5 503.7h0M249.9 505.5h0M236.1 528.4h0M228.3 502.4h0M232.9 527.5h0M238.1 523.7h0M231.4 513.5h0M214.2 527.4h0M223.3 528.7h0M224.8 529.1h0M217.3 525.4h0M232.6 528.4h0M234.4 525.4h0M229.9 531.8h0M219.4 508.8h0M234.4 525.5h0M243.3 532.2h0M225.9 528.0h0M231.6 533.1h0M213.0 527.7h0M226.6 505.1h0M230.1 528.4h0M240.8 526.2h0M237.9 515.5h0M229.5 533.8h0M216.0 510.5h0M230.9 507.1h0M222.1 516.0h0M251.4 524.6h0M230.5 514.5h0M240.1 521.3h0M246.9 506.4h0M248.0 526.6h0M242.3 525.9h0M250.4 516.5h0M217.9 525.4h0M245.5 506.5h0M227.1 528.4h0M247.1 524.6h0M219.7 513.6h0M251.6 524.1h0M226.3 521.3h0M246.2 524.9h0M238.1 533.7h0M244.1 533.9h0M210.9 524.8h0M244.0 520.6h0M241.9 505.5h0M235.0 503.8h0M243.2 531.1h0M252.7 515.6h0M240.6 528.0h0M247.5 529.2h0M238.7 526.6h0M251.3 521.1h0M217.3 522.5h0M226.9 534.2h0M238.6 517.7h0M247.1 521.7h0M216.8 516.1h0M238.3 510.7h0M247.7 514.9h0M243.1 533.2h0M223.3 515.7h0M209.1 512.7h0M246.4 515.9h0M223.7 535.5h0M236.7 485.6h0M228.9 484.9h0M240.2 496.9h0M249.4 499.4h0M254.8 499.1h0M217.0 501.9h0M234.8 498.1h0M245.5 503.8h0M241.4 502.1h0M217.6 497.1h0M254.5 493.9h0M230.0 482.0h0M238.7 488.5h0M232.9 493.0h0M222.8 487.1h0M223.8 503.5h0M228.5 490.8h0M215.0 487.0h0M242.8 496.1h0"/>
<path stroke="#f9a338" d="M126.8 459.3h0M123.4 454.3h0M121.6 460.1h0M127.1 465.2h0M127.7 459.2h0M122.5 465.5h0M124.2 465.9h0M121.9 452.6h0M123.5 467.2h0M120.4 463.2h0M125.7 452.9h0M123.1 453.4h0M122.7 460.5h0M125.5 457.8h0M124.1 457.2h0M123.1 457.3h0M125.1 450.1h0M125.3 450.3h0M124.6 466.1h0M124.5 464.1h0M122.9 456.5h0M220.6 478.4h0M221.2 492.1h0M243.1 499.8h0M244.6 479.0h0M251.1 491.5h0M227.0 485.8h0M237.5 487.7h0M214.7 495.0h0M240.4 483.6h0M239.9 490.1h0M254.6 504.5h0M243.1 480.4h0M242.1 501.7h0M214.1 478.6h0M256.4 498.1h0M231.4 496.9h0M254.7 493.9h0M232.1 493.7h0M234.8 491.4h0M244.7 487.8h0M238.4 479.5h0"/>
<path stroke="#fbb230" d="M256.1 479.1h0M234.3 478.1h0M216.0 504.3h0M242.0 479.1h0M214.7 488.6h0M234.8 498.4h0"/>
<path stroke="#f4e623" d="M242.8 472.5h0M243.3 473.7h0M247.8 475.9h0M239.1 469.4h0M240.8 468.1h0M245.2 476.1h0M238.6 468.4h0M247.2 475.8h0M248.0 474.5h0M244.1 471.9h0M243.4 470.1h0M239.7 471.9h0M239.2 470.3h0M242.5 473.2h0M246.4 474.0h0M244.7 469.8h0M242.5 469.0h0M241.9 469.9h0M238.9 468.0h0M237.5 468.4h0M246.7 474.0h0M241.6 473.5h0M244.6 474.8h0M247.9 473.4h0M244.4 471.7h0M236.7 469.0h0M242.4 471.7h0M237.7 469.5h0M239.7 471.4h0M236.6 471.6h0M245.4 475.0h0M246.9 473.9h0M245.6 474.2h0M238.1 471.2h0M247.3 472.6h0M238.9 472.0h0M237.1 469.0h0M243.0 471.3h0M243.7 472.6h0M244.8 470.5h0M243.9 475.3h0M244.5 473.3h0M239.9 466.6h0M240.2 473.8h0M236.7 467.3h0"/>
</g>
<g fill="none" stroke="#111" stroke-width="1.1">
<path d="M181.8,405.7 C188,403 196,406 199.8,414.7"/>
<path d="M187.5,408 C190,418 186,430 172,442 C160,452 145,458 131.5,462"/>
<path d="M189,411 C200,440 220,480 238.5,525"/>
</g>
<path d="M129,463 L135.5,458.5 L135.8,464.2Z" fill="#111"/>
<path d="M239.5,528 L235.8,521.8 L241.2,520.5Z" fill="#111"/>
<defs><linearGradient id="plas" x1="0" y1="1" x2="0" y2="0">
<stop offset="0.000" stop-color="#0d0887"/>
<stop offset="0.125" stop-color="#4803a0"/>
<stop offset="0.250" stop-color="#7e03a8"/>
<stop offset="0.375" stop-color="#a82195"/>
<stop offset="0.500" stop-color="#cc4778"/>
<stop offset="0.625" stop-color="#e4695e"/>
<stop offset="0.750" stop-color="#f89540"/>
<stop offset="0.875" stop-color="#fcc128"/>
<stop offset="1.000" stop-color="#f0f921"/>
</linearGradient></defs>
<rect x="128.4" y="490.2" width="6.2" height="38.4" fill="url(#plas)"/>
<g font-family="Liberation Sans, sans-serif" font-size="3.2" fill="#666">
<text x="138" y="491.8">1.00</text>
<text x="138" y="501.1">0.75</text>
<text x="138" y="510.4">0.50</text>
<text x="138" y="519.7">0.25</text>
<text x="138" y="529.0">0.00</text>
</g>
<defs>
<filter id="hw1" x="0" y="0" width="100%" height="100%">
 <feTurbulence type="fractalNoise" baseFrequency="0.42" numOctaves="2" seed="8" result="n"/>
 <feColorMatrix in="n" type="matrix" values="0 0 0 0 1  0 0 0 0 0.97  0 0 0 0 1  -3.2 0 0 0 1.95" result="spots"/>
 <feComposite in="spots" in2="SourceGraphic" operator="in"/>
</filter>
<filter id="hp1" x="0" y="0" width="100%" height="100%">
 <feTurbulence type="fractalNoise" baseFrequency="0.3" numOctaves="2" seed="21" result="n"/>
 <feColorMatrix in="n" type="matrix" values="0 0 0 0 0.80  0 0 0 0 0.45  0 0 0 0 0.68  3 0 0 0 -1.35" result="spots"/>
 <feComposite in="spots" in2="SourceGraphic" operator="in"/>
</filter>
<filter id="soft" x="-20%" y="-20%" width="140%" height="140%">
 <feTurbulence type="fractalNoise" baseFrequency="0.18" numOctaves="3" seed="5" result="t"/>
 <feDisplacementMap in="SourceGraphic" in2="t" scale="14"/>
 <feGaussianBlur stdDeviation="0.7"/>
</filter>
<filter id="hw2" x="0" y="0" width="100%" height="100%">
 <feTurbulence type="fractalNoise" baseFrequency="0.3" numOctaves="3" seed="4" result="n"/>
 <feColorMatrix in="n" type="matrix" values="0 0 0 0 0.92  0 0 0 0 0.84  0 0 0 0 0.93  -6 0 0 0 3.2" result="spots"/>
 <feComposite in="spots" in2="SourceGraphic" operator="in"/>
</filter>
<filter id="hd2" x="0" y="0" width="100%" height="100%">
 <feTurbulence type="fractalNoise" baseFrequency="0.4" numOctaves="2" seed="14" result="n"/>
 <feColorMatrix in="n" type="matrix" values="0 0 0 0 0.55  0 0 0 0 0.34  0 0 0 0 0.66  5 0 0 0 -2.6" result="spots"/>
 <feComposite in="spots" in2="SourceGraphic" operator="in"/>
</filter>
<clipPath id="c1"><rect x="294.8" y="291.8" width="112.3" height="110.1"/></clipPath>
<clipPath id="c2"><rect x="294.8" y="427.3" width="113.3" height="110.5"/></clipPath>
</defs>
<g clip-path="url(#c1)">
<rect x="294.8" y="291.8" width="112.3" height="110.1" fill="#dba6cf"/>
<path d="M341.0,288.0 C347.7,286.1 370.1,285.7 380.0,286.0 C389.9,286.3 409.9,284.1 415.0,290.0 C420.1,295.9 417.6,320.0 418.0,330.0 C418.4,340.0 418.4,354.6 418.0,365.0 C417.6,375.4 424.7,402.3 415.0,408.0 C405.3,413.7 355.1,412.7 345.0,408.0 C334.9,403.3 341.8,380.5 339.0,373.0 C336.2,365.5 328.4,357.1 324.0,352.0 C319.6,346.9 308.8,339.0 306.0,335.0 C303.2,331.0 301.6,325.1 302.8,322.0 C304.0,318.9 311.4,314.9 315.0,312.0 C318.6,309.1 326.5,303.2 330.0,300.0 C333.5,296.8 334.3,289.9 341.0,288.0Z" fill="#e2bcd9" filter="url(#soft)"/>
<path d="M341.0,292.0 C343.9,292.0 352.4,296.3 352.0,300.0 C351.6,303.7 339.6,314.0 338.0,320.0 C336.4,326.0 338.1,338.3 340.0,345.0 C341.9,351.7 349.9,362.4 352.0,370.0 C354.1,377.6 356.9,397.7 356.0,402.0 C355.1,406.3 347.3,405.9 345.0,402.0 C342.7,398.1 341.8,379.7 339.0,373.0 C336.2,366.3 328.4,357.1 324.0,352.0 C319.6,346.9 308.8,339.0 306.0,335.0 C303.2,331.0 301.6,325.1 302.8,322.0 C304.0,318.9 311.4,314.9 315.0,312.0 C318.6,309.1 326.5,302.7 330.0,300.0 C333.5,297.3 338.1,292.0 341.0,292.0Z" fill="#e6c6df" filter="url(#soft)"/>
<path d="M341.0,288.0 C347.7,286.1 370.1,285.7 380.0,286.0 C389.9,286.3 409.9,284.1 415.0,290.0 C420.1,295.9 417.6,320.0 418.0,330.0 C418.4,340.0 418.4,354.6 418.0,365.0 C417.6,375.4 424.7,402.3 415.0,408.0 C405.3,413.7 355.1,412.7 345.0,408.0 C334.9,403.3 341.8,380.5 339.0,373.0 C336.2,365.5 328.4,357.1 324.0,352.0 C319.6,346.9 308.8,339.0 306.0,335.0 C303.2,331.0 301.6,325.1 302.8,322.0 C304.0,318.9 311.4,314.9 315.0,312.0 C318.6,309.1 326.5,303.2 330.0,300.0 C333.5,296.8 334.3,289.9 341.0,288.0Z" fill="#ffffff" filter="url(#hw1)" opacity="0.22"/>
<circle cx="334.8" cy="297.2" r="1.3" fill="#f4e4ee" opacity="0.6"/>
<circle cx="334.5" cy="293.0" r="0.7" fill="#f4e4ee" opacity="0.6"/>
<circle cx="334.3" cy="296.4" r="0.9" fill="#f4e4ee" opacity="0.6"/>
<circle cx="328.7" cy="299.1" r="0.7" fill="#f4e4ee" opacity="0.6"/>
<circle cx="341.1" cy="296.6" r="1.3" fill="#f4e4ee" opacity="0.6"/>
<circle cx="335.0" cy="294.7" r="1.2" fill="#f4e4ee" opacity="0.6"/>
<circle cx="338.7" cy="297.3" r="1.2" fill="#f4e4ee" opacity="0.6"/>
<circle cx="338.4" cy="297.0" r="0.8" fill="#f4e4ee" opacity="0.6"/>
<circle cx="338.6" cy="293.4" r="1.3" fill="#f4e4ee" opacity="0.6"/>
<circle cx="334.1" cy="300.0" r="1.0" fill="#f4e4ee" opacity="0.6"/>
<circle cx="334.9" cy="295.6" r="0.7" fill="#f4e4ee" opacity="0.6"/>
<circle cx="337.3" cy="299.4" r="1.3" fill="#f4e4ee" opacity="0.6"/>
<circle cx="340.0" cy="294.5" r="1.0" fill="#f4e4ee" opacity="0.6"/>
<circle cx="343.8" cy="294.6" r="1.3" fill="#f4e4ee" opacity="0.6"/>
<circle cx="320.3" cy="307.2" r="0.7" fill="#f4e4ee" opacity="0.6"/>
<circle cx="323.2" cy="310.0" r="1.4" fill="#f4e4ee" opacity="0.6"/>
<circle cx="325.3" cy="299.5" r="0.7" fill="#f4e4ee" opacity="0.6"/>
<circle cx="336.5" cy="302.9" r="0.7" fill="#f4e4ee" opacity="0.6"/>
<circle cx="321.5" cy="307.9" r="1.1" fill="#f4e4ee" opacity="0.6"/>
<circle cx="326.4" cy="303.3" r="1.1" fill="#f4e4ee" opacity="0.6"/>
<circle cx="320.7" cy="310.5" r="1.3" fill="#f4e4ee" opacity="0.6"/>
<circle cx="318.3" cy="307.8" r="1.4" fill="#f4e4ee" opacity="0.6"/>
<circle cx="326.7" cy="307.4" r="0.9" fill="#f4e4ee" opacity="0.6"/>
<circle cx="324.2" cy="307.8" r="0.9" fill="#f4e4ee" opacity="0.6"/>
<circle cx="327.7" cy="300.2" r="1.2" fill="#f4e4ee" opacity="0.6"/>
<circle cx="330.7" cy="295.9" r="1.0" fill="#f4e4ee" opacity="0.6"/>
<circle cx="319.4" cy="312.6" r="0.9" fill="#f4e4ee" opacity="0.6"/>
<circle cx="329.5" cy="302.2" r="0.9" fill="#f4e4ee" opacity="0.6"/>
<circle cx="301.6" cy="323.3" r="0.7" fill="#f4e4ee" opacity="0.6"/>
<circle cx="304.8" cy="321.2" r="1.4" fill="#f4e4ee" opacity="0.6"/>
<circle cx="321.2" cy="311.3" r="1.1" fill="#f4e4ee" opacity="0.6"/>
<circle cx="316.8" cy="312.8" r="0.9" fill="#f4e4ee" opacity="0.6"/>
<circle cx="310.4" cy="317.6" r="0.7" fill="#f4e4ee" opacity="0.6"/>
<circle cx="309.1" cy="318.4" r="1.0" fill="#f4e4ee" opacity="0.6"/>
<circle cx="309.7" cy="320.1" r="1.2" fill="#f4e4ee" opacity="0.6"/>
<circle cx="301.2" cy="323.1" r="0.7" fill="#f4e4ee" opacity="0.6"/>
<circle cx="307.3" cy="314.1" r="1.0" fill="#f4e4ee" opacity="0.6"/>
<circle cx="317.3" cy="313.9" r="0.7" fill="#f4e4ee" opacity="0.6"/>
<circle cx="312.0" cy="320.5" r="0.8" fill="#f4e4ee" opacity="0.6"/>
<circle cx="316.3" cy="314.6" r="1.0" fill="#f4e4ee" opacity="0.6"/>
<circle cx="311.9" cy="318.4" r="1.4" fill="#f4e4ee" opacity="0.6"/>
<circle cx="309.3" cy="317.1" r="1.4" fill="#f4e4ee" opacity="0.6"/>
<circle cx="302.2" cy="332.7" r="1.0" fill="#f4e4ee" opacity="0.6"/>
<circle cx="309.7" cy="335.3" r="1.0" fill="#f4e4ee" opacity="0.6"/>
<circle cx="303.1" cy="322.0" r="0.7" fill="#f4e4ee" opacity="0.6"/>
<circle cx="301.8" cy="331.9" r="1.1" fill="#f4e4ee" opacity="0.6"/>
<circle cx="300.8" cy="321.2" r="1.3" fill="#f4e4ee" opacity="0.6"/>
<circle cx="305.8" cy="321.4" r="1.1" fill="#f4e4ee" opacity="0.6"/>
<circle cx="309.6" cy="334.1" r="1.1" fill="#f4e4ee" opacity="0.6"/>
<circle cx="304.1" cy="331.3" r="0.8" fill="#f4e4ee" opacity="0.6"/>
<circle cx="305.3" cy="330.7" r="0.9" fill="#f4e4ee" opacity="0.6"/>
<circle cx="303.7" cy="328.0" r="1.2" fill="#f4e4ee" opacity="0.6"/>
<circle cx="304.1" cy="326.0" r="1.4" fill="#f4e4ee" opacity="0.6"/>
<circle cx="313.5" cy="328.6" r="1.3" fill="#f4e4ee" opacity="0.6"/>
<circle cx="302.1" cy="324.9" r="1.2" fill="#f4e4ee" opacity="0.6"/>
<circle cx="303.8" cy="325.7" r="0.7" fill="#f4e4ee" opacity="0.6"/>
<circle cx="325.7" cy="350.6" r="1.2" fill="#f4e4ee" opacity="0.6"/>
<circle cx="311.6" cy="342.6" r="1.1" fill="#f4e4ee" opacity="0.6"/>
<circle cx="310.1" cy="342.0" r="0.8" fill="#f4e4ee" opacity="0.6"/>
<circle cx="314.5" cy="342.3" r="0.7" fill="#f4e4ee" opacity="0.6"/>
<circle cx="322.5" cy="349.3" r="1.3" fill="#f4e4ee" opacity="0.6"/>
<circle cx="317.1" cy="346.1" r="0.8" fill="#f4e4ee" opacity="0.6"/>
<circle cx="313.9" cy="333.6" r="1.2" fill="#f4e4ee" opacity="0.6"/>
<circle cx="327.8" cy="348.2" r="1.3" fill="#f4e4ee" opacity="0.6"/>
<circle cx="325.6" cy="352.7" r="0.8" fill="#f4e4ee" opacity="0.6"/>
<circle cx="314.1" cy="345.4" r="1.3" fill="#f4e4ee" opacity="0.6"/>
<circle cx="313.8" cy="343.7" r="1.0" fill="#f4e4ee" opacity="0.6"/>
<circle cx="314.1" cy="344.3" r="0.7" fill="#f4e4ee" opacity="0.6"/>
<circle cx="312.4" cy="343.2" r="1.0" fill="#f4e4ee" opacity="0.6"/>
<circle cx="308.3" cy="334.6" r="0.7" fill="#f4e4ee" opacity="0.6"/>
<circle cx="331.7" cy="367.5" r="1.1" fill="#f4e4ee" opacity="0.6"/>
<circle cx="339.1" cy="365.3" r="0.8" fill="#f4e4ee" opacity="0.6"/>
<circle cx="331.8" cy="363.8" r="1.0" fill="#f4e4ee" opacity="0.6"/>
<circle cx="332.8" cy="360.2" r="1.3" fill="#f4e4ee" opacity="0.6"/>
<circle cx="335.6" cy="365.1" r="0.8" fill="#f4e4ee" opacity="0.6"/>
<circle cx="332.4" cy="363.4" r="1.3" fill="#f4e4ee" opacity="0.6"/>
<circle cx="325.7" cy="354.1" r="0.7" fill="#f4e4ee" opacity="0.6"/>
<circle cx="340.7" cy="369.2" r="0.9" fill="#f4e4ee" opacity="0.6"/>
<circle cx="335.7" cy="370.6" r="1.2" fill="#f4e4ee" opacity="0.6"/>
<circle cx="329.1" cy="361.7" r="0.9" fill="#f4e4ee" opacity="0.6"/>
<circle cx="322.1" cy="352.6" r="1.1" fill="#f4e4ee" opacity="0.6"/>
<circle cx="323.9" cy="351.7" r="1.0" fill="#f4e4ee" opacity="0.6"/>
<circle cx="334.1" cy="365.3" r="1.2" fill="#f4e4ee" opacity="0.6"/>
<circle cx="330.1" cy="359.9" r="1.1" fill="#f4e4ee" opacity="0.6"/>
<circle cx="338.0" cy="383.4" r="0.9" fill="#f4e4ee" opacity="0.6"/>
<circle cx="336.0" cy="388.8" r="0.6" fill="#f4e4ee" opacity="0.6"/>
<circle cx="340.9" cy="374.7" r="0.7" fill="#f4e4ee" opacity="0.6"/>
<circle cx="340.7" cy="379.9" r="1.3" fill="#f4e4ee" opacity="0.6"/>
<circle cx="341.6" cy="382.9" r="0.9" fill="#f4e4ee" opacity="0.6"/>
<circle cx="351.1" cy="397.5" r="1.2" fill="#f4e4ee" opacity="0.6"/>
<circle cx="347.0" cy="389.1" r="0.9" fill="#f4e4ee" opacity="0.6"/>
<circle cx="336.6" cy="381.7" r="1.0" fill="#f4e4ee" opacity="0.6"/>
<circle cx="345.7" cy="399.4" r="0.9" fill="#f4e4ee" opacity="0.6"/>
<circle cx="345.2" cy="392.2" r="0.7" fill="#f4e4ee" opacity="0.6"/>
<circle cx="345.6" cy="387.1" r="1.1" fill="#f4e4ee" opacity="0.6"/>
<circle cx="345.3" cy="402.0" r="1.3" fill="#f4e4ee" opacity="0.6"/>
<circle cx="344.2" cy="394.3" r="0.8" fill="#f4e4ee" opacity="0.6"/>
<circle cx="339.5" cy="377.4" r="0.9" fill="#f4e4ee" opacity="0.6"/>
<defs><linearGradient id="fadeR" x1="0" x2="1" y1="0" y2="0"><stop offset="0.55" stop-color="#dba6cf" stop-opacity="0"/><stop offset="1" stop-color="#dca8d0" stop-opacity="0.8"/></linearGradient></defs>
<rect x="294.8" y="291.8" width="112.3" height="110.1" fill="url(#fadeR)"/>
<rect x="294.8" y="291.8" width="112.3" height="110.1" fill="#ffffff" filter="url(#hp1)" opacity="0.3"/>
</g>
<g clip-path="url(#c2)">
<rect x="294.8" y="427.3" width="113.3" height="110.5" fill="#a67abd"/>
<rect x="294.8" y="427.3" width="113.3" height="110.5" fill="#ffffff" filter="url(#hw2)" opacity="0.55"/>
<rect x="294.8" y="427.3" width="113.3" height="110.5" fill="#ffffff" filter="url(#hd2)" opacity="0.4"/>
<path d="M335.5,462 C341,474 346,484 352,494 C355,500 359,506 361.5,514" fill="none" stroke="#d890c4" stroke-width="1.8" opacity="0.85"/><path d="M337,461 C343,473 349,484 354,494" fill="none" stroke="#b060a8" stroke-width="0.7" opacity="0.6"/>
<circle cx="325.8" cy="495.6" r="2.8" fill="#ffffff"/>
<circle cx="340.9" cy="513" r="3.2" fill="#ffffff"/>
<circle cx="397.3" cy="504.3" r="1.8" fill="#ffffff"/>
</g>
<g fill="#2a72b4"><rect x="500.4" y="285.4" width="2.5" height="12"/><rect x="504.2" y="285.4" width="2.5" height="12"/></g>
<g fill="#dddddd"><rect x="501" y="297.4" width="1.4" height="12"/><rect x="504.8" y="297.4" width="1.4" height="12"/></g>
<circle cx="504.6" cy="330" r="21" fill="#90d09c" stroke="#62b074" stroke-width="1.2"/>
<circle cx="510.3" cy="331.5" r="13.3" fill="#3f9b5a"/>
<path d="M565.4,326.2 L556.3,320.3 L567.1,319.4 Q565.1,324.6 566.4,321.3 L558.9,312.8 L569.9,315.3 Q567.6,317.5 570.2,315.0 L562.6,298.2 L575.9,311.0 Q572.5,312.3 575.8,311.0 L577.2,301.4 L582.6,309.5 Q578.9,309.5 582.4,309.5 L587.3,302.0 L589.3,310.7 Q583.3,309.0 586.8,309.9 L593.6,303.3 L593.1,312.8 Q591.2,311.0 593.9,313.4 L603.1,310.2 L598.3,318.7 Q596.1,314.7 597.8,317.9 L608.2,317.8 L600.2,324.4 Q600.8,324.8 600.4,328.3 L608.8,334.3 L598.5,335.0 Q600.5,331.0 598.9,334.2 L601.8,340.6 L594.8,339.8 Q598.9,335.2 596.6,337.9 L601.8,349.4 L591.3,342.4 Q593.1,341.8 589.7,343.1 L588.0,352.0 L582.9,344.5 Q584.8,344.9 581.2,344.4 L575.3,352.0 L574.6,342.4 Q576.5,343.8 573.5,341.8 L561.4,349.4 L568.5,337.0 Q571.6,341.0 569.4,338.2 L557.6,340.6 L566.1,332.1 Q567.2,335.9 566.3,332.4 L552.5,330.5 L565.5,325.5Z" fill="#a993d9" stroke="#a993d9" stroke-width="2.4" stroke-linejoin="round"/>
<circle cx="582.9" cy="327" r="18.5" fill="#a993d9"/>
<circle cx="583.5" cy="330.5" r="9" fill="#8457b0"/>
<circle cx="576.1" cy="328.1" r="0.6" fill="#8a6ab8"/>
<circle cx="579.5" cy="329.7" r="0.6" fill="#8a6ab8"/>
<circle cx="586.2" cy="315.7" r="0.6" fill="#8a6ab8"/>
<circle cx="570.2" cy="335.8" r="0.6" fill="#8a6ab8"/>
<circle cx="576.6" cy="320.1" r="0.6" fill="#8a6ab8"/>
<circle cx="595.8" cy="326.2" r="0.6" fill="#8a6ab8"/>
<circle cx="591.6" cy="326.4" r="0.6" fill="#8a6ab8"/>
<circle cx="586.5" cy="317.9" r="0.6" fill="#8a6ab8"/>
<circle cx="586.4" cy="336.6" r="0.6" fill="#8a6ab8"/>
<circle cx="583.5" cy="333.3" r="0.6" fill="#8a6ab8"/>
<circle cx="587.4" cy="315.7" r="0.6" fill="#8a6ab8"/>
<circle cx="589.6" cy="329.4" r="0.6" fill="#8a6ab8"/>
<circle cx="577.7" cy="314.8" r="0.6" fill="#8a6ab8"/>
<circle cx="592.4" cy="326.3" r="0.6" fill="#8a6ab8"/>
<rect x="454.6" y="399.8" width="153.3" height="125.6" fill="#ffffff" stroke="#7a7a7a" stroke-width="1.3"/>
<path d="M454.8,406.5 H462.8 V407 H464.5 V414 H465.5 V418 H471 V420 H473.7 V427 H474.7 V428.7 H481.2 V432.5 H482.3 V446.6 H486.7 V448.7 H489.9 V451 H491.5 V456.3 H497.5 V459 H499.3 V460.2 H501 V467.7 H505.8 V470.5 H509.1 V474.2 H514.5 V478 H517.2 V480.7 H518.3 V488.9 H525.3 V490.5 H527 V497 H533.4 V500.8 H535.8 V507.8 H549.4 V508.5 H553.3 V511 H554 V515 H559.1 V515.6 H559.8 V517.5 H570.8 V518.2 H571.4 V521.4 H589" fill="none" stroke="#3c5aa6" stroke-width="1.6"/>
<path d="M454.8,406.5 H462.8 V407 H463.5 V414 H468.5 V415.5 H472.6 V419.5 H473.7 V422.5 H481.8 V426 H482.9 V429.8 H491 V432.5 H492.6 V441.7 H499.7 V445.5 H500.4 V453 H508 V454.2 H510.2 V457.5 H516.7 V458.5 H518.3 V461.5 H525.3 V462.3 H527 V466 H536.2 V470.8 H541.6 V476 H546.4 V482.3 H553.3 V489.7 H607.5" fill="none" stroke="#e6302e" stroke-width="1.6"/>
<circle cx="550.8" cy="451.8" r="5.3" fill="#c87a72"/>
<circle cx="551.2" cy="452.1" r="2.6" fill="#c47870" opacity="0.7"/>
<circle cx="567.6" cy="448.6" r="5.0" fill="#bc6a62"/>
<circle cx="568.0" cy="449.0" r="2.5" fill="#d48a84" opacity="0.7"/>
<circle cx="557.1" cy="445.4" r="4.7" fill="#d89088"/>
<circle cx="557.5" cy="445.8" r="2.3" fill="#c47870" opacity="0.7"/>
<circle cx="570.8" cy="460.1" r="5.6" fill="#c87a72"/>
<circle cx="571.2" cy="460.5" r="2.8" fill="#d48a84" opacity="0.7"/>
<circle cx="549.8" cy="463.3" r="5.0" fill="#bc6a62"/>
<circle cx="550.2" cy="463.7" r="2.5" fill="#e0a098" opacity="0.7"/>
<circle cx="562.4" cy="467.5" r="5.0" fill="#bc6a62"/>
<circle cx="562.8" cy="467.9" r="2.5" fill="#e0a098" opacity="0.7"/>
<circle cx="572.9" cy="451.8" r="5.1" fill="#c87a72"/>
<circle cx="573.3" cy="452.1" r="2.6" fill="#e0a098" opacity="0.7"/>
<circle cx="546.6" cy="455.9" r="5.3" fill="#bc6a62"/>
<circle cx="547.0" cy="456.3" r="2.7" fill="#e0a098" opacity="0.7"/>
<circle cx="552.9" cy="468.6" r="5.8" fill="#c87a72"/>
<circle cx="553.3" cy="468.9" r="2.9" fill="#c47870" opacity="0.7"/>
<circle cx="569.8" cy="467.5" r="5.3" fill="#bc6a62"/>
<circle cx="570.1" cy="467.9" r="2.7" fill="#d48a84" opacity="0.7"/>
<circle cx="560.3" cy="457.0" r="5.0" fill="#dc9a92"/>
<circle cx="560.7" cy="457.4" r="2.5" fill="#d48a84" opacity="0.7"/>
<circle cx="555.0" cy="461.2" r="4.6" fill="#dc9a92"/>
<circle cx="555.4" cy="461.6" r="2.3" fill="#e0a098" opacity="0.7"/>
<circle cx="566.6" cy="455.9" r="4.8" fill="#eab2aa"/>
<circle cx="567.0" cy="456.3" r="2.4" fill="#d48a84" opacity="0.7"/>
<circle cx="559.2" cy="452.8" r="5.3" fill="#e4a69e"/>
<circle cx="559.6" cy="453.2" r="2.6" fill="#c47870" opacity="0.7"/>
<circle cx="564.5" cy="463.3" r="5.0" fill="#dc9a92"/>
<circle cx="564.9" cy="463.7" r="2.5" fill="#e0a098" opacity="0.7"/>
<path d="M548.8,443.4 L556.6,452.3 L551.9,460.7 L571.8,464.4" fill="none" stroke="#70c090" stroke-width="0.6" opacity="0.8"/>
<circle cx="548.8" cy="443.4" r="1.6" fill="#36b868"/>
<circle cx="556.6" cy="452.3" r="1.6" fill="#36b868"/>
<circle cx="551.9" cy="460.7" r="1.6" fill="#36b868"/>
<circle cx="571.8" cy="464.4" r="1.6" fill="#36b868"/>
<circle cx="477.9" cy="478.5" r="4.1" fill="#c87a72"/>
<circle cx="478.3" cy="478.9" r="2.0" fill="#d48a84" opacity="0.7"/>
<circle cx="492.3" cy="475.8" r="4.2" fill="#bc6a62"/>
<circle cx="492.7" cy="476.2" r="2.1" fill="#d48a84" opacity="0.7"/>
<circle cx="483.3" cy="473.1" r="4.8" fill="#c87a72"/>
<circle cx="483.7" cy="473.5" r="2.4" fill="#c47870" opacity="0.7"/>
<circle cx="495.0" cy="485.7" r="4.0" fill="#bc6a62"/>
<circle cx="495.4" cy="486.1" r="2.0" fill="#d48a84" opacity="0.7"/>
<circle cx="477.0" cy="488.4" r="4.3" fill="#c87a72"/>
<circle cx="477.4" cy="488.8" r="2.2" fill="#c47870" opacity="0.7"/>
<circle cx="487.8" cy="492.0" r="4.1" fill="#d89088"/>
<circle cx="488.2" cy="492.4" r="2.0" fill="#c47870" opacity="0.7"/>
<circle cx="496.8" cy="478.5" r="4.0" fill="#d89088"/>
<circle cx="497.2" cy="478.9" r="2.0" fill="#c47870" opacity="0.7"/>
<circle cx="474.3" cy="482.1" r="3.9" fill="#d89088"/>
<circle cx="474.7" cy="482.5" r="1.9" fill="#d48a84" opacity="0.7"/>
<circle cx="479.7" cy="492.9" r="4.4" fill="#c87a72"/>
<circle cx="480.1" cy="493.3" r="2.2" fill="#e0a098" opacity="0.7"/>
<circle cx="494.1" cy="492.0" r="4.6" fill="#bc6a62"/>
<circle cx="494.5" cy="492.4" r="2.3" fill="#c47870" opacity="0.7"/>
<circle cx="486.0" cy="483.0" r="4.4" fill="#dc9a92"/>
<circle cx="486.4" cy="483.4" r="2.2" fill="#d48a84" opacity="0.7"/>
<circle cx="481.5" cy="486.6" r="4.7" fill="#e4a69e"/>
<circle cx="481.9" cy="487.0" r="2.3" fill="#e0a098" opacity="0.7"/>
<circle cx="491.4" cy="482.1" r="4.3" fill="#eab2aa"/>
<circle cx="491.8" cy="482.5" r="2.2" fill="#d48a84" opacity="0.7"/>
<circle cx="485.1" cy="479.4" r="4.1" fill="#e4a69e"/>
<circle cx="485.5" cy="479.8" r="2.0" fill="#d48a84" opacity="0.7"/>
<circle cx="489.6" cy="488.4" r="4.1" fill="#dc9a92"/>
<circle cx="490.0" cy="488.8" r="2.0" fill="#d48a84" opacity="0.7"/>
<path d="M493.2,486.6 L497.7,484.8" fill="none" stroke="#70c090" stroke-width="0.6" opacity="0.8"/>
<circle cx="493.2" cy="486.6" r="1.6" fill="#36b868"/>
<circle cx="497.7" cy="484.8" r="1.6" fill="#36b868"/>
<defs><filter id="gaa" x="0" y="0" width="100%" height="100%"><feOffset dx="0" dy="0"/></filter></defs>
<g font-family="Liberation Sans, sans-serif" filter="url(#gaa)">
<text x="69" y="36.7" font-size="12.5" text-anchor="end" fill="#333333" stroke="#333333" stroke-width="0.35" >Tumor</text>
<text x="68.5" y="52.4" font-size="12.5" text-anchor="end" fill="#333333" stroke="#333333" stroke-width="0.35" >Region 1</text>
<text x="161" y="25.1" font-size="12.5" text-anchor="start" fill="#333333" stroke="#333333" stroke-width="0.35" >Tumor</text>
<text x="161" y="40.5" font-size="12.5" text-anchor="start" fill="#333333" stroke="#333333" stroke-width="0.35" >Region 2</text>
<text x="167.5" y="86.4" font-size="12.5" text-anchor="start" fill="#333333" stroke="#333333" stroke-width="0.35" >Tumor</text>
<text x="167.5" y="101.7" font-size="12.5" text-anchor="start" fill="#333333" stroke="#333333" stroke-width="0.35" >Region 3</text>
<text x="63.4" y="181" font-size="12.8" text-anchor="end" fill="#333333" stroke="#333333" stroke-width="0.35" >Normal</text>
<text x="63.4" y="195.9" font-size="12.8" text-anchor="end" fill="#333333" stroke="#333333" stroke-width="0.35" >Kidney</text>
<text x="226" y="171.4" font-size="12.9" text-anchor="start" fill="#333333" stroke="#333333" stroke-width="0.35" >PBMC</text>
<text x="158.5" y="222" font-size="12.8" text-anchor="start" fill="#333333" stroke="#333333" stroke-width="0.35" >Lymph Node</text>
<text x="367.3" y="31.5" font-size="12.9" text-anchor="middle" fill="#333333" stroke="#333333" stroke-width="0.35" >scRNA-seq</text>
<text x="536" y="55.3" font-size="12.8" text-anchor="middle" fill="#333333" stroke="#333333" stroke-width="0.35" >scTCR-seq</text>
<text x="135.6" y="254.7" font-size="14" text-anchor="middle" fill="#333333" stroke="#333333" stroke-width="0.35" >TCR clonotype expansion and T cell</text>
<text x="135.6" y="271.5" font-size="14" text-anchor="middle" fill="#333333" stroke="#333333" stroke-width="0.35" >differentation pathways in</text>
<text x="135.6" y="288.8" font-size="14" text-anchor="middle" fill="#333333" stroke="#333333" stroke-width="0.35" >ICB response vs resistance</text>
<text x="123.7" y="352" font-size="12.9" text-anchor="middle" fill="#333333" stroke="#333333" stroke-width="0.35" >anti-PD1</text>
<text x="123.8" y="366.7" font-size="12.9" text-anchor="middle" fill="#333333" stroke="#333333" stroke-width="0.35" >anti-CTLA-4</text>
<text x="350.3" y="255" font-size="14" text-anchor="middle" fill="#333333" stroke="#333333" stroke-width="0.35" >Pathologic Review</text>
<text x="351" y="283.3" font-size="12.9" text-anchor="middle" fill="#333333" stroke="#333333" stroke-width="0.35" >Complete Regression</text>
<text x="351.4" y="422.2" font-size="12.7" text-anchor="middle" fill="#333333" stroke="#333333" stroke-width="0.35" >High Grade</text>
<text x="524.9" y="255.5" font-size="14" text-anchor="middle" fill="#333333" stroke="#333333" stroke-width="0.35" >scRNA signatures</text>
<text x="525.3" y="271.9" font-size="14" text-anchor="middle" fill="#333333" stroke="#333333" stroke-width="0.35" >predict clinical outcome</text>
<text x="466" y="366.8" font-size="12.3" fill="#333333" stroke="#333333" stroke-width="0.35">CD8<tspan font-size="6" dy="-5">+</tspan><tspan dy="5" x="501.3">Tissue-</tspan></text>
<text x="503.8" y="381.8" font-size="12.9" text-anchor="middle" fill="#333333" stroke="#333333" stroke-width="0.35" >Resident (TR) T cells</text>
<text x="582.3" y="369.8" font-size="12.3" text-anchor="middle" fill="#333333" stroke="#333333" stroke-width="0.35" >TAMs</text>
<text x="537.5" y="433.2" font-size="12.7" text-anchor="start" fill="#333333" stroke="#333333" stroke-width="0.35" >TR High</text>
<text x="466" y="511.6" font-size="12.7" text-anchor="start" fill="#333333" stroke="#333333" stroke-width="0.35" >TR Low</text>
<text x="518.6" y="538.9" font-size="12.0" text-anchor="start" fill="#333333" stroke="#333333" stroke-width="0.35" >Time</text>
<text x="0" y="0" font-size="12.5" fill="#333333" stroke="#333333" stroke-width="0.35" text-anchor="middle" transform="translate(448.6,465) rotate(-90)">PFS</text>
</g>
</svg></body></html>
